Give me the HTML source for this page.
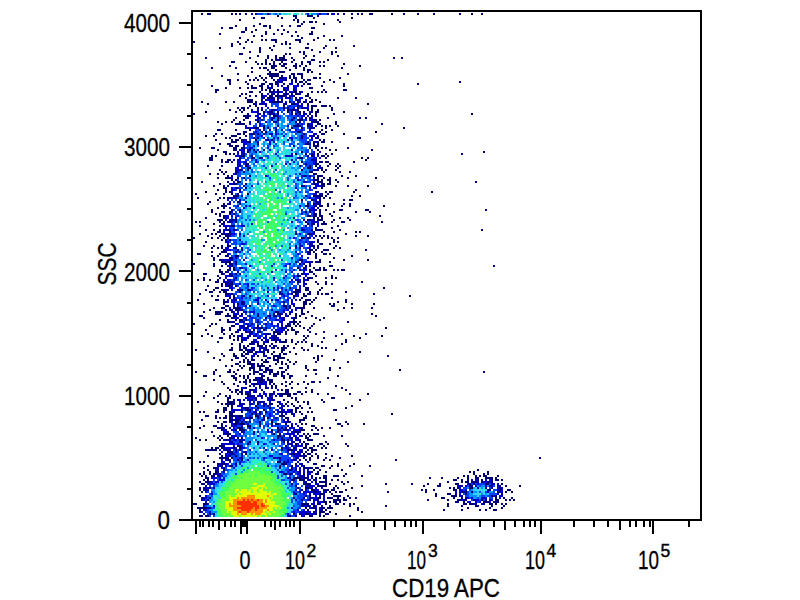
<!DOCTYPE html>
<html><head><meta charset="utf-8"><style>html,body{margin:0;padding:0;background:#fff;width:800px;height:600px;overflow:hidden}svg{display:block}</style></head>
<body><svg width="800" height="600" viewBox="0 0 800 600">
<g shape-rendering="crispEdges">
<path fill="#000070" d="M201 13h2v2h-2zM207 13h2v2h-2zM209 13h2v2h-2zM231 13h2v2h-2zM235 13h2v2h-2zM239 13h2v2h-2zM245 13h2v2h-2zM255 13h2v2h-2zM267 13h2v2h-2zM319 13h2v2h-2zM327 13h2v2h-2zM343 13h2v2h-2zM351 13h2v2h-2zM357 13h2v2h-2zM361 13h2v2h-2zM369 13h2v2h-2zM371 13h2v2h-2zM391 13h2v2h-2zM403 13h2v2h-2zM417 13h2v2h-2zM433 13h2v2h-2zM459 13h2v2h-2zM471 13h2v2h-2zM481 13h2v2h-2zM277 15h2v2h-2zM293 15h2v2h-2zM295 15h2v2h-2zM307 15h2v2h-2zM309 15h2v2h-2zM311 15h2v2h-2zM317 15h2v2h-2zM253 17h2v2h-2zM261 17h2v2h-2zM263 17h2v2h-2zM281 17h2v2h-2zM295 17h2v2h-2zM313 17h2v2h-2zM351 17h2v2h-2zM239 19h2v2h-2zM293 19h2v2h-2zM297 19h2v2h-2zM337 19h2v2h-2zM297 21h2v2h-2zM303 21h2v2h-2zM309 21h2v2h-2zM311 21h2v2h-2zM315 21h2v2h-2zM339 21h2v2h-2zM259 23h2v2h-2zM301 23h2v2h-2zM323 23h2v2h-2zM235 25h2v2h-2zM253 25h2v2h-2zM263 25h2v2h-2zM265 25h2v2h-2zM269 25h2v2h-2zM281 25h2v2h-2zM289 25h2v2h-2zM297 25h2v2h-2zM299 25h2v2h-2zM221 27h2v2h-2zM229 27h2v2h-2zM231 27h2v2h-2zM245 27h2v2h-2zM269 27h2v2h-2zM311 27h2v2h-2zM313 27h2v2h-2zM245 29h2v2h-2zM255 29h2v2h-2zM277 29h2v2h-2zM283 29h2v2h-2zM241 31h2v2h-2zM243 31h2v2h-2zM251 31h2v2h-2zM265 31h2v2h-2zM287 31h2v2h-2zM295 31h2v2h-2zM311 31h2v2h-2zM219 33h2v2h-2zM265 33h2v2h-2zM273 33h2v2h-2zM281 33h2v2h-2zM309 33h2v2h-2zM311 33h2v2h-2zM253 35h2v2h-2zM261 35h2v2h-2zM291 35h2v2h-2zM297 35h2v2h-2zM323 35h2v2h-2zM341 35h2v2h-2zM239 37h2v2h-2zM301 37h2v2h-2zM317 37h2v2h-2zM247 39h2v2h-2zM261 39h2v2h-2zM265 39h2v2h-2zM271 39h2v2h-2zM273 39h2v2h-2zM275 39h2v2h-2zM295 39h2v2h-2zM297 39h2v2h-2zM299 39h2v2h-2zM313 39h2v2h-2zM329 39h2v2h-2zM333 39h2v2h-2zM193 41h2v2h-2zM237 41h2v2h-2zM245 41h2v2h-2zM251 41h2v2h-2zM275 41h2v2h-2zM285 41h2v2h-2zM299 41h2v2h-2zM231 43h2v2h-2zM239 43h2v2h-2zM281 43h2v2h-2zM285 43h2v2h-2zM289 43h2v2h-2zM307 43h2v2h-2zM231 45h2v2h-2zM273 45h2v2h-2zM325 45h2v2h-2zM353 45h2v2h-2zM219 47h2v2h-2zM243 47h2v2h-2zM259 47h2v2h-2zM269 47h2v2h-2zM289 47h2v2h-2zM305 47h2v2h-2zM307 47h2v2h-2zM323 47h2v2h-2zM335 47h2v2h-2zM259 49h2v2h-2zM271 49h2v2h-2zM311 49h2v2h-2zM249 51h2v2h-2zM259 51h2v2h-2zM299 51h2v2h-2zM303 51h2v2h-2zM319 51h2v2h-2zM331 51h2v2h-2zM335 51h2v2h-2zM239 53h2v2h-2zM241 53h2v2h-2zM285 53h2v2h-2zM289 53h2v2h-2zM303 53h2v2h-2zM331 53h2v2h-2zM257 55h2v2h-2zM267 55h2v2h-2zM275 55h2v2h-2zM283 55h2v2h-2zM305 55h2v2h-2zM313 55h2v2h-2zM337 55h2v2h-2zM205 57h2v2h-2zM249 57h2v2h-2zM267 57h2v2h-2zM275 57h2v2h-2zM279 57h2v2h-2zM281 57h2v2h-2zM283 57h2v2h-2zM291 57h2v2h-2zM303 57h2v2h-2zM393 57h2v2h-2zM401 57h2v2h-2zM265 59h2v2h-2zM271 59h2v2h-2zM275 59h2v2h-2zM277 59h2v2h-2zM279 59h2v2h-2zM281 59h2v2h-2zM283 59h2v2h-2zM285 59h2v2h-2zM293 59h2v2h-2zM311 59h2v2h-2zM313 59h2v2h-2zM327 59h2v2h-2zM231 61h2v2h-2zM233 61h2v2h-2zM245 61h2v2h-2zM255 61h2v2h-2zM265 61h2v2h-2zM273 61h2v2h-2zM281 61h2v2h-2zM291 61h2v2h-2zM301 61h2v2h-2zM307 61h2v2h-2zM309 61h2v2h-2zM319 61h2v2h-2zM323 61h2v2h-2zM257 63h2v2h-2zM261 63h2v2h-2zM265 63h2v2h-2zM269 63h2v2h-2zM273 63h2v2h-2zM279 63h2v2h-2zM283 63h2v2h-2zM285 63h2v2h-2zM295 63h2v2h-2zM301 63h2v2h-2zM309 63h2v2h-2zM343 63h2v2h-2zM229 65h2v2h-2zM271 65h2v2h-2zM273 65h2v2h-2zM275 65h2v2h-2zM281 65h2v2h-2zM283 65h2v2h-2zM293 65h2v2h-2zM295 65h2v2h-2zM299 65h2v2h-2zM305 65h2v2h-2zM319 65h2v2h-2zM323 65h2v2h-2zM359 65h2v2h-2zM211 67h2v2h-2zM235 67h2v2h-2zM251 67h2v2h-2zM259 67h2v2h-2zM263 67h2v2h-2zM265 67h2v2h-2zM271 67h2v2h-2zM273 67h2v2h-2zM285 67h2v2h-2zM295 67h2v2h-2zM303 67h2v2h-2zM341 67h2v2h-2zM267 69h2v2h-2zM275 69h2v2h-2zM289 69h2v2h-2zM303 69h2v2h-2zM307 69h2v2h-2zM309 69h2v2h-2zM251 71h2v2h-2zM269 71h2v2h-2zM279 71h2v2h-2zM281 71h2v2h-2zM283 71h2v2h-2zM307 71h2v2h-2zM311 71h2v2h-2zM237 73h2v2h-2zM267 73h2v2h-2zM269 73h2v2h-2zM271 73h2v2h-2zM273 73h2v2h-2zM275 73h2v2h-2zM277 73h2v2h-2zM291 73h2v2h-2zM293 73h2v2h-2zM297 73h2v2h-2zM299 73h2v2h-2zM301 73h2v2h-2zM319 73h2v2h-2zM347 73h2v2h-2zM221 75h2v2h-2zM247 75h2v2h-2zM259 75h2v2h-2zM269 75h2v2h-2zM271 75h2v2h-2zM273 75h2v2h-2zM275 75h2v2h-2zM277 75h2v2h-2zM281 75h2v2h-2zM289 75h2v2h-2zM293 75h2v2h-2zM301 75h2v2h-2zM255 77h2v2h-2zM261 77h2v2h-2zM265 77h2v2h-2zM271 77h2v2h-2zM279 77h2v2h-2zM281 77h2v2h-2zM289 77h2v2h-2zM293 77h2v2h-2zM295 77h2v2h-2zM301 77h2v2h-2zM313 77h2v2h-2zM315 77h2v2h-2zM319 77h2v2h-2zM339 77h2v2h-2zM227 79h2v2h-2zM229 79h2v2h-2zM237 79h2v2h-2zM249 79h2v2h-2zM253 79h2v2h-2zM257 79h2v2h-2zM263 79h2v2h-2zM273 79h2v2h-2zM285 79h2v2h-2zM291 79h2v2h-2zM295 79h2v2h-2zM303 79h2v2h-2zM307 79h2v2h-2zM309 79h2v2h-2zM329 79h2v2h-2zM229 81h2v2h-2zM245 81h2v2h-2zM265 81h2v2h-2zM275 81h2v2h-2zM277 81h2v2h-2zM281 81h2v2h-2zM295 81h2v2h-2zM299 81h2v2h-2zM301 81h2v2h-2zM305 81h2v2h-2zM323 81h2v2h-2zM333 81h2v2h-2zM459 81h2v2h-2zM229 83h2v2h-2zM247 83h2v2h-2zM261 83h2v2h-2zM263 83h2v2h-2zM269 83h2v2h-2zM271 83h2v2h-2zM275 83h2v2h-2zM283 83h2v2h-2zM297 83h2v2h-2zM303 83h2v2h-2zM307 83h2v2h-2zM309 83h2v2h-2zM343 83h2v2h-2zM417 83h2v2h-2zM211 85h2v2h-2zM251 85h2v2h-2zM259 85h2v2h-2zM261 85h2v2h-2zM287 85h2v2h-2zM321 85h2v2h-2zM343 85h2v2h-2zM225 87h2v2h-2zM239 87h2v2h-2zM247 87h2v2h-2zM251 87h2v2h-2zM253 87h2v2h-2zM255 87h2v2h-2zM261 87h2v2h-2zM267 87h2v2h-2zM271 87h2v2h-2zM287 87h2v2h-2zM309 87h2v2h-2zM311 87h2v2h-2zM215 89h2v2h-2zM217 89h2v2h-2zM261 89h2v2h-2zM265 89h2v2h-2zM269 89h2v2h-2zM273 89h2v2h-2zM277 89h2v2h-2zM283 89h2v2h-2zM293 89h2v2h-2zM323 89h2v2h-2zM343 89h2v2h-2zM345 89h2v2h-2zM215 91h2v2h-2zM249 91h2v2h-2zM251 91h2v2h-2zM259 91h2v2h-2zM269 91h2v2h-2zM271 91h2v2h-2zM277 91h2v2h-2zM293 91h2v2h-2zM295 91h2v2h-2zM299 91h2v2h-2zM311 91h2v2h-2zM317 91h2v2h-2zM321 91h2v2h-2zM325 91h2v2h-2zM241 93h2v2h-2zM245 93h2v2h-2zM261 93h2v2h-2zM273 93h2v2h-2zM285 93h2v2h-2zM291 93h2v2h-2zM295 93h2v2h-2zM297 93h2v2h-2zM307 93h2v2h-2zM239 95h2v2h-2zM249 95h2v2h-2zM255 95h2v2h-2zM261 95h2v2h-2zM269 95h2v2h-2zM271 95h2v2h-2zM275 95h2v2h-2zM277 95h2v2h-2zM279 95h2v2h-2zM281 95h2v2h-2zM283 95h2v2h-2zM293 95h2v2h-2zM305 95h2v2h-2zM307 95h2v2h-2zM245 97h2v2h-2zM263 97h2v2h-2zM267 97h2v2h-2zM269 97h2v2h-2zM271 97h2v2h-2zM277 97h2v2h-2zM289 97h2v2h-2zM295 97h2v2h-2zM309 97h2v2h-2zM337 97h2v2h-2zM355 97h2v2h-2zM247 99h2v2h-2zM249 99h2v2h-2zM251 99h2v2h-2zM261 99h2v2h-2zM265 99h2v2h-2zM273 99h2v2h-2zM281 99h2v2h-2zM297 99h2v2h-2zM311 99h2v2h-2zM315 99h2v2h-2zM201 101h2v2h-2zM225 101h2v2h-2zM233 101h2v2h-2zM247 101h2v2h-2zM249 101h2v2h-2zM251 101h2v2h-2zM255 101h2v2h-2zM271 101h2v2h-2zM273 101h2v2h-2zM275 101h2v2h-2zM277 101h2v2h-2zM279 101h2v2h-2zM289 101h2v2h-2zM297 101h2v2h-2zM303 101h2v2h-2zM309 101h2v2h-2zM311 101h2v2h-2zM319 101h2v2h-2zM207 103h2v2h-2zM253 103h2v2h-2zM261 103h2v2h-2zM265 103h2v2h-2zM285 103h2v2h-2zM291 103h2v2h-2zM293 103h2v2h-2zM307 103h2v2h-2zM367 103h2v2h-2zM249 105h2v2h-2zM255 105h2v2h-2zM283 105h2v2h-2zM297 105h2v2h-2zM311 105h2v2h-2zM313 105h2v2h-2zM315 105h2v2h-2zM321 105h2v2h-2zM323 105h2v2h-2zM325 105h2v2h-2zM329 105h2v2h-2zM237 107h2v2h-2zM241 107h2v2h-2zM243 107h2v2h-2zM247 107h2v2h-2zM257 107h2v2h-2zM283 107h2v2h-2zM287 107h2v2h-2zM297 107h2v2h-2zM301 107h2v2h-2zM311 107h2v2h-2zM331 107h2v2h-2zM229 109h2v2h-2zM239 109h2v2h-2zM243 109h2v2h-2zM251 109h2v2h-2zM261 109h2v2h-2zM271 109h2v2h-2zM287 109h2v2h-2zM291 109h2v2h-2zM293 109h2v2h-2zM297 109h2v2h-2zM307 109h2v2h-2zM311 109h2v2h-2zM317 109h2v2h-2zM331 109h2v2h-2zM205 111h2v2h-2zM235 111h2v2h-2zM241 111h2v2h-2zM257 111h2v2h-2zM263 111h2v2h-2zM269 111h2v2h-2zM271 111h2v2h-2zM277 111h2v2h-2zM287 111h2v2h-2zM291 111h2v2h-2zM297 111h2v2h-2zM299 111h2v2h-2zM303 111h2v2h-2zM311 111h2v2h-2zM315 111h2v2h-2zM317 111h2v2h-2zM343 111h2v2h-2zM193 113h2v2h-2zM247 113h2v2h-2zM259 113h2v2h-2zM269 113h2v2h-2zM273 113h2v2h-2zM277 113h2v2h-2zM291 113h2v2h-2zM295 113h2v2h-2zM299 113h2v2h-2zM309 113h2v2h-2zM315 113h2v2h-2zM333 113h2v2h-2zM471 113h2v2h-2zM243 115h2v2h-2zM245 115h2v2h-2zM247 115h2v2h-2zM273 115h2v2h-2zM275 115h2v2h-2zM315 115h2v2h-2zM235 117h2v2h-2zM245 117h2v2h-2zM247 117h2v2h-2zM259 117h2v2h-2zM271 117h2v2h-2zM277 117h2v2h-2zM293 117h2v2h-2zM301 117h2v2h-2zM305 117h2v2h-2zM309 117h2v2h-2zM327 117h2v2h-2zM359 117h2v2h-2zM365 117h2v2h-2zM233 119h2v2h-2zM243 119h2v2h-2zM257 119h2v2h-2zM261 119h2v2h-2zM271 119h2v2h-2zM277 119h2v2h-2zM291 119h2v2h-2zM297 119h2v2h-2zM299 119h2v2h-2zM301 119h2v2h-2zM313 119h2v2h-2zM315 119h2v2h-2zM319 119h2v2h-2zM217 121h2v2h-2zM225 121h2v2h-2zM231 121h2v2h-2zM239 121h2v2h-2zM257 121h2v2h-2zM275 121h2v2h-2zM295 121h2v2h-2zM299 121h2v2h-2zM313 121h2v2h-2zM315 121h2v2h-2zM317 121h2v2h-2zM335 121h2v2h-2zM221 123h2v2h-2zM235 123h2v2h-2zM237 123h2v2h-2zM239 123h2v2h-2zM241 123h2v2h-2zM243 123h2v2h-2zM297 123h2v2h-2zM307 123h2v2h-2zM317 123h2v2h-2zM319 123h2v2h-2zM335 123h2v2h-2zM381 123h2v2h-2zM263 125h2v2h-2zM277 125h2v2h-2zM293 125h2v2h-2zM295 125h2v2h-2zM297 125h2v2h-2zM299 125h2v2h-2zM307 125h2v2h-2zM311 125h2v2h-2zM321 125h2v2h-2zM325 125h2v2h-2zM329 125h2v2h-2zM337 125h2v2h-2zM247 127h2v2h-2zM253 127h2v2h-2zM255 127h2v2h-2zM257 127h2v2h-2zM263 127h2v2h-2zM267 127h2v2h-2zM291 127h2v2h-2zM301 127h2v2h-2zM309 127h2v2h-2zM313 127h2v2h-2zM325 127h2v2h-2zM403 127h2v2h-2zM217 129h2v2h-2zM219 129h2v2h-2zM235 129h2v2h-2zM249 129h2v2h-2zM259 129h2v2h-2zM275 129h2v2h-2zM289 129h2v2h-2zM321 129h2v2h-2zM331 129h2v2h-2zM243 131h2v2h-2zM245 131h2v2h-2zM261 131h2v2h-2zM265 131h2v2h-2zM297 131h2v2h-2zM299 131h2v2h-2zM319 131h2v2h-2zM325 131h2v2h-2zM375 131h2v2h-2zM215 133h2v2h-2zM221 133h2v2h-2zM237 133h2v2h-2zM239 133h2v2h-2zM243 133h2v2h-2zM251 133h2v2h-2zM253 133h2v2h-2zM257 133h2v2h-2zM263 133h2v2h-2zM303 133h2v2h-2zM321 133h2v2h-2zM323 133h2v2h-2zM343 133h2v2h-2zM205 135h2v2h-2zM213 135h2v2h-2zM231 135h2v2h-2zM233 135h2v2h-2zM235 135h2v2h-2zM245 135h2v2h-2zM301 135h2v2h-2zM313 135h2v2h-2zM317 135h2v2h-2zM225 137h2v2h-2zM229 137h2v2h-2zM239 137h2v2h-2zM253 137h2v2h-2zM257 137h2v2h-2zM301 137h2v2h-2zM317 137h2v2h-2zM357 137h2v2h-2zM359 137h2v2h-2zM215 139h2v2h-2zM231 139h2v2h-2zM235 139h2v2h-2zM237 139h2v2h-2zM241 139h2v2h-2zM243 139h2v2h-2zM255 139h2v2h-2zM267 139h2v2h-2zM271 139h2v2h-2zM287 139h2v2h-2zM319 139h2v2h-2zM323 139h2v2h-2zM231 141h2v2h-2zM233 141h2v2h-2zM235 141h2v2h-2zM247 141h2v2h-2zM249 141h2v2h-2zM307 141h2v2h-2zM313 141h2v2h-2zM317 141h2v2h-2zM321 141h2v2h-2zM323 141h2v2h-2zM331 141h2v2h-2zM219 143h2v2h-2zM227 143h2v2h-2zM229 143h2v2h-2zM257 143h2v2h-2zM305 143h2v2h-2zM307 143h2v2h-2zM313 143h2v2h-2zM317 143h2v2h-2zM229 145h2v2h-2zM231 145h2v2h-2zM235 145h2v2h-2zM237 145h2v2h-2zM313 145h2v2h-2zM315 145h2v2h-2zM317 145h2v2h-2zM199 147h2v2h-2zM211 147h2v2h-2zM213 147h2v2h-2zM233 147h2v2h-2zM235 147h2v2h-2zM241 147h2v2h-2zM243 147h2v2h-2zM309 147h2v2h-2zM315 147h2v2h-2zM321 147h2v2h-2zM325 147h2v2h-2zM347 147h2v2h-2zM217 149h2v2h-2zM233 149h2v2h-2zM235 149h2v2h-2zM243 149h2v2h-2zM249 149h2v2h-2zM253 149h2v2h-2zM263 149h2v2h-2zM317 149h2v2h-2zM329 149h2v2h-2zM335 149h2v2h-2zM371 149h2v2h-2zM223 151h2v2h-2zM225 151h2v2h-2zM247 151h2v2h-2zM255 151h2v2h-2zM301 151h2v2h-2zM483 151h2v2h-2zM225 153h2v2h-2zM229 153h2v2h-2zM233 153h2v2h-2zM243 153h2v2h-2zM295 153h2v2h-2zM305 153h2v2h-2zM311 153h2v2h-2zM317 153h2v2h-2zM325 153h2v2h-2zM331 153h2v2h-2zM461 153h2v2h-2zM211 155h2v2h-2zM215 155h2v2h-2zM241 155h2v2h-2zM243 155h2v2h-2zM251 155h2v2h-2zM307 155h2v2h-2zM311 155h2v2h-2zM321 155h2v2h-2zM323 155h2v2h-2zM327 155h2v2h-2zM209 157h2v2h-2zM211 157h2v2h-2zM239 157h2v2h-2zM251 157h2v2h-2zM259 157h2v2h-2zM299 157h2v2h-2zM301 157h2v2h-2zM325 157h2v2h-2zM361 157h2v2h-2zM367 157h2v2h-2zM209 159h2v2h-2zM211 159h2v2h-2zM221 159h2v2h-2zM227 159h2v2h-2zM229 159h2v2h-2zM311 159h2v2h-2zM315 159h2v2h-2zM365 159h2v2h-2zM221 161h2v2h-2zM225 161h2v2h-2zM227 161h2v2h-2zM231 161h2v2h-2zM301 161h2v2h-2zM315 161h2v2h-2zM319 161h2v2h-2zM321 161h2v2h-2zM325 161h2v2h-2zM327 161h2v2h-2zM353 161h2v2h-2zM245 163h2v2h-2zM247 163h2v2h-2zM305 163h2v2h-2zM315 163h2v2h-2zM317 163h2v2h-2zM329 163h2v2h-2zM337 163h2v2h-2zM207 165h2v2h-2zM221 165h2v2h-2zM239 165h2v2h-2zM245 165h2v2h-2zM299 165h2v2h-2zM309 165h2v2h-2zM315 165h2v2h-2zM327 165h2v2h-2zM335 165h2v2h-2zM339 165h2v2h-2zM247 167h2v2h-2zM249 167h2v2h-2zM307 167h2v2h-2zM309 167h2v2h-2zM321 167h2v2h-2zM337 167h2v2h-2zM219 169h2v2h-2zM239 169h2v2h-2zM247 169h2v2h-2zM301 169h2v2h-2zM313 169h2v2h-2zM317 169h2v2h-2zM321 169h2v2h-2zM325 169h2v2h-2zM335 169h2v2h-2zM221 171h2v2h-2zM225 171h2v2h-2zM235 171h2v2h-2zM243 171h2v2h-2zM309 171h2v2h-2zM311 171h2v2h-2zM323 171h2v2h-2zM339 171h2v2h-2zM349 171h2v2h-2zM209 173h2v2h-2zM217 173h2v2h-2zM223 173h2v2h-2zM235 173h2v2h-2zM313 173h2v2h-2zM315 173h2v2h-2zM227 175h2v2h-2zM231 175h2v2h-2zM249 175h2v2h-2zM303 175h2v2h-2zM309 175h2v2h-2zM317 175h2v2h-2zM319 175h2v2h-2zM321 175h2v2h-2zM341 175h2v2h-2zM355 175h2v2h-2zM217 177h2v2h-2zM225 177h2v2h-2zM227 177h2v2h-2zM229 177h2v2h-2zM237 177h2v2h-2zM243 177h2v2h-2zM313 177h2v2h-2zM317 177h2v2h-2zM323 177h2v2h-2zM329 177h2v2h-2zM347 177h2v2h-2zM375 177h2v2h-2zM231 179h2v2h-2zM235 179h2v2h-2zM315 179h2v2h-2zM317 179h2v2h-2zM321 179h2v2h-2zM327 179h2v2h-2zM329 179h2v2h-2zM335 179h2v2h-2zM201 181h2v2h-2zM227 181h2v2h-2zM237 181h2v2h-2zM239 181h2v2h-2zM313 181h2v2h-2zM317 181h2v2h-2zM319 181h2v2h-2zM321 181h2v2h-2zM329 181h2v2h-2zM337 181h2v2h-2zM475 181h2v2h-2zM219 183h2v2h-2zM233 183h2v2h-2zM235 183h2v2h-2zM245 183h2v2h-2zM313 183h2v2h-2zM321 183h2v2h-2zM323 183h2v2h-2zM327 183h2v2h-2zM329 183h2v2h-2zM213 185h2v2h-2zM223 185h2v2h-2zM227 185h2v2h-2zM303 185h2v2h-2zM321 185h2v2h-2zM323 185h2v2h-2zM335 185h2v2h-2zM347 185h2v2h-2zM367 185h2v2h-2zM223 187h2v2h-2zM225 187h2v2h-2zM235 187h2v2h-2zM245 187h2v2h-2zM321 187h2v2h-2zM217 189h2v2h-2zM225 189h2v2h-2zM239 189h2v2h-2zM355 189h2v2h-2zM205 191h2v2h-2zM225 191h2v2h-2zM229 191h2v2h-2zM315 191h2v2h-2zM317 191h2v2h-2zM325 191h2v2h-2zM329 191h2v2h-2zM331 191h2v2h-2zM353 191h2v2h-2zM431 191h2v2h-2zM195 193h2v2h-2zM215 193h2v2h-2zM223 193h2v2h-2zM231 193h2v2h-2zM237 193h2v2h-2zM247 193h2v2h-2zM321 193h2v2h-2zM327 193h2v2h-2zM233 195h2v2h-2zM235 195h2v2h-2zM237 195h2v2h-2zM305 195h2v2h-2zM313 195h2v2h-2zM315 195h2v2h-2zM317 195h2v2h-2zM319 195h2v2h-2zM321 195h2v2h-2zM325 195h2v2h-2zM351 195h2v2h-2zM359 195h2v2h-2zM197 197h2v2h-2zM219 197h2v2h-2zM223 197h2v2h-2zM227 197h2v2h-2zM229 197h2v2h-2zM233 197h2v2h-2zM319 197h2v2h-2zM323 197h2v2h-2zM329 197h2v2h-2zM217 199h2v2h-2zM301 199h2v2h-2zM311 199h2v2h-2zM319 199h2v2h-2zM343 199h2v2h-2zM349 199h2v2h-2zM351 199h2v2h-2zM209 201h2v2h-2zM237 201h2v2h-2zM245 201h2v2h-2zM315 201h2v2h-2zM319 201h2v2h-2zM207 203h2v2h-2zM223 203h2v2h-2zM229 203h2v2h-2zM239 203h2v2h-2zM307 203h2v2h-2zM313 203h2v2h-2zM317 203h2v2h-2zM327 203h2v2h-2zM333 203h2v2h-2zM343 203h2v2h-2zM349 203h2v2h-2zM221 205h2v2h-2zM223 205h2v2h-2zM225 205h2v2h-2zM305 205h2v2h-2zM307 205h2v2h-2zM315 205h2v2h-2zM319 205h2v2h-2zM321 205h2v2h-2zM327 205h2v2h-2zM341 205h2v2h-2zM349 205h2v2h-2zM383 205h2v2h-2zM217 207h2v2h-2zM223 207h2v2h-2zM211 209h2v2h-2zM231 209h2v2h-2zM239 209h2v2h-2zM309 209h2v2h-2zM315 209h2v2h-2zM319 209h2v2h-2zM325 209h2v2h-2zM339 209h2v2h-2zM341 209h2v2h-2zM365 209h2v2h-2zM367 209h2v2h-2zM485 209h2v2h-2zM211 211h2v2h-2zM221 211h2v2h-2zM223 211h2v2h-2zM229 211h2v2h-2zM239 211h2v2h-2zM305 211h2v2h-2zM309 211h2v2h-2zM319 211h2v2h-2zM333 211h2v2h-2zM355 211h2v2h-2zM369 211h2v2h-2zM215 213h2v2h-2zM219 213h2v2h-2zM229 213h2v2h-2zM233 213h2v2h-2zM313 213h2v2h-2zM315 213h2v2h-2zM319 213h2v2h-2zM329 213h2v2h-2zM219 215h2v2h-2zM223 215h2v2h-2zM307 215h2v2h-2zM309 215h2v2h-2zM313 215h2v2h-2zM315 215h2v2h-2zM319 215h2v2h-2zM321 215h2v2h-2zM331 215h2v2h-2zM379 215h2v2h-2zM205 217h2v2h-2zM223 217h2v2h-2zM313 217h2v2h-2zM317 217h2v2h-2zM321 217h2v2h-2zM339 217h2v2h-2zM347 217h2v2h-2zM217 219h2v2h-2zM219 219h2v2h-2zM221 219h2v2h-2zM231 219h2v2h-2zM235 219h2v2h-2zM307 219h2v2h-2zM309 219h2v2h-2zM313 219h2v2h-2zM317 219h2v2h-2zM319 219h2v2h-2zM321 219h2v2h-2zM333 219h2v2h-2zM349 219h2v2h-2zM195 221h2v2h-2zM199 221h2v2h-2zM219 221h2v2h-2zM223 221h2v2h-2zM229 221h2v2h-2zM235 221h2v2h-2zM305 221h2v2h-2zM323 221h2v2h-2zM331 221h2v2h-2zM341 221h2v2h-2zM343 221h2v2h-2zM381 221h2v2h-2zM213 223h2v2h-2zM221 223h2v2h-2zM307 223h2v2h-2zM311 223h2v2h-2zM313 223h2v2h-2zM321 223h2v2h-2zM323 223h2v2h-2zM325 223h2v2h-2zM199 225h2v2h-2zM219 225h2v2h-2zM231 225h2v2h-2zM233 225h2v2h-2zM305 225h2v2h-2zM337 225h2v2h-2zM225 227h2v2h-2zM315 227h2v2h-2zM331 227h2v2h-2zM205 229h2v2h-2zM213 229h2v2h-2zM219 229h2v2h-2zM227 229h2v2h-2zM233 229h2v2h-2zM301 229h2v2h-2zM311 229h2v2h-2zM315 229h2v2h-2zM317 229h2v2h-2zM319 229h2v2h-2zM321 229h2v2h-2zM339 229h2v2h-2zM481 229h2v2h-2zM217 231h2v2h-2zM219 231h2v2h-2zM229 231h2v2h-2zM313 231h2v2h-2zM323 231h2v2h-2zM333 231h2v2h-2zM355 231h2v2h-2zM359 231h2v2h-2zM199 233h2v2h-2zM211 233h2v2h-2zM215 233h2v2h-2zM221 233h2v2h-2zM223 233h2v2h-2zM227 233h2v2h-2zM229 233h2v2h-2zM295 233h2v2h-2zM307 233h2v2h-2zM309 233h2v2h-2zM345 233h2v2h-2zM207 235h2v2h-2zM219 235h2v2h-2zM225 235h2v2h-2zM227 235h2v2h-2zM315 235h2v2h-2zM319 235h2v2h-2zM323 235h2v2h-2zM327 235h2v2h-2zM355 235h2v2h-2zM367 235h2v2h-2zM193 237h2v2h-2zM211 237h2v2h-2zM217 237h2v2h-2zM223 237h2v2h-2zM227 237h2v2h-2zM301 237h2v2h-2zM303 237h2v2h-2zM307 237h2v2h-2zM321 237h2v2h-2zM327 237h2v2h-2zM331 237h2v2h-2zM337 237h2v2h-2zM221 239h2v2h-2zM225 239h2v2h-2zM229 239h2v2h-2zM239 239h2v2h-2zM317 239h2v2h-2zM333 239h2v2h-2zM205 241h2v2h-2zM317 241h2v2h-2zM333 241h2v2h-2zM337 241h2v2h-2zM309 243h2v2h-2zM319 243h2v2h-2zM321 243h2v2h-2zM329 243h2v2h-2zM203 245h2v2h-2zM213 245h2v2h-2zM221 245h2v2h-2zM227 245h2v2h-2zM229 245h2v2h-2zM295 245h2v2h-2zM311 245h2v2h-2zM313 245h2v2h-2zM317 245h2v2h-2zM335 245h2v2h-2zM211 247h2v2h-2zM217 247h2v2h-2zM221 247h2v2h-2zM235 247h2v2h-2zM299 247h2v2h-2zM317 247h2v2h-2zM333 247h2v2h-2zM339 247h2v2h-2zM223 249h2v2h-2zM237 249h2v2h-2zM241 249h2v2h-2zM309 249h2v2h-2zM311 249h2v2h-2zM315 249h2v2h-2zM323 249h2v2h-2zM325 249h2v2h-2zM327 249h2v2h-2zM365 249h2v2h-2zM211 251h2v2h-2zM221 251h2v2h-2zM223 251h2v2h-2zM225 251h2v2h-2zM235 251h2v2h-2zM307 251h2v2h-2zM309 251h2v2h-2zM313 251h2v2h-2zM321 251h2v2h-2zM197 253h2v2h-2zM199 253h2v2h-2zM219 253h2v2h-2zM309 253h2v2h-2zM315 253h2v2h-2zM323 253h2v2h-2zM325 253h2v2h-2zM329 253h2v2h-2zM211 255h2v2h-2zM217 255h2v2h-2zM225 255h2v2h-2zM227 255h2v2h-2zM235 255h2v2h-2zM237 255h2v2h-2zM315 255h2v2h-2zM351 255h2v2h-2zM213 257h2v2h-2zM229 257h2v2h-2zM231 257h2v2h-2zM315 257h2v2h-2zM333 257h2v2h-2zM213 259h2v2h-2zM219 259h2v2h-2zM221 259h2v2h-2zM231 259h2v2h-2zM299 259h2v2h-2zM301 259h2v2h-2zM319 259h2v2h-2zM343 259h2v2h-2zM367 259h2v2h-2zM221 261h2v2h-2zM225 261h2v2h-2zM227 261h2v2h-2zM229 261h2v2h-2zM235 261h2v2h-2zM295 261h2v2h-2zM311 261h2v2h-2zM315 261h2v2h-2zM317 261h2v2h-2zM319 261h2v2h-2zM329 261h2v2h-2zM193 263h2v2h-2zM213 263h2v2h-2zM229 263h2v2h-2zM231 263h2v2h-2zM235 263h2v2h-2zM299 263h2v2h-2zM303 263h2v2h-2zM213 265h2v2h-2zM221 265h2v2h-2zM231 265h2v2h-2zM305 265h2v2h-2zM309 265h2v2h-2zM329 265h2v2h-2zM331 265h2v2h-2zM493 265h2v2h-2zM229 267h2v2h-2zM233 267h2v2h-2zM239 267h2v2h-2zM297 267h2v2h-2zM303 267h2v2h-2zM313 267h2v2h-2zM319 267h2v2h-2zM323 267h2v2h-2zM219 269h2v2h-2zM227 269h2v2h-2zM233 269h2v2h-2zM299 269h2v2h-2zM309 269h2v2h-2zM315 269h2v2h-2zM317 269h2v2h-2zM319 269h2v2h-2zM323 269h2v2h-2zM325 269h2v2h-2zM333 269h2v2h-2zM337 269h2v2h-2zM341 269h2v2h-2zM343 269h2v2h-2zM219 271h2v2h-2zM221 271h2v2h-2zM225 271h2v2h-2zM309 271h2v2h-2zM311 271h2v2h-2zM203 273h2v2h-2zM205 273h2v2h-2zM221 273h2v2h-2zM229 273h2v2h-2zM235 273h2v2h-2zM239 273h2v2h-2zM301 273h2v2h-2zM313 273h2v2h-2zM217 275h2v2h-2zM231 275h2v2h-2zM297 275h2v2h-2zM315 275h2v2h-2zM331 275h2v2h-2zM203 277h2v2h-2zM219 277h2v2h-2zM235 277h2v2h-2zM307 277h2v2h-2zM309 277h2v2h-2zM311 277h2v2h-2zM325 277h2v2h-2zM331 277h2v2h-2zM335 277h2v2h-2zM197 279h2v2h-2zM203 279h2v2h-2zM209 279h2v2h-2zM217 279h2v2h-2zM297 279h2v2h-2zM307 279h2v2h-2zM215 281h2v2h-2zM217 281h2v2h-2zM227 281h2v2h-2zM231 281h2v2h-2zM297 281h2v2h-2zM303 281h2v2h-2zM315 281h2v2h-2zM325 281h2v2h-2zM361 281h2v2h-2zM221 283h2v2h-2zM225 283h2v2h-2zM229 283h2v2h-2zM231 283h2v2h-2zM305 283h2v2h-2zM317 283h2v2h-2zM325 283h2v2h-2zM331 283h2v2h-2zM207 285h2v2h-2zM221 285h2v2h-2zM227 285h2v2h-2zM229 285h2v2h-2zM235 285h2v2h-2zM215 287h2v2h-2zM217 287h2v2h-2zM289 287h2v2h-2zM305 287h2v2h-2zM307 287h2v2h-2zM321 287h2v2h-2zM383 287h2v2h-2zM205 289h2v2h-2zM213 289h2v2h-2zM221 289h2v2h-2zM223 289h2v2h-2zM227 289h2v2h-2zM237 289h2v2h-2zM241 289h2v2h-2zM247 289h2v2h-2zM295 289h2v2h-2zM297 289h2v2h-2zM299 289h2v2h-2zM305 289h2v2h-2zM307 289h2v2h-2zM319 289h2v2h-2zM209 291h2v2h-2zM211 291h2v2h-2zM219 291h2v2h-2zM223 291h2v2h-2zM225 291h2v2h-2zM239 291h2v2h-2zM279 291h2v2h-2zM293 291h2v2h-2zM295 291h2v2h-2zM297 291h2v2h-2zM309 291h2v2h-2zM317 291h2v2h-2zM331 291h2v2h-2zM345 291h2v2h-2zM199 293h2v2h-2zM225 293h2v2h-2zM227 293h2v2h-2zM231 293h2v2h-2zM281 293h2v2h-2zM291 293h2v2h-2zM295 293h2v2h-2zM303 293h2v2h-2zM307 293h2v2h-2zM309 293h2v2h-2zM317 293h2v2h-2zM321 293h2v2h-2zM325 293h2v2h-2zM327 293h2v2h-2zM373 293h2v2h-2zM211 295h2v2h-2zM217 295h2v2h-2zM233 295h2v2h-2zM243 295h2v2h-2zM249 295h2v2h-2zM293 295h2v2h-2zM303 295h2v2h-2zM305 295h2v2h-2zM409 295h2v2h-2zM229 297h2v2h-2zM233 297h2v2h-2zM301 297h2v2h-2zM315 297h2v2h-2zM331 297h2v2h-2zM197 299h2v2h-2zM215 299h2v2h-2zM217 299h2v2h-2zM223 299h2v2h-2zM235 299h2v2h-2zM299 299h2v2h-2zM305 299h2v2h-2zM307 299h2v2h-2zM309 299h2v2h-2zM313 299h2v2h-2zM345 299h2v2h-2zM223 301h2v2h-2zM225 301h2v2h-2zM241 301h2v2h-2zM283 301h2v2h-2zM303 301h2v2h-2zM305 301h2v2h-2zM311 301h2v2h-2zM337 301h2v2h-2zM345 301h2v2h-2zM203 303h2v2h-2zM223 303h2v2h-2zM237 303h2v2h-2zM241 303h2v2h-2zM243 303h2v2h-2zM303 303h2v2h-2zM305 303h2v2h-2zM309 303h2v2h-2zM329 303h2v2h-2zM333 303h2v2h-2zM351 303h2v2h-2zM373 303h2v2h-2zM225 305h2v2h-2zM227 305h2v2h-2zM233 305h2v2h-2zM249 305h2v2h-2zM283 305h2v2h-2zM285 305h2v2h-2zM289 305h2v2h-2zM293 305h2v2h-2zM303 305h2v2h-2zM331 305h2v2h-2zM333 305h2v2h-2zM213 307h2v2h-2zM221 307h2v2h-2zM223 307h2v2h-2zM233 307h2v2h-2zM235 307h2v2h-2zM237 307h2v2h-2zM239 307h2v2h-2zM285 307h2v2h-2zM289 307h2v2h-2zM297 307h2v2h-2zM299 307h2v2h-2zM301 307h2v2h-2zM303 307h2v2h-2zM313 307h2v2h-2zM343 307h2v2h-2zM351 307h2v2h-2zM371 307h2v2h-2zM209 309h2v2h-2zM225 309h2v2h-2zM229 309h2v2h-2zM235 309h2v2h-2zM237 309h2v2h-2zM241 309h2v2h-2zM301 309h2v2h-2zM337 309h2v2h-2zM203 311h2v2h-2zM215 311h2v2h-2zM217 311h2v2h-2zM219 311h2v2h-2zM221 311h2v2h-2zM231 311h2v2h-2zM245 311h2v2h-2zM275 311h2v2h-2zM277 311h2v2h-2zM283 311h2v2h-2zM301 311h2v2h-2zM307 311h2v2h-2zM215 313h2v2h-2zM217 313h2v2h-2zM219 313h2v2h-2zM227 313h2v2h-2zM241 313h2v2h-2zM273 313h2v2h-2zM277 313h2v2h-2zM279 313h2v2h-2zM289 313h2v2h-2zM295 313h2v2h-2zM301 313h2v2h-2zM303 313h2v2h-2zM371 313h2v2h-2zM199 315h2v2h-2zM201 315h2v2h-2zM225 315h2v2h-2zM227 315h2v2h-2zM229 315h2v2h-2zM233 315h2v2h-2zM235 315h2v2h-2zM249 315h2v2h-2zM257 315h2v2h-2zM269 315h2v2h-2zM273 315h2v2h-2zM275 315h2v2h-2zM279 315h2v2h-2zM287 315h2v2h-2zM295 315h2v2h-2zM299 315h2v2h-2zM311 315h2v2h-2zM375 315h2v2h-2zM203 317h2v2h-2zM231 317h2v2h-2zM265 317h2v2h-2zM283 317h2v2h-2zM293 317h2v2h-2zM295 317h2v2h-2zM305 317h2v2h-2zM315 317h2v2h-2zM323 317h2v2h-2zM219 319h2v2h-2zM227 319h2v2h-2zM235 319h2v2h-2zM239 319h2v2h-2zM241 319h2v2h-2zM245 319h2v2h-2zM283 319h2v2h-2zM293 319h2v2h-2zM319 319h2v2h-2zM227 321h2v2h-2zM229 321h2v2h-2zM233 321h2v2h-2zM243 321h2v2h-2zM257 321h2v2h-2zM291 321h2v2h-2zM293 321h2v2h-2zM295 321h2v2h-2zM299 321h2v2h-2zM347 321h2v2h-2zM193 323h2v2h-2zM211 323h2v2h-2zM215 323h2v2h-2zM251 323h2v2h-2zM265 323h2v2h-2zM287 323h2v2h-2zM293 323h2v2h-2zM297 323h2v2h-2zM313 323h2v2h-2zM209 325h2v2h-2zM231 325h2v2h-2zM233 325h2v2h-2zM241 325h2v2h-2zM257 325h2v2h-2zM285 325h2v2h-2zM287 325h2v2h-2zM289 325h2v2h-2zM295 325h2v2h-2zM299 325h2v2h-2zM311 325h2v2h-2zM221 327h2v2h-2zM229 327h2v2h-2zM245 327h2v2h-2zM255 327h2v2h-2zM259 327h2v2h-2zM261 327h2v2h-2zM265 327h2v2h-2zM281 327h2v2h-2zM291 327h2v2h-2zM303 327h2v2h-2zM309 327h2v2h-2zM385 327h2v2h-2zM205 329h2v2h-2zM221 329h2v2h-2zM223 329h2v2h-2zM229 329h2v2h-2zM239 329h2v2h-2zM253 329h2v2h-2zM263 329h2v2h-2zM287 329h2v2h-2zM291 329h2v2h-2zM293 329h2v2h-2zM307 329h2v2h-2zM221 331h2v2h-2zM235 331h2v2h-2zM245 331h2v2h-2zM249 331h2v2h-2zM251 331h2v2h-2zM259 331h2v2h-2zM273 331h2v2h-2zM275 331h2v2h-2zM277 331h2v2h-2zM285 331h2v2h-2zM295 331h2v2h-2zM297 331h2v2h-2zM309 331h2v2h-2zM323 331h2v2h-2zM207 333h2v2h-2zM223 333h2v2h-2zM231 333h2v2h-2zM267 333h2v2h-2zM277 333h2v2h-2zM279 333h2v2h-2zM285 333h2v2h-2zM295 333h2v2h-2zM315 333h2v2h-2zM341 333h2v2h-2zM365 333h2v2h-2zM201 335h2v2h-2zM211 335h2v2h-2zM229 335h2v2h-2zM233 335h2v2h-2zM239 335h2v2h-2zM249 335h2v2h-2zM273 335h2v2h-2zM275 335h2v2h-2zM303 335h2v2h-2zM307 335h2v2h-2zM335 335h2v2h-2zM353 335h2v2h-2zM381 335h2v2h-2zM219 337h2v2h-2zM221 337h2v2h-2zM229 337h2v2h-2zM237 337h2v2h-2zM247 337h2v2h-2zM265 337h2v2h-2zM273 337h2v2h-2zM305 337h2v2h-2zM323 337h2v2h-2zM359 337h2v2h-2zM233 339h2v2h-2zM237 339h2v2h-2zM241 339h2v2h-2zM261 339h2v2h-2zM273 339h2v2h-2zM275 339h2v2h-2zM279 339h2v2h-2zM285 339h2v2h-2zM291 339h2v2h-2zM303 339h2v2h-2zM345 339h2v2h-2zM217 341h2v2h-2zM241 341h2v2h-2zM251 341h2v2h-2zM253 341h2v2h-2zM267 341h2v2h-2zM275 341h2v2h-2zM281 341h2v2h-2zM283 341h2v2h-2zM285 341h2v2h-2zM291 341h2v2h-2zM297 341h2v2h-2zM301 341h2v2h-2zM305 341h2v2h-2zM321 341h2v2h-2zM345 341h2v2h-2zM231 343h2v2h-2zM239 343h2v2h-2zM249 343h2v2h-2zM251 343h2v2h-2zM257 343h2v2h-2zM263 343h2v2h-2zM271 343h2v2h-2zM295 343h2v2h-2zM311 343h2v2h-2zM341 343h2v2h-2zM239 345h2v2h-2zM247 345h2v2h-2zM257 345h2v2h-2zM259 345h2v2h-2zM261 345h2v2h-2zM265 345h2v2h-2zM273 345h2v2h-2zM283 345h2v2h-2zM287 345h2v2h-2zM311 345h2v2h-2zM317 345h2v2h-2zM231 347h2v2h-2zM239 347h2v2h-2zM243 347h2v2h-2zM245 347h2v2h-2zM251 347h2v2h-2zM261 347h2v2h-2zM265 347h2v2h-2zM273 347h2v2h-2zM277 347h2v2h-2zM281 347h2v2h-2zM283 347h2v2h-2zM285 347h2v2h-2zM293 347h2v2h-2zM301 347h2v2h-2zM321 347h2v2h-2zM325 347h2v2h-2zM195 349h2v2h-2zM229 349h2v2h-2zM231 349h2v2h-2zM239 349h2v2h-2zM241 349h2v2h-2zM245 349h2v2h-2zM249 349h2v2h-2zM253 349h2v2h-2zM265 349h2v2h-2zM281 349h2v2h-2zM283 349h2v2h-2zM303 349h2v2h-2zM307 349h2v2h-2zM335 349h2v2h-2zM207 351h2v2h-2zM243 351h2v2h-2zM247 351h2v2h-2zM249 351h2v2h-2zM251 351h2v2h-2zM255 351h2v2h-2zM261 351h2v2h-2zM267 351h2v2h-2zM273 351h2v2h-2zM281 351h2v2h-2zM289 351h2v2h-2zM359 351h2v2h-2zM221 353h2v2h-2zM233 353h2v2h-2zM241 353h2v2h-2zM245 353h2v2h-2zM263 353h2v2h-2zM271 353h2v2h-2zM279 353h2v2h-2zM283 353h2v2h-2zM285 353h2v2h-2zM295 353h2v2h-2zM223 355h2v2h-2zM233 355h2v2h-2zM235 355h2v2h-2zM241 355h2v2h-2zM243 355h2v2h-2zM253 355h2v2h-2zM257 355h2v2h-2zM265 355h2v2h-2zM273 355h2v2h-2zM275 355h2v2h-2zM277 355h2v2h-2zM279 355h2v2h-2zM317 355h2v2h-2zM321 355h2v2h-2zM387 355h2v2h-2zM213 357h2v2h-2zM235 357h2v2h-2zM237 357h2v2h-2zM245 357h2v2h-2zM269 357h2v2h-2zM273 357h2v2h-2zM277 357h2v2h-2zM279 357h2v2h-2zM281 357h2v2h-2zM283 357h2v2h-2zM313 357h2v2h-2zM317 357h2v2h-2zM219 359h2v2h-2zM231 359h2v2h-2zM243 359h2v2h-2zM247 359h2v2h-2zM251 359h2v2h-2zM253 359h2v2h-2zM261 359h2v2h-2zM265 359h2v2h-2zM273 359h2v2h-2zM275 359h2v2h-2zM277 359h2v2h-2zM287 359h2v2h-2zM317 359h2v2h-2zM333 359h2v2h-2zM239 361h2v2h-2zM243 361h2v2h-2zM247 361h2v2h-2zM249 361h2v2h-2zM263 361h2v2h-2zM265 361h2v2h-2zM267 361h2v2h-2zM277 361h2v2h-2zM281 361h2v2h-2zM289 361h2v2h-2zM295 361h2v2h-2zM315 361h2v2h-2zM347 361h2v2h-2zM235 363h2v2h-2zM237 363h2v2h-2zM247 363h2v2h-2zM249 363h2v2h-2zM251 363h2v2h-2zM253 363h2v2h-2zM261 363h2v2h-2zM275 363h2v2h-2zM281 363h2v2h-2zM285 363h2v2h-2zM293 363h2v2h-2zM225 365h2v2h-2zM231 365h2v2h-2zM239 365h2v2h-2zM243 365h2v2h-2zM251 365h2v2h-2zM257 365h2v2h-2zM259 365h2v2h-2zM261 365h2v2h-2zM263 365h2v2h-2zM269 365h2v2h-2zM287 365h2v2h-2zM305 365h2v2h-2zM241 367h2v2h-2zM249 367h2v2h-2zM251 367h2v2h-2zM253 367h2v2h-2zM259 367h2v2h-2zM265 367h2v2h-2zM267 367h2v2h-2zM279 367h2v2h-2zM281 367h2v2h-2zM287 367h2v2h-2zM305 367h2v2h-2zM329 367h2v2h-2zM339 367h2v2h-2zM215 369h2v2h-2zM229 369h2v2h-2zM237 369h2v2h-2zM249 369h2v2h-2zM253 369h2v2h-2zM259 369h2v2h-2zM265 369h2v2h-2zM267 369h2v2h-2zM269 369h2v2h-2zM271 369h2v2h-2zM285 369h2v2h-2zM307 369h2v2h-2zM313 369h2v2h-2zM315 369h2v2h-2zM329 369h2v2h-2zM399 369h2v2h-2zM195 371h2v2h-2zM213 371h2v2h-2zM227 371h2v2h-2zM229 371h2v2h-2zM233 371h2v2h-2zM253 371h2v2h-2zM255 371h2v2h-2zM257 371h2v2h-2zM263 371h2v2h-2zM269 371h2v2h-2zM271 371h2v2h-2zM277 371h2v2h-2zM281 371h2v2h-2zM283 371h2v2h-2zM483 371h2v2h-2zM213 373h2v2h-2zM235 373h2v2h-2zM249 373h2v2h-2zM253 373h2v2h-2zM259 373h2v2h-2zM269 373h2v2h-2zM273 373h2v2h-2zM275 373h2v2h-2zM277 373h2v2h-2zM281 373h2v2h-2zM287 373h2v2h-2zM315 373h2v2h-2zM203 375h2v2h-2zM205 375h2v2h-2zM219 375h2v2h-2zM231 375h2v2h-2zM233 375h2v2h-2zM239 375h2v2h-2zM243 375h2v2h-2zM247 375h2v2h-2zM261 375h2v2h-2zM263 375h2v2h-2zM273 375h2v2h-2zM275 375h2v2h-2zM281 375h2v2h-2zM283 375h2v2h-2zM289 375h2v2h-2zM291 375h2v2h-2zM305 375h2v2h-2zM337 375h2v2h-2zM233 377h2v2h-2zM235 377h2v2h-2zM243 377h2v2h-2zM247 377h2v2h-2zM255 377h2v2h-2zM259 377h2v2h-2zM261 377h2v2h-2zM267 377h2v2h-2zM283 377h2v2h-2zM289 377h2v2h-2zM327 377h2v2h-2zM213 379h2v2h-2zM235 379h2v2h-2zM245 379h2v2h-2zM249 379h2v2h-2zM253 379h2v2h-2zM255 379h2v2h-2zM259 379h2v2h-2zM261 379h2v2h-2zM267 379h2v2h-2zM269 379h2v2h-2zM271 379h2v2h-2zM221 381h2v2h-2zM239 381h2v2h-2zM243 381h2v2h-2zM245 381h2v2h-2zM249 381h2v2h-2zM259 381h2v2h-2zM261 381h2v2h-2zM269 381h2v2h-2zM271 381h2v2h-2zM285 381h2v2h-2zM291 381h2v2h-2zM303 381h2v2h-2zM311 381h2v2h-2zM313 381h2v2h-2zM319 381h2v2h-2zM223 383h2v2h-2zM233 383h2v2h-2zM253 383h2v2h-2zM255 383h2v2h-2zM273 383h2v2h-2zM281 383h2v2h-2zM289 383h2v2h-2zM297 383h2v2h-2zM307 383h2v2h-2zM237 385h2v2h-2zM249 385h2v2h-2zM259 385h2v2h-2zM271 385h2v2h-2zM275 385h2v2h-2zM285 385h2v2h-2zM335 385h2v2h-2zM227 387h2v2h-2zM245 387h2v2h-2zM265 387h2v2h-2zM271 387h2v2h-2zM275 387h2v2h-2zM291 387h2v2h-2zM305 387h2v2h-2zM341 387h2v2h-2zM229 389h2v2h-2zM235 389h2v2h-2zM237 389h2v2h-2zM241 389h2v2h-2zM249 389h2v2h-2zM251 389h2v2h-2zM261 389h2v2h-2zM281 389h2v2h-2zM285 389h2v2h-2zM287 389h2v2h-2zM311 389h2v2h-2zM345 389h2v2h-2zM205 391h2v2h-2zM231 391h2v2h-2zM235 391h2v2h-2zM239 391h2v2h-2zM241 391h2v2h-2zM249 391h2v2h-2zM255 391h2v2h-2zM273 391h2v2h-2zM285 391h2v2h-2zM287 391h2v2h-2zM297 391h2v2h-2zM299 391h2v2h-2zM305 391h2v2h-2zM311 391h2v2h-2zM219 393h2v2h-2zM237 393h2v2h-2zM241 393h2v2h-2zM245 393h2v2h-2zM247 393h2v2h-2zM269 393h2v2h-2zM271 393h2v2h-2zM279 393h2v2h-2zM281 393h2v2h-2zM283 393h2v2h-2zM285 393h2v2h-2zM287 393h2v2h-2zM289 393h2v2h-2zM293 393h2v2h-2zM295 393h2v2h-2zM301 393h2v2h-2zM317 393h2v2h-2zM327 393h2v2h-2zM349 393h2v2h-2zM367 393h2v2h-2zM203 395h2v2h-2zM217 395h2v2h-2zM225 395h2v2h-2zM229 395h2v2h-2zM247 395h2v2h-2zM249 395h2v2h-2zM253 395h2v2h-2zM261 395h2v2h-2zM269 395h2v2h-2zM275 395h2v2h-2zM281 395h2v2h-2zM287 395h2v2h-2zM289 395h2v2h-2zM213 397h2v2h-2zM227 397h2v2h-2zM229 397h2v2h-2zM255 397h2v2h-2zM271 397h2v2h-2zM291 397h2v2h-2zM295 397h2v2h-2zM331 397h2v2h-2zM333 397h2v2h-2zM227 399h2v2h-2zM233 399h2v2h-2zM239 399h2v2h-2zM251 399h2v2h-2zM255 399h2v2h-2zM271 399h2v2h-2zM283 399h2v2h-2zM295 399h2v2h-2zM321 399h2v2h-2zM359 399h2v2h-2zM197 401h2v2h-2zM217 401h2v2h-2zM227 401h2v2h-2zM229 401h2v2h-2zM231 401h2v2h-2zM259 401h2v2h-2zM263 401h2v2h-2zM277 401h2v2h-2zM287 401h2v2h-2zM297 401h2v2h-2zM303 401h2v2h-2zM307 401h2v2h-2zM323 401h2v2h-2zM221 403h2v2h-2zM225 403h2v2h-2zM227 403h2v2h-2zM229 403h2v2h-2zM231 403h2v2h-2zM233 403h2v2h-2zM239 403h2v2h-2zM243 403h2v2h-2zM251 403h2v2h-2zM257 403h2v2h-2zM269 403h2v2h-2zM271 403h2v2h-2zM285 403h2v2h-2zM291 403h2v2h-2zM307 403h2v2h-2zM227 405h2v2h-2zM231 405h2v2h-2zM255 405h2v2h-2zM263 405h2v2h-2zM267 405h2v2h-2zM277 405h2v2h-2zM283 405h2v2h-2zM293 405h2v2h-2zM299 405h2v2h-2zM351 405h2v2h-2zM223 407h2v2h-2zM225 407h2v2h-2zM231 407h2v2h-2zM243 407h2v2h-2zM245 407h2v2h-2zM247 407h2v2h-2zM257 407h2v2h-2zM269 407h2v2h-2zM281 407h2v2h-2zM295 407h2v2h-2zM297 407h2v2h-2zM301 407h2v2h-2zM309 407h2v2h-2zM345 407h2v2h-2zM217 409h2v2h-2zM223 409h2v2h-2zM225 409h2v2h-2zM241 409h2v2h-2zM245 409h2v2h-2zM247 409h2v2h-2zM249 409h2v2h-2zM263 409h2v2h-2zM291 409h2v2h-2zM295 409h2v2h-2zM333 409h2v2h-2zM335 409h2v2h-2zM199 411h2v2h-2zM203 411h2v2h-2zM215 411h2v2h-2zM217 411h2v2h-2zM223 411h2v2h-2zM229 411h2v2h-2zM233 411h2v2h-2zM241 411h2v2h-2zM255 411h2v2h-2zM259 411h2v2h-2zM265 411h2v2h-2zM273 411h2v2h-2zM279 411h2v2h-2zM281 411h2v2h-2zM289 411h2v2h-2zM295 411h2v2h-2zM299 411h2v2h-2zM307 411h2v2h-2zM311 411h2v2h-2zM229 413h2v2h-2zM231 413h2v2h-2zM251 413h2v2h-2zM255 413h2v2h-2zM259 413h2v2h-2zM291 413h2v2h-2zM301 413h2v2h-2zM391 413h2v2h-2zM205 415h2v2h-2zM207 415h2v2h-2zM215 415h2v2h-2zM225 415h2v2h-2zM229 415h2v2h-2zM231 415h2v2h-2zM233 415h2v2h-2zM237 415h2v2h-2zM239 415h2v2h-2zM241 415h2v2h-2zM255 415h2v2h-2zM257 415h2v2h-2zM263 415h2v2h-2zM279 415h2v2h-2zM281 415h2v2h-2zM283 415h2v2h-2zM305 415h2v2h-2zM215 417h2v2h-2zM219 417h2v2h-2zM223 417h2v2h-2zM225 417h2v2h-2zM229 417h2v2h-2zM239 417h2v2h-2zM245 417h2v2h-2zM249 417h2v2h-2zM251 417h2v2h-2zM257 417h2v2h-2zM263 417h2v2h-2zM267 417h2v2h-2zM275 417h2v2h-2zM285 417h2v2h-2zM287 417h2v2h-2zM303 417h2v2h-2zM305 417h2v2h-2zM313 417h2v2h-2zM201 419h2v2h-2zM229 419h2v2h-2zM231 419h2v2h-2zM235 419h2v2h-2zM237 419h2v2h-2zM243 419h2v2h-2zM263 419h2v2h-2zM283 419h2v2h-2zM299 419h2v2h-2zM301 419h2v2h-2zM303 419h2v2h-2zM313 419h2v2h-2zM335 419h2v2h-2zM217 421h2v2h-2zM223 421h2v2h-2zM225 421h2v2h-2zM229 421h2v2h-2zM235 421h2v2h-2zM237 421h2v2h-2zM241 421h2v2h-2zM245 421h2v2h-2zM249 421h2v2h-2zM259 421h2v2h-2zM271 421h2v2h-2zM287 421h2v2h-2zM299 421h2v2h-2zM345 421h2v2h-2zM221 423h2v2h-2zM233 423h2v2h-2zM235 423h2v2h-2zM239 423h2v2h-2zM241 423h2v2h-2zM243 423h2v2h-2zM259 423h2v2h-2zM271 423h2v2h-2zM275 423h2v2h-2zM277 423h2v2h-2zM285 423h2v2h-2zM301 423h2v2h-2zM305 423h2v2h-2zM337 423h2v2h-2zM339 423h2v2h-2zM347 423h2v2h-2zM363 423h2v2h-2zM203 425h2v2h-2zM213 425h2v2h-2zM215 425h2v2h-2zM221 425h2v2h-2zM247 425h2v2h-2zM249 425h2v2h-2zM259 425h2v2h-2zM287 425h2v2h-2zM291 425h2v2h-2zM311 425h2v2h-2zM313 425h2v2h-2zM341 425h2v2h-2zM199 427h2v2h-2zM217 427h2v2h-2zM219 427h2v2h-2zM221 427h2v2h-2zM223 427h2v2h-2zM229 427h2v2h-2zM237 427h2v2h-2zM239 427h2v2h-2zM241 427h2v2h-2zM249 427h2v2h-2zM277 427h2v2h-2zM281 427h2v2h-2zM285 427h2v2h-2zM301 427h2v2h-2zM315 427h2v2h-2zM321 427h2v2h-2zM329 427h2v2h-2zM221 429h2v2h-2zM235 429h2v2h-2zM239 429h2v2h-2zM241 429h2v2h-2zM243 429h2v2h-2zM271 429h2v2h-2zM277 429h2v2h-2zM283 429h2v2h-2zM285 429h2v2h-2zM299 429h2v2h-2zM301 429h2v2h-2zM303 429h2v2h-2zM311 429h2v2h-2zM317 429h2v2h-2zM211 431h2v2h-2zM227 431h2v2h-2zM241 431h2v2h-2zM253 431h2v2h-2zM271 431h2v2h-2zM277 431h2v2h-2zM293 431h2v2h-2zM295 431h2v2h-2zM297 431h2v2h-2zM225 433h2v2h-2zM227 433h2v2h-2zM229 433h2v2h-2zM273 433h2v2h-2zM279 433h2v2h-2zM303 433h2v2h-2zM307 433h2v2h-2zM313 433h2v2h-2zM315 433h2v2h-2zM317 433h2v2h-2zM213 435h2v2h-2zM219 435h2v2h-2zM227 435h2v2h-2zM277 435h2v2h-2zM279 435h2v2h-2zM283 435h2v2h-2zM301 435h2v2h-2zM305 435h2v2h-2zM309 435h2v2h-2zM323 435h2v2h-2zM341 435h2v2h-2zM195 437h2v2h-2zM217 437h2v2h-2zM221 437h2v2h-2zM229 437h2v2h-2zM231 437h2v2h-2zM237 437h2v2h-2zM241 437h2v2h-2zM277 437h2v2h-2zM281 437h2v2h-2zM291 437h2v2h-2zM297 437h2v2h-2zM305 437h2v2h-2zM307 437h2v2h-2zM199 439h2v2h-2zM205 439h2v2h-2zM219 439h2v2h-2zM225 439h2v2h-2zM229 439h2v2h-2zM239 439h2v2h-2zM281 439h2v2h-2zM283 439h2v2h-2zM287 439h2v2h-2zM299 439h2v2h-2zM307 439h2v2h-2zM309 439h2v2h-2zM311 439h2v2h-2zM231 441h2v2h-2zM239 441h2v2h-2zM249 441h2v2h-2zM257 441h2v2h-2zM283 441h2v2h-2zM287 441h2v2h-2zM293 441h2v2h-2zM303 441h2v2h-2zM325 441h2v2h-2zM247 443h2v2h-2zM289 443h2v2h-2zM295 443h2v2h-2zM305 443h2v2h-2zM307 443h2v2h-2zM319 443h2v2h-2zM321 443h2v2h-2zM327 443h2v2h-2zM345 443h2v2h-2zM219 445h2v2h-2zM221 445h2v2h-2zM223 445h2v2h-2zM237 445h2v2h-2zM239 445h2v2h-2zM285 445h2v2h-2zM295 445h2v2h-2zM305 445h2v2h-2zM313 445h2v2h-2zM317 445h2v2h-2zM323 445h2v2h-2zM347 445h2v2h-2zM211 447h2v2h-2zM215 447h2v2h-2zM217 447h2v2h-2zM221 447h2v2h-2zM233 447h2v2h-2zM239 447h2v2h-2zM281 447h2v2h-2zM293 447h2v2h-2zM303 447h2v2h-2zM305 447h2v2h-2zM309 447h2v2h-2zM311 447h2v2h-2zM321 447h2v2h-2zM325 447h2v2h-2zM205 449h2v2h-2zM207 449h2v2h-2zM209 449h2v2h-2zM211 449h2v2h-2zM213 449h2v2h-2zM215 449h2v2h-2zM225 449h2v2h-2zM229 449h2v2h-2zM235 449h2v2h-2zM239 449h2v2h-2zM281 449h2v2h-2zM287 449h2v2h-2zM289 449h2v2h-2zM291 449h2v2h-2zM295 449h2v2h-2zM307 449h2v2h-2zM311 449h2v2h-2zM313 449h2v2h-2zM315 449h2v2h-2zM227 451h2v2h-2zM229 451h2v2h-2zM231 451h2v2h-2zM243 451h2v2h-2zM301 451h2v2h-2zM305 451h2v2h-2zM311 451h2v2h-2zM219 453h2v2h-2zM231 453h2v2h-2zM241 453h2v2h-2zM245 453h2v2h-2zM291 453h2v2h-2zM293 453h2v2h-2zM303 453h2v2h-2zM307 453h2v2h-2zM309 453h2v2h-2zM315 453h2v2h-2zM325 453h2v2h-2zM207 455h2v2h-2zM221 455h2v2h-2zM229 455h2v2h-2zM235 455h2v2h-2zM299 455h2v2h-2zM303 455h2v2h-2zM305 455h2v2h-2zM311 455h2v2h-2zM317 455h2v2h-2zM331 455h2v2h-2zM351 455h2v2h-2zM219 457h2v2h-2zM221 457h2v2h-2zM223 457h2v2h-2zM225 457h2v2h-2zM227 457h2v2h-2zM231 457h2v2h-2zM241 457h2v2h-2zM273 457h2v2h-2zM279 457h2v2h-2zM295 457h2v2h-2zM303 457h2v2h-2zM309 457h2v2h-2zM317 457h2v2h-2zM325 457h2v2h-2zM339 457h2v2h-2zM539 457h2v2h-2zM227 459h2v2h-2zM229 459h2v2h-2zM237 459h2v2h-2zM241 459h2v2h-2zM293 459h2v2h-2zM299 459h2v2h-2zM305 459h2v2h-2zM309 459h2v2h-2zM323 459h2v2h-2zM329 459h2v2h-2zM395 459h2v2h-2zM199 461h2v2h-2zM203 461h2v2h-2zM213 461h2v2h-2zM277 461h2v2h-2zM279 461h2v2h-2zM283 461h2v2h-2zM217 463h2v2h-2zM221 463h2v2h-2zM223 463h2v2h-2zM235 463h2v2h-2zM281 463h2v2h-2zM283 463h2v2h-2zM285 463h2v2h-2zM295 463h2v2h-2zM301 463h2v2h-2zM313 463h2v2h-2zM315 463h2v2h-2zM337 463h2v2h-2zM353 463h2v2h-2zM207 465h2v2h-2zM221 465h2v2h-2zM229 465h2v2h-2zM231 465h2v2h-2zM279 465h2v2h-2zM291 465h2v2h-2zM303 465h2v2h-2zM321 465h2v2h-2zM323 465h2v2h-2zM331 465h2v2h-2zM337 465h2v2h-2zM349 465h2v2h-2zM369 465h2v2h-2zM203 467h2v2h-2zM213 467h2v2h-2zM215 467h2v2h-2zM223 467h2v2h-2zM279 467h2v2h-2zM291 467h2v2h-2zM303 467h2v2h-2zM305 467h2v2h-2zM309 467h2v2h-2zM311 467h2v2h-2zM315 467h2v2h-2zM317 467h2v2h-2zM329 467h2v2h-2zM207 469h2v2h-2zM217 469h2v2h-2zM223 469h2v2h-2zM289 469h2v2h-2zM295 469h2v2h-2zM313 469h2v2h-2zM319 469h2v2h-2zM341 469h2v2h-2zM477 469h2v2h-2zM203 471h2v2h-2zM209 471h2v2h-2zM215 471h2v2h-2zM217 471h2v2h-2zM223 471h2v2h-2zM299 471h2v2h-2zM307 471h2v2h-2zM311 471h2v2h-2zM317 471h2v2h-2zM325 471h2v2h-2zM469 471h2v2h-2zM473 471h2v2h-2zM487 471h2v2h-2zM199 473h2v2h-2zM203 473h2v2h-2zM209 473h2v2h-2zM213 473h2v2h-2zM215 473h2v2h-2zM219 473h2v2h-2zM283 473h2v2h-2zM285 473h2v2h-2zM289 473h2v2h-2zM303 473h2v2h-2zM315 473h2v2h-2zM317 473h2v2h-2zM345 473h2v2h-2zM473 473h2v2h-2zM483 473h2v2h-2zM487 473h2v2h-2zM201 475h2v2h-2zM205 475h2v2h-2zM211 475h2v2h-2zM213 475h2v2h-2zM217 475h2v2h-2zM299 475h2v2h-2zM303 475h2v2h-2zM311 475h2v2h-2zM323 475h2v2h-2zM325 475h2v2h-2zM333 475h2v2h-2zM335 475h2v2h-2zM337 475h2v2h-2zM343 475h2v2h-2zM361 475h2v2h-2zM463 475h2v2h-2zM467 475h2v2h-2zM475 475h2v2h-2zM479 475h2v2h-2zM483 475h2v2h-2zM485 475h2v2h-2zM497 475h2v2h-2zM205 477h2v2h-2zM207 477h2v2h-2zM293 477h2v2h-2zM295 477h2v2h-2zM297 477h2v2h-2zM299 477h2v2h-2zM303 477h2v2h-2zM305 477h2v2h-2zM307 477h2v2h-2zM315 477h2v2h-2zM319 477h2v2h-2zM323 477h2v2h-2zM325 477h2v2h-2zM429 477h2v2h-2zM441 477h2v2h-2zM457 477h2v2h-2zM467 477h2v2h-2zM475 477h2v2h-2zM477 477h2v2h-2zM485 477h2v2h-2zM487 477h2v2h-2zM489 477h2v2h-2zM491 477h2v2h-2zM495 477h2v2h-2zM203 479h2v2h-2zM207 479h2v2h-2zM291 479h2v2h-2zM293 479h2v2h-2zM299 479h2v2h-2zM301 479h2v2h-2zM303 479h2v2h-2zM309 479h2v2h-2zM313 479h2v2h-2zM325 479h2v2h-2zM331 479h2v2h-2zM337 479h2v2h-2zM453 479h2v2h-2zM455 479h2v2h-2zM461 479h2v2h-2zM467 479h2v2h-2zM477 479h2v2h-2zM481 479h2v2h-2zM491 479h2v2h-2zM495 479h2v2h-2zM497 479h2v2h-2zM501 479h2v2h-2zM199 481h2v2h-2zM205 481h2v2h-2zM207 481h2v2h-2zM209 481h2v2h-2zM305 481h2v2h-2zM315 481h2v2h-2zM319 481h2v2h-2zM321 481h2v2h-2zM323 481h2v2h-2zM325 481h2v2h-2zM341 481h2v2h-2zM347 481h2v2h-2zM447 481h2v2h-2zM461 481h2v2h-2zM465 481h2v2h-2zM467 481h2v2h-2zM471 481h2v2h-2zM473 481h2v2h-2zM475 481h2v2h-2zM481 481h2v2h-2zM487 481h2v2h-2zM491 481h2v2h-2zM201 483h2v2h-2zM203 483h2v2h-2zM291 483h2v2h-2zM303 483h2v2h-2zM305 483h2v2h-2zM307 483h2v2h-2zM309 483h2v2h-2zM325 483h2v2h-2zM329 483h2v2h-2zM343 483h2v2h-2zM385 483h2v2h-2zM411 483h2v2h-2zM427 483h2v2h-2zM439 483h2v2h-2zM455 483h2v2h-2zM457 483h2v2h-2zM469 483h2v2h-2zM473 483h2v2h-2zM485 483h2v2h-2zM487 483h2v2h-2zM491 483h2v2h-2zM501 483h2v2h-2zM205 485h2v2h-2zM295 485h2v2h-2zM307 485h2v2h-2zM317 485h2v2h-2zM319 485h2v2h-2zM321 485h2v2h-2zM323 485h2v2h-2zM325 485h2v2h-2zM335 485h2v2h-2zM361 485h2v2h-2zM423 485h2v2h-2zM437 485h2v2h-2zM439 485h2v2h-2zM459 485h2v2h-2zM469 485h2v2h-2zM471 485h2v2h-2zM489 485h2v2h-2zM499 485h2v2h-2zM505 485h2v2h-2zM519 485h2v2h-2zM199 487h2v2h-2zM203 487h2v2h-2zM209 487h2v2h-2zM213 487h2v2h-2zM297 487h2v2h-2zM305 487h2v2h-2zM307 487h2v2h-2zM311 487h2v2h-2zM333 487h2v2h-2zM337 487h2v2h-2zM351 487h2v2h-2zM449 487h2v2h-2zM453 487h2v2h-2zM457 487h2v2h-2zM469 487h2v2h-2zM471 487h2v2h-2zM485 487h2v2h-2zM491 487h2v2h-2zM499 487h2v2h-2zM199 489h2v2h-2zM205 489h2v2h-2zM301 489h2v2h-2zM311 489h2v2h-2zM313 489h2v2h-2zM323 489h2v2h-2zM325 489h2v2h-2zM327 489h2v2h-2zM331 489h2v2h-2zM333 489h2v2h-2zM345 489h2v2h-2zM421 489h2v2h-2zM425 489h2v2h-2zM433 489h2v2h-2zM453 489h2v2h-2zM455 489h2v2h-2zM487 489h2v2h-2zM489 489h2v2h-2zM499 489h2v2h-2zM507 489h2v2h-2zM509 489h2v2h-2zM201 491h2v2h-2zM313 491h2v2h-2zM315 491h2v2h-2zM325 491h2v2h-2zM329 491h2v2h-2zM335 491h2v2h-2zM339 491h2v2h-2zM341 491h2v2h-2zM387 491h2v2h-2zM425 491h2v2h-2zM461 491h2v2h-2zM463 491h2v2h-2zM465 491h2v2h-2zM471 491h2v2h-2zM497 491h2v2h-2zM505 491h2v2h-2zM511 491h2v2h-2zM295 493h2v2h-2zM319 493h2v2h-2zM321 493h2v2h-2zM323 493h2v2h-2zM331 493h2v2h-2zM435 493h2v2h-2zM447 493h2v2h-2zM449 493h2v2h-2zM455 493h2v2h-2zM465 493h2v2h-2zM501 493h2v2h-2zM199 495h2v2h-2zM305 495h2v2h-2zM309 495h2v2h-2zM333 495h2v2h-2zM335 495h2v2h-2zM337 495h2v2h-2zM339 495h2v2h-2zM347 495h2v2h-2zM435 495h2v2h-2zM451 495h2v2h-2zM453 495h2v2h-2zM455 495h2v2h-2zM461 495h2v2h-2zM491 495h2v2h-2zM495 495h2v2h-2zM201 497h2v2h-2zM209 497h2v2h-2zM293 497h2v2h-2zM303 497h2v2h-2zM309 497h2v2h-2zM317 497h2v2h-2zM319 497h2v2h-2zM327 497h2v2h-2zM329 497h2v2h-2zM331 497h2v2h-2zM337 497h2v2h-2zM343 497h2v2h-2zM349 497h2v2h-2zM355 497h2v2h-2zM441 497h2v2h-2zM443 497h2v2h-2zM453 497h2v2h-2zM461 497h2v2h-2zM465 497h2v2h-2zM495 497h2v2h-2zM503 497h2v2h-2zM511 497h2v2h-2zM207 499h2v2h-2zM301 499h2v2h-2zM309 499h2v2h-2zM317 499h2v2h-2zM333 499h2v2h-2zM335 499h2v2h-2zM337 499h2v2h-2zM339 499h2v2h-2zM343 499h2v2h-2zM345 499h2v2h-2zM427 499h2v2h-2zM447 499h2v2h-2zM457 499h2v2h-2zM459 499h2v2h-2zM463 499h2v2h-2zM465 499h2v2h-2zM473 499h2v2h-2zM481 499h2v2h-2zM485 499h2v2h-2zM495 499h2v2h-2zM497 499h2v2h-2zM505 499h2v2h-2zM509 499h2v2h-2zM513 499h2v2h-2zM323 501h2v2h-2zM325 501h2v2h-2zM329 501h2v2h-2zM333 501h2v2h-2zM335 501h2v2h-2zM339 501h2v2h-2zM455 501h2v2h-2zM457 501h2v2h-2zM463 501h2v2h-2zM483 501h2v2h-2zM485 501h2v2h-2zM487 501h2v2h-2zM493 501h2v2h-2zM495 501h2v2h-2zM497 501h2v2h-2zM193 503h2v2h-2zM195 503h2v2h-2zM203 503h2v2h-2zM205 503h2v2h-2zM301 503h2v2h-2zM303 503h2v2h-2zM305 503h2v2h-2zM307 503h2v2h-2zM317 503h2v2h-2zM325 503h2v2h-2zM335 503h2v2h-2zM337 503h2v2h-2zM343 503h2v2h-2zM349 503h2v2h-2zM353 503h2v2h-2zM447 503h2v2h-2zM463 503h2v2h-2zM465 503h2v2h-2zM469 503h2v2h-2zM471 503h2v2h-2zM475 503h2v2h-2zM483 503h2v2h-2zM489 503h2v2h-2zM491 503h2v2h-2zM495 503h2v2h-2zM501 503h2v2h-2zM505 503h2v2h-2zM301 505h2v2h-2zM307 505h2v2h-2zM313 505h2v2h-2zM321 505h2v2h-2zM329 505h2v2h-2zM349 505h2v2h-2zM385 505h2v2h-2zM447 505h2v2h-2zM461 505h2v2h-2zM475 505h2v2h-2zM477 505h2v2h-2zM491 505h2v2h-2zM503 505h2v2h-2zM197 507h2v2h-2zM199 507h2v2h-2zM201 507h2v2h-2zM203 507h2v2h-2zM205 507h2v2h-2zM209 507h2v2h-2zM305 507h2v2h-2zM311 507h2v2h-2zM313 507h2v2h-2zM321 507h2v2h-2zM323 507h2v2h-2zM327 507h2v2h-2zM329 507h2v2h-2zM331 507h2v2h-2zM357 507h2v2h-2zM467 507h2v2h-2zM489 507h2v2h-2zM501 507h2v2h-2zM199 509h2v2h-2zM307 509h2v2h-2zM321 509h2v2h-2zM325 509h2v2h-2zM357 509h2v2h-2zM443 509h2v2h-2zM461 509h2v2h-2zM479 509h2v2h-2zM485 509h2v2h-2zM493 509h2v2h-2zM495 509h2v2h-2zM199 511h2v2h-2zM313 511h2v2h-2zM319 511h2v2h-2zM321 511h2v2h-2zM323 511h2v2h-2zM329 511h2v2h-2zM361 511h2v2h-2zM209 513h2v2h-2zM213 513h2v2h-2zM293 513h2v2h-2zM299 513h2v2h-2zM305 513h2v2h-2zM307 513h2v2h-2zM315 513h2v2h-2zM325 513h2v2h-2zM327 513h2v2h-2zM335 513h2v2h-2zM199 515h2v2h-2zM201 515h2v2h-2zM205 515h2v2h-2zM207 515h2v2h-2zM289 515h2v2h-2zM295 515h2v2h-2zM303 515h2v2h-2zM309 515h2v2h-2zM311 515h2v2h-2zM319 515h2v2h-2zM323 515h2v2h-2zM349 515h2v2h-2z"/>
<path fill="#0000d0" d="M251 13h2v2h-2zM307 13h2v2h-2zM331 13h2v2h-2zM333 13h2v2h-2zM337 13h2v2h-2zM283 77h2v2h-2zM285 77h2v2h-2zM277 79h2v2h-2zM279 79h2v2h-2zM281 79h2v2h-2zM283 79h2v2h-2zM279 81h2v2h-2zM291 81h2v2h-2zM277 83h2v2h-2zM289 83h2v2h-2zM291 83h2v2h-2zM267 85h2v2h-2zM271 85h2v2h-2zM277 85h2v2h-2zM281 85h2v2h-2zM293 85h2v2h-2zM295 85h2v2h-2zM297 85h2v2h-2zM301 85h2v2h-2zM269 87h2v2h-2zM283 87h2v2h-2zM285 87h2v2h-2zM293 87h2v2h-2zM295 87h2v2h-2zM285 89h2v2h-2zM287 89h2v2h-2zM295 89h2v2h-2zM273 91h2v2h-2zM275 91h2v2h-2zM279 91h2v2h-2zM281 91h2v2h-2zM285 91h2v2h-2zM289 91h2v2h-2zM291 91h2v2h-2zM301 91h2v2h-2zM267 93h2v2h-2zM271 93h2v2h-2zM277 93h2v2h-2zM283 93h2v2h-2zM287 93h2v2h-2zM299 93h2v2h-2zM263 95h2v2h-2zM265 95h2v2h-2zM285 95h2v2h-2zM289 95h2v2h-2zM291 95h2v2h-2zM261 97h2v2h-2zM273 97h2v2h-2zM281 97h2v2h-2zM285 97h2v2h-2zM287 97h2v2h-2zM299 97h2v2h-2zM301 97h2v2h-2zM267 99h2v2h-2zM269 99h2v2h-2zM271 99h2v2h-2zM277 99h2v2h-2zM295 99h2v2h-2zM299 99h2v2h-2zM305 99h2v2h-2zM261 101h2v2h-2zM263 101h2v2h-2zM269 101h2v2h-2zM281 101h2v2h-2zM285 101h2v2h-2zM293 101h2v2h-2zM299 101h2v2h-2zM305 101h2v2h-2zM255 103h2v2h-2zM259 103h2v2h-2zM263 103h2v2h-2zM283 103h2v2h-2zM295 103h2v2h-2zM297 103h2v2h-2zM301 103h2v2h-2zM265 105h2v2h-2zM289 105h2v2h-2zM299 105h2v2h-2zM301 105h2v2h-2zM307 105h2v2h-2zM261 107h2v2h-2zM267 107h2v2h-2zM293 107h2v2h-2zM303 107h2v2h-2zM305 107h2v2h-2zM307 107h2v2h-2zM257 109h2v2h-2zM273 109h2v2h-2zM275 109h2v2h-2zM283 109h2v2h-2zM289 109h2v2h-2zM295 109h2v2h-2zM251 111h2v2h-2zM253 111h2v2h-2zM255 111h2v2h-2zM267 111h2v2h-2zM309 111h2v2h-2zM257 113h2v2h-2zM263 113h2v2h-2zM271 113h2v2h-2zM303 113h2v2h-2zM305 113h2v2h-2zM249 115h2v2h-2zM255 115h2v2h-2zM257 115h2v2h-2zM263 115h2v2h-2zM277 115h2v2h-2zM297 115h2v2h-2zM301 115h2v2h-2zM303 115h2v2h-2zM307 115h2v2h-2zM311 115h2v2h-2zM257 117h2v2h-2zM273 117h2v2h-2zM311 117h2v2h-2zM255 119h2v2h-2zM305 119h2v2h-2zM309 119h2v2h-2zM311 119h2v2h-2zM249 121h2v2h-2zM265 121h2v2h-2zM273 121h2v2h-2zM311 121h2v2h-2zM249 123h2v2h-2zM259 123h2v2h-2zM301 123h2v2h-2zM309 123h2v2h-2zM311 123h2v2h-2zM245 125h2v2h-2zM259 125h2v2h-2zM287 125h2v2h-2zM309 125h2v2h-2zM315 125h2v2h-2zM245 127h2v2h-2zM249 127h2v2h-2zM251 127h2v2h-2zM275 127h2v2h-2zM311 127h2v2h-2zM263 129h2v2h-2zM269 129h2v2h-2zM281 129h2v2h-2zM295 129h2v2h-2zM301 129h2v2h-2zM309 129h2v2h-2zM255 131h2v2h-2zM275 131h2v2h-2zM311 131h2v2h-2zM249 133h2v2h-2zM269 133h2v2h-2zM271 133h2v2h-2zM275 133h2v2h-2zM313 133h2v2h-2zM315 133h2v2h-2zM261 135h2v2h-2zM283 135h2v2h-2zM309 135h2v2h-2zM311 135h2v2h-2zM263 137h2v2h-2zM273 137h2v2h-2zM277 137h2v2h-2zM289 137h2v2h-2zM291 137h2v2h-2zM311 137h2v2h-2zM315 137h2v2h-2zM245 139h2v2h-2zM265 139h2v2h-2zM291 139h2v2h-2zM311 139h2v2h-2zM241 141h2v2h-2zM243 141h2v2h-2zM245 141h2v2h-2zM257 141h2v2h-2zM269 141h2v2h-2zM273 141h2v2h-2zM315 141h2v2h-2zM243 143h2v2h-2zM245 143h2v2h-2zM269 143h2v2h-2zM309 143h2v2h-2zM243 145h2v2h-2zM253 145h2v2h-2zM293 145h2v2h-2zM249 147h2v2h-2zM251 147h2v2h-2zM267 147h2v2h-2zM239 149h2v2h-2zM241 149h2v2h-2zM247 149h2v2h-2zM257 149h2v2h-2zM269 149h2v2h-2zM291 149h2v2h-2zM237 151h2v2h-2zM241 151h2v2h-2zM243 151h2v2h-2zM259 151h2v2h-2zM313 151h2v2h-2zM319 151h2v2h-2zM237 153h2v2h-2zM241 153h2v2h-2zM275 153h2v2h-2zM291 153h2v2h-2zM313 153h2v2h-2zM235 155h2v2h-2zM237 155h2v2h-2zM239 155h2v2h-2zM285 155h2v2h-2zM287 155h2v2h-2zM289 155h2v2h-2zM291 155h2v2h-2zM313 155h2v2h-2zM317 155h2v2h-2zM253 157h2v2h-2zM261 157h2v2h-2zM297 157h2v2h-2zM313 157h2v2h-2zM315 157h2v2h-2zM319 157h2v2h-2zM233 159h2v2h-2zM237 159h2v2h-2zM239 159h2v2h-2zM255 159h2v2h-2zM291 159h2v2h-2zM313 159h2v2h-2zM237 161h2v2h-2zM239 161h2v2h-2zM243 161h2v2h-2zM245 161h2v2h-2zM255 161h2v2h-2zM293 161h2v2h-2zM313 161h2v2h-2zM237 163h2v2h-2zM239 163h2v2h-2zM285 163h2v2h-2zM289 163h2v2h-2zM313 163h2v2h-2zM237 165h2v2h-2zM247 165h2v2h-2zM271 165h2v2h-2zM319 165h2v2h-2zM235 167h2v2h-2zM237 167h2v2h-2zM317 167h2v2h-2zM319 167h2v2h-2zM235 169h2v2h-2zM237 169h2v2h-2zM241 169h2v2h-2zM315 169h2v2h-2zM237 171h2v2h-2zM233 173h2v2h-2zM299 173h2v2h-2zM265 175h2v2h-2zM301 175h2v2h-2zM305 175h2v2h-2zM231 177h2v2h-2zM297 179h2v2h-2zM313 179h2v2h-2zM233 181h2v2h-2zM303 181h2v2h-2zM305 181h2v2h-2zM229 183h2v2h-2zM231 183h2v2h-2zM315 183h2v2h-2zM317 183h2v2h-2zM243 185h2v2h-2zM251 185h2v2h-2zM301 185h2v2h-2zM315 185h2v2h-2zM317 185h2v2h-2zM319 185h2v2h-2zM231 187h2v2h-2zM237 187h2v2h-2zM295 187h2v2h-2zM309 187h2v2h-2zM313 187h2v2h-2zM315 187h2v2h-2zM231 189h2v2h-2zM233 189h2v2h-2zM309 189h2v2h-2zM231 191h2v2h-2zM239 191h2v2h-2zM313 193h2v2h-2zM315 193h2v2h-2zM319 193h2v2h-2zM241 195h2v2h-2zM231 197h2v2h-2zM235 197h2v2h-2zM245 197h2v2h-2zM309 197h2v2h-2zM315 197h2v2h-2zM317 197h2v2h-2zM227 199h2v2h-2zM239 199h2v2h-2zM313 199h2v2h-2zM315 199h2v2h-2zM229 201h2v2h-2zM239 201h2v2h-2zM317 201h2v2h-2zM227 203h2v2h-2zM315 203h2v2h-2zM319 203h2v2h-2zM237 205h2v2h-2zM245 205h2v2h-2zM249 205h2v2h-2zM299 205h2v2h-2zM313 205h2v2h-2zM229 207h2v2h-2zM243 207h2v2h-2zM311 207h2v2h-2zM313 207h2v2h-2zM317 207h2v2h-2zM301 209h2v2h-2zM311 209h2v2h-2zM313 209h2v2h-2zM231 211h2v2h-2zM313 211h2v2h-2zM301 213h2v2h-2zM225 215h2v2h-2zM227 215h2v2h-2zM231 215h2v2h-2zM237 215h2v2h-2zM225 217h2v2h-2zM227 217h2v2h-2zM235 217h2v2h-2zM293 217h2v2h-2zM225 219h2v2h-2zM229 219h2v2h-2zM233 219h2v2h-2zM303 219h2v2h-2zM311 219h2v2h-2zM227 221h2v2h-2zM231 221h2v2h-2zM291 221h2v2h-2zM311 221h2v2h-2zM313 221h2v2h-2zM315 221h2v2h-2zM317 221h2v2h-2zM223 223h2v2h-2zM251 223h2v2h-2zM317 223h2v2h-2zM223 225h2v2h-2zM225 225h2v2h-2zM227 225h2v2h-2zM229 225h2v2h-2zM241 225h2v2h-2zM243 225h2v2h-2zM311 225h2v2h-2zM317 225h2v2h-2zM295 227h2v2h-2zM301 227h2v2h-2zM223 229h2v2h-2zM225 229h2v2h-2zM229 229h2v2h-2zM235 229h2v2h-2zM303 229h2v2h-2zM223 231h2v2h-2zM295 231h2v2h-2zM225 233h2v2h-2zM231 233h2v2h-2zM233 233h2v2h-2zM239 233h2v2h-2zM299 233h2v2h-2zM311 233h2v2h-2zM313 233h2v2h-2zM229 235h2v2h-2zM243 235h2v2h-2zM305 235h2v2h-2zM311 235h2v2h-2zM293 237h2v2h-2zM309 237h2v2h-2zM313 237h2v2h-2zM299 239h2v2h-2zM225 241h2v2h-2zM227 241h2v2h-2zM305 241h2v2h-2zM309 241h2v2h-2zM311 241h2v2h-2zM313 241h2v2h-2zM227 243h2v2h-2zM241 243h2v2h-2zM243 243h2v2h-2zM299 243h2v2h-2zM311 243h2v2h-2zM299 245h2v2h-2zM301 245h2v2h-2zM309 245h2v2h-2zM225 247h2v2h-2zM227 247h2v2h-2zM233 247h2v2h-2zM241 247h2v2h-2zM289 247h2v2h-2zM295 247h2v2h-2zM307 247h2v2h-2zM309 247h2v2h-2zM313 247h2v2h-2zM225 249h2v2h-2zM227 249h2v2h-2zM229 249h2v2h-2zM239 251h2v2h-2zM295 251h2v2h-2zM227 253h2v2h-2zM297 253h2v2h-2zM307 253h2v2h-2zM301 255h2v2h-2zM235 257h2v2h-2zM291 257h2v2h-2zM307 257h2v2h-2zM223 259h2v2h-2zM225 259h2v2h-2zM227 259h2v2h-2zM229 259h2v2h-2zM243 259h2v2h-2zM223 261h2v2h-2zM301 261h2v2h-2zM305 261h2v2h-2zM307 261h2v2h-2zM309 261h2v2h-2zM225 263h2v2h-2zM245 263h2v2h-2zM289 263h2v2h-2zM309 263h2v2h-2zM227 265h2v2h-2zM229 265h2v2h-2zM249 265h2v2h-2zM271 265h2v2h-2zM285 265h2v2h-2zM241 267h2v2h-2zM305 267h2v2h-2zM229 269h2v2h-2zM245 269h2v2h-2zM293 269h2v2h-2zM303 269h2v2h-2zM305 269h2v2h-2zM227 271h2v2h-2zM237 271h2v2h-2zM271 271h2v2h-2zM285 271h2v2h-2zM291 271h2v2h-2zM303 271h2v2h-2zM223 273h2v2h-2zM231 273h2v2h-2zM303 273h2v2h-2zM305 273h2v2h-2zM307 273h2v2h-2zM225 275h2v2h-2zM227 275h2v2h-2zM229 275h2v2h-2zM285 275h2v2h-2zM293 275h2v2h-2zM299 275h2v2h-2zM305 275h2v2h-2zM225 277h2v2h-2zM273 277h2v2h-2zM283 277h2v2h-2zM293 277h2v2h-2zM303 277h2v2h-2zM223 279h2v2h-2zM227 279h2v2h-2zM229 279h2v2h-2zM233 279h2v2h-2zM291 279h2v2h-2zM295 279h2v2h-2zM299 279h2v2h-2zM303 279h2v2h-2zM305 279h2v2h-2zM223 281h2v2h-2zM225 281h2v2h-2zM229 281h2v2h-2zM289 281h2v2h-2zM299 281h2v2h-2zM227 283h2v2h-2zM239 283h2v2h-2zM247 283h2v2h-2zM303 283h2v2h-2zM225 285h2v2h-2zM231 285h2v2h-2zM247 285h2v2h-2zM299 285h2v2h-2zM303 285h2v2h-2zM229 287h2v2h-2zM231 287h2v2h-2zM251 287h2v2h-2zM267 287h2v2h-2zM273 287h2v2h-2zM277 287h2v2h-2zM281 287h2v2h-2zM299 287h2v2h-2zM225 289h2v2h-2zM231 289h2v2h-2zM239 289h2v2h-2zM249 289h2v2h-2zM285 289h2v2h-2zM267 291h2v2h-2zM299 291h2v2h-2zM229 293h2v2h-2zM279 293h2v2h-2zM287 293h2v2h-2zM297 293h2v2h-2zM225 295h2v2h-2zM227 295h2v2h-2zM229 295h2v2h-2zM241 295h2v2h-2zM267 295h2v2h-2zM283 295h2v2h-2zM295 295h2v2h-2zM297 295h2v2h-2zM241 297h2v2h-2zM257 297h2v2h-2zM279 297h2v2h-2zM293 297h2v2h-2zM227 299h2v2h-2zM231 299h2v2h-2zM233 299h2v2h-2zM255 299h2v2h-2zM257 299h2v2h-2zM265 299h2v2h-2zM271 299h2v2h-2zM275 299h2v2h-2zM277 299h2v2h-2zM287 299h2v2h-2zM291 299h2v2h-2zM295 299h2v2h-2zM227 301h2v2h-2zM231 301h2v2h-2zM233 301h2v2h-2zM243 301h2v2h-2zM257 301h2v2h-2zM267 301h2v2h-2zM291 301h2v2h-2zM233 303h2v2h-2zM257 303h2v2h-2zM291 303h2v2h-2zM293 303h2v2h-2zM237 305h2v2h-2zM245 305h2v2h-2zM273 305h2v2h-2zM229 307h2v2h-2zM295 307h2v2h-2zM231 309h2v2h-2zM239 309h2v2h-2zM271 309h2v2h-2zM283 309h2v2h-2zM287 309h2v2h-2zM291 309h2v2h-2zM295 309h2v2h-2zM233 311h2v2h-2zM237 311h2v2h-2zM243 311h2v2h-2zM249 311h2v2h-2zM251 311h2v2h-2zM253 311h2v2h-2zM289 311h2v2h-2zM291 311h2v2h-2zM233 313h2v2h-2zM235 313h2v2h-2zM237 313h2v2h-2zM257 313h2v2h-2zM281 313h2v2h-2zM285 313h2v2h-2zM239 315h2v2h-2zM241 315h2v2h-2zM267 315h2v2h-2zM285 315h2v2h-2zM233 317h2v2h-2zM235 317h2v2h-2zM237 317h2v2h-2zM243 317h2v2h-2zM245 317h2v2h-2zM251 317h2v2h-2zM269 317h2v2h-2zM279 317h2v2h-2zM281 317h2v2h-2zM291 317h2v2h-2zM257 319h2v2h-2zM275 319h2v2h-2zM277 319h2v2h-2zM281 319h2v2h-2zM231 321h2v2h-2zM239 321h2v2h-2zM241 321h2v2h-2zM279 321h2v2h-2zM281 321h2v2h-2zM289 321h2v2h-2zM235 323h2v2h-2zM237 323h2v2h-2zM245 323h2v2h-2zM247 323h2v2h-2zM271 323h2v2h-2zM277 323h2v2h-2zM281 323h2v2h-2zM289 323h2v2h-2zM239 325h2v2h-2zM243 325h2v2h-2zM247 325h2v2h-2zM249 325h2v2h-2zM273 325h2v2h-2zM277 325h2v2h-2zM281 325h2v2h-2zM239 327h2v2h-2zM241 327h2v2h-2zM243 327h2v2h-2zM247 327h2v2h-2zM253 327h2v2h-2zM257 327h2v2h-2zM279 327h2v2h-2zM283 327h2v2h-2zM285 327h2v2h-2zM237 329h2v2h-2zM243 329h2v2h-2zM245 329h2v2h-2zM249 329h2v2h-2zM275 329h2v2h-2zM277 329h2v2h-2zM279 329h2v2h-2zM281 329h2v2h-2zM283 329h2v2h-2zM237 331h2v2h-2zM247 331h2v2h-2zM257 331h2v2h-2zM279 331h2v2h-2zM281 331h2v2h-2zM241 333h2v2h-2zM249 333h2v2h-2zM251 333h2v2h-2zM255 333h2v2h-2zM263 333h2v2h-2zM265 333h2v2h-2zM269 333h2v2h-2zM273 333h2v2h-2zM237 335h2v2h-2zM241 335h2v2h-2zM247 335h2v2h-2zM253 335h2v2h-2zM255 335h2v2h-2zM259 335h2v2h-2zM265 335h2v2h-2zM271 335h2v2h-2zM241 337h2v2h-2zM243 337h2v2h-2zM245 337h2v2h-2zM257 337h2v2h-2zM259 337h2v2h-2zM263 337h2v2h-2zM269 337h2v2h-2zM271 337h2v2h-2zM275 337h2v2h-2zM277 337h2v2h-2zM243 339h2v2h-2zM245 339h2v2h-2zM253 339h2v2h-2zM255 339h2v2h-2zM265 339h2v2h-2zM267 339h2v2h-2zM271 339h2v2h-2zM277 339h2v2h-2zM255 341h2v2h-2zM257 341h2v2h-2zM263 341h2v2h-2zM265 341h2v2h-2zM279 341h2v2h-2zM253 343h2v2h-2zM243 345h2v2h-2zM269 345h2v2h-2zM275 345h2v2h-2zM253 347h2v2h-2zM259 347h2v2h-2zM263 347h2v2h-2zM271 347h2v2h-2zM247 349h2v2h-2zM251 349h2v2h-2zM259 349h2v2h-2zM263 349h2v2h-2zM267 349h2v2h-2zM257 351h2v2h-2zM259 351h2v2h-2zM263 351h2v2h-2zM247 353h2v2h-2zM253 353h2v2h-2zM255 353h2v2h-2zM251 355h2v2h-2zM263 355h2v2h-2zM251 357h2v2h-2zM267 357h2v2h-2zM257 363h2v2h-2zM253 365h2v2h-2zM261 369h2v2h-2zM265 371h2v2h-2zM261 373h2v2h-2zM257 377h2v2h-2zM257 379h2v2h-2zM263 379h2v2h-2zM257 381h2v2h-2zM263 381h2v2h-2zM265 381h2v2h-2zM245 383h2v2h-2zM251 383h2v2h-2zM257 383h2v2h-2zM259 383h2v2h-2zM261 383h2v2h-2zM263 383h2v2h-2zM265 383h2v2h-2zM269 383h2v2h-2zM253 385h2v2h-2zM265 385h2v2h-2zM241 387h2v2h-2zM243 387h2v2h-2zM255 387h2v2h-2zM259 387h2v2h-2zM267 387h2v2h-2zM253 389h2v2h-2zM255 389h2v2h-2zM277 389h2v2h-2zM245 391h2v2h-2zM247 391h2v2h-2zM253 391h2v2h-2zM263 391h2v2h-2zM249 393h2v2h-2zM259 393h2v2h-2zM263 393h2v2h-2zM265 393h2v2h-2zM273 393h2v2h-2zM277 393h2v2h-2zM251 395h2v2h-2zM257 395h2v2h-2zM259 395h2v2h-2zM265 395h2v2h-2zM271 395h2v2h-2zM279 395h2v2h-2zM245 397h2v2h-2zM247 397h2v2h-2zM249 397h2v2h-2zM251 397h2v2h-2zM253 397h2v2h-2zM261 397h2v2h-2zM267 397h2v2h-2zM269 397h2v2h-2zM237 399h2v2h-2zM243 399h2v2h-2zM247 399h2v2h-2zM249 399h2v2h-2zM267 399h2v2h-2zM269 399h2v2h-2zM273 399h2v2h-2zM233 401h2v2h-2zM239 401h2v2h-2zM249 401h2v2h-2zM253 401h2v2h-2zM257 401h2v2h-2zM261 401h2v2h-2zM269 401h2v2h-2zM279 401h2v2h-2zM241 403h2v2h-2zM249 403h2v2h-2zM263 403h2v2h-2zM265 403h2v2h-2zM279 403h2v2h-2zM281 403h2v2h-2zM237 405h2v2h-2zM239 405h2v2h-2zM241 405h2v2h-2zM281 405h2v2h-2zM287 405h2v2h-2zM241 407h2v2h-2zM251 407h2v2h-2zM279 407h2v2h-2zM231 409h2v2h-2zM233 409h2v2h-2zM235 409h2v2h-2zM237 409h2v2h-2zM239 409h2v2h-2zM255 409h2v2h-2zM277 409h2v2h-2zM281 409h2v2h-2zM283 409h2v2h-2zM287 409h2v2h-2zM289 409h2v2h-2zM231 411h2v2h-2zM249 411h2v2h-2zM253 411h2v2h-2zM277 411h2v2h-2zM283 411h2v2h-2zM285 411h2v2h-2zM287 411h2v2h-2zM291 411h2v2h-2zM269 413h2v2h-2zM281 413h2v2h-2zM285 413h2v2h-2zM293 413h2v2h-2zM235 415h2v2h-2zM249 415h2v2h-2zM269 415h2v2h-2zM293 415h2v2h-2zM231 417h2v2h-2zM235 417h2v2h-2zM237 417h2v2h-2zM241 417h2v2h-2zM247 417h2v2h-2zM233 419h2v2h-2zM239 419h2v2h-2zM261 419h2v2h-2zM271 419h2v2h-2zM287 419h2v2h-2zM231 421h2v2h-2zM283 421h2v2h-2zM285 421h2v2h-2zM289 421h2v2h-2zM231 423h2v2h-2zM237 423h2v2h-2zM247 423h2v2h-2zM291 423h2v2h-2zM295 423h2v2h-2zM225 425h2v2h-2zM231 425h2v2h-2zM233 425h2v2h-2zM235 425h2v2h-2zM241 425h2v2h-2zM267 425h2v2h-2zM271 425h2v2h-2zM297 425h2v2h-2zM233 427h2v2h-2zM253 427h2v2h-2zM289 427h2v2h-2zM291 427h2v2h-2zM293 427h2v2h-2zM299 427h2v2h-2zM223 429h2v2h-2zM225 429h2v2h-2zM231 429h2v2h-2zM233 429h2v2h-2zM267 429h2v2h-2zM279 429h2v2h-2zM287 429h2v2h-2zM293 429h2v2h-2zM295 429h2v2h-2zM297 429h2v2h-2zM223 431h2v2h-2zM225 431h2v2h-2zM243 431h2v2h-2zM257 431h2v2h-2zM267 431h2v2h-2zM291 431h2v2h-2zM299 431h2v2h-2zM223 433h2v2h-2zM239 433h2v2h-2zM253 433h2v2h-2zM285 433h2v2h-2zM287 433h2v2h-2zM289 433h2v2h-2zM291 433h2v2h-2zM293 433h2v2h-2zM297 433h2v2h-2zM231 435h2v2h-2zM233 435h2v2h-2zM235 435h2v2h-2zM257 435h2v2h-2zM289 435h2v2h-2zM293 435h2v2h-2zM295 435h2v2h-2zM299 435h2v2h-2zM233 437h2v2h-2zM261 437h2v2h-2zM289 437h2v2h-2zM295 437h2v2h-2zM223 439h2v2h-2zM227 439h2v2h-2zM233 439h2v2h-2zM235 439h2v2h-2zM241 439h2v2h-2zM243 439h2v2h-2zM273 439h2v2h-2zM291 439h2v2h-2zM295 439h2v2h-2zM297 439h2v2h-2zM229 441h2v2h-2zM241 441h2v2h-2zM291 441h2v2h-2zM299 441h2v2h-2zM221 443h2v2h-2zM223 443h2v2h-2zM225 443h2v2h-2zM227 443h2v2h-2zM229 443h2v2h-2zM231 443h2v2h-2zM233 443h2v2h-2zM237 443h2v2h-2zM257 443h2v2h-2zM263 443h2v2h-2zM273 443h2v2h-2zM287 443h2v2h-2zM291 443h2v2h-2zM297 443h2v2h-2zM301 443h2v2h-2zM233 445h2v2h-2zM241 445h2v2h-2zM291 445h2v2h-2zM297 445h2v2h-2zM299 445h2v2h-2zM301 445h2v2h-2zM223 447h2v2h-2zM225 447h2v2h-2zM227 447h2v2h-2zM229 447h2v2h-2zM231 447h2v2h-2zM235 447h2v2h-2zM241 447h2v2h-2zM243 447h2v2h-2zM263 447h2v2h-2zM285 447h2v2h-2zM287 447h2v2h-2zM295 447h2v2h-2zM219 449h2v2h-2zM223 449h2v2h-2zM227 449h2v2h-2zM249 449h2v2h-2zM265 449h2v2h-2zM271 449h2v2h-2zM293 449h2v2h-2zM299 449h2v2h-2zM301 449h2v2h-2zM221 451h2v2h-2zM235 451h2v2h-2zM245 451h2v2h-2zM287 451h2v2h-2zM293 451h2v2h-2zM297 451h2v2h-2zM299 451h2v2h-2zM225 453h2v2h-2zM227 453h2v2h-2zM229 453h2v2h-2zM233 453h2v2h-2zM279 453h2v2h-2zM281 453h2v2h-2zM289 453h2v2h-2zM295 453h2v2h-2zM297 453h2v2h-2zM299 453h2v2h-2zM225 455h2v2h-2zM227 455h2v2h-2zM241 455h2v2h-2zM269 455h2v2h-2zM271 455h2v2h-2zM293 455h2v2h-2zM295 455h2v2h-2zM297 455h2v2h-2zM301 455h2v2h-2zM239 457h2v2h-2zM263 457h2v2h-2zM275 457h2v2h-2zM277 457h2v2h-2zM297 457h2v2h-2zM221 459h2v2h-2zM225 459h2v2h-2zM247 459h2v2h-2zM279 459h2v2h-2zM287 459h2v2h-2zM291 459h2v2h-2zM295 459h2v2h-2zM221 461h2v2h-2zM223 461h2v2h-2zM229 461h2v2h-2zM239 461h2v2h-2zM285 461h2v2h-2zM287 461h2v2h-2zM297 461h2v2h-2zM307 461h2v2h-2zM219 463h2v2h-2zM225 463h2v2h-2zM227 463h2v2h-2zM239 463h2v2h-2zM299 463h2v2h-2zM217 465h2v2h-2zM219 465h2v2h-2zM225 465h2v2h-2zM235 465h2v2h-2zM267 465h2v2h-2zM295 465h2v2h-2zM297 465h2v2h-2zM301 465h2v2h-2zM217 467h2v2h-2zM221 467h2v2h-2zM233 467h2v2h-2zM295 467h2v2h-2zM299 467h2v2h-2zM307 467h2v2h-2zM215 469h2v2h-2zM291 469h2v2h-2zM299 469h2v2h-2zM303 469h2v2h-2zM307 469h2v2h-2zM279 471h2v2h-2zM281 471h2v2h-2zM287 471h2v2h-2zM293 471h2v2h-2zM297 471h2v2h-2zM303 471h2v2h-2zM309 471h2v2h-2zM217 473h2v2h-2zM291 473h2v2h-2zM297 473h2v2h-2zM299 473h2v2h-2zM307 473h2v2h-2zM309 473h2v2h-2zM219 475h2v2h-2zM221 475h2v2h-2zM301 475h2v2h-2zM307 475h2v2h-2zM211 477h2v2h-2zM213 477h2v2h-2zM215 477h2v2h-2zM219 477h2v2h-2zM223 477h2v2h-2zM287 477h2v2h-2zM289 477h2v2h-2zM301 477h2v2h-2zM311 477h2v2h-2zM219 479h2v2h-2zM221 479h2v2h-2zM223 479h2v2h-2zM307 479h2v2h-2zM315 479h2v2h-2zM471 479h2v2h-2zM475 479h2v2h-2zM485 479h2v2h-2zM489 479h2v2h-2zM211 481h2v2h-2zM215 481h2v2h-2zM217 481h2v2h-2zM289 481h2v2h-2zM303 481h2v2h-2zM311 481h2v2h-2zM477 481h2v2h-2zM483 481h2v2h-2zM485 481h2v2h-2zM489 481h2v2h-2zM207 483h2v2h-2zM209 483h2v2h-2zM211 483h2v2h-2zM213 483h2v2h-2zM315 483h2v2h-2zM317 483h2v2h-2zM467 483h2v2h-2zM477 483h2v2h-2zM493 483h2v2h-2zM497 483h2v2h-2zM305 485h2v2h-2zM309 485h2v2h-2zM311 485h2v2h-2zM313 485h2v2h-2zM457 485h2v2h-2zM461 485h2v2h-2zM465 485h2v2h-2zM475 485h2v2h-2zM485 485h2v2h-2zM491 485h2v2h-2zM497 485h2v2h-2zM205 487h2v2h-2zM207 487h2v2h-2zM309 487h2v2h-2zM315 487h2v2h-2zM321 487h2v2h-2zM459 487h2v2h-2zM477 487h2v2h-2zM497 487h2v2h-2zM501 487h2v2h-2zM203 489h2v2h-2zM207 489h2v2h-2zM295 489h2v2h-2zM305 489h2v2h-2zM315 489h2v2h-2zM317 489h2v2h-2zM459 489h2v2h-2zM461 489h2v2h-2zM465 489h2v2h-2zM497 489h2v2h-2zM501 489h2v2h-2zM205 491h2v2h-2zM293 491h2v2h-2zM299 491h2v2h-2zM303 491h2v2h-2zM305 491h2v2h-2zM307 491h2v2h-2zM309 491h2v2h-2zM311 491h2v2h-2zM317 491h2v2h-2zM319 491h2v2h-2zM323 491h2v2h-2zM455 491h2v2h-2zM459 491h2v2h-2zM487 491h2v2h-2zM499 491h2v2h-2zM501 491h2v2h-2zM211 493h2v2h-2zM293 493h2v2h-2zM303 493h2v2h-2zM309 493h2v2h-2zM313 493h2v2h-2zM315 493h2v2h-2zM317 493h2v2h-2zM459 493h2v2h-2zM497 493h2v2h-2zM205 495h2v2h-2zM315 495h2v2h-2zM319 495h2v2h-2zM323 495h2v2h-2zM459 495h2v2h-2zM493 495h2v2h-2zM499 495h2v2h-2zM501 495h2v2h-2zM203 497h2v2h-2zM205 497h2v2h-2zM311 497h2v2h-2zM313 497h2v2h-2zM315 497h2v2h-2zM323 497h2v2h-2zM467 497h2v2h-2zM471 497h2v2h-2zM481 497h2v2h-2zM483 497h2v2h-2zM485 497h2v2h-2zM499 497h2v2h-2zM201 499h2v2h-2zM203 499h2v2h-2zM295 499h2v2h-2zM307 499h2v2h-2zM313 499h2v2h-2zM315 499h2v2h-2zM323 499h2v2h-2zM461 499h2v2h-2zM475 499h2v2h-2zM477 499h2v2h-2zM489 499h2v2h-2zM491 499h2v2h-2zM205 501h2v2h-2zM313 501h2v2h-2zM317 501h2v2h-2zM319 501h2v2h-2zM321 501h2v2h-2zM467 501h2v2h-2zM469 501h2v2h-2zM475 501h2v2h-2zM479 501h2v2h-2zM489 501h2v2h-2zM207 503h2v2h-2zM311 503h2v2h-2zM313 503h2v2h-2zM319 503h2v2h-2zM473 503h2v2h-2zM481 503h2v2h-2zM203 505h2v2h-2zM213 505h2v2h-2zM303 505h2v2h-2zM305 505h2v2h-2zM309 505h2v2h-2zM315 505h2v2h-2zM207 507h2v2h-2zM291 507h2v2h-2zM309 507h2v2h-2zM315 507h2v2h-2zM319 507h2v2h-2zM203 509h2v2h-2zM205 509h2v2h-2zM297 509h2v2h-2zM303 509h2v2h-2zM315 509h2v2h-2zM319 509h2v2h-2zM201 511h2v2h-2zM209 511h2v2h-2zM293 511h2v2h-2zM299 511h2v2h-2zM301 511h2v2h-2zM303 511h2v2h-2zM305 511h2v2h-2zM307 511h2v2h-2zM309 511h2v2h-2zM315 511h2v2h-2zM203 513h2v2h-2zM287 513h2v2h-2zM301 513h2v2h-2zM303 513h2v2h-2zM309 513h2v2h-2zM311 513h2v2h-2zM313 513h2v2h-2zM319 513h2v2h-2zM287 515h2v2h-2zM301 515h2v2h-2z"/>
<path fill="#0040ff" d="M257 13h2v2h-2zM259 13h2v2h-2zM261 13h2v2h-2zM269 13h2v2h-2zM275 13h2v2h-2zM279 13h2v2h-2zM317 13h2v2h-2zM321 13h2v2h-2zM323 13h2v2h-2zM325 13h2v2h-2zM279 97h2v2h-2zM291 97h2v2h-2zM289 99h2v2h-2zM291 99h2v2h-2zM291 101h2v2h-2zM271 103h2v2h-2zM273 103h2v2h-2zM275 103h2v2h-2zM277 103h2v2h-2zM271 105h2v2h-2zM275 105h2v2h-2zM277 105h2v2h-2zM287 105h2v2h-2zM291 105h2v2h-2zM293 105h2v2h-2zM295 105h2v2h-2zM277 107h2v2h-2zM279 107h2v2h-2zM281 107h2v2h-2zM285 107h2v2h-2zM289 107h2v2h-2zM291 107h2v2h-2zM299 107h2v2h-2zM265 109h2v2h-2zM269 109h2v2h-2zM277 109h2v2h-2zM279 109h2v2h-2zM265 111h2v2h-2zM273 111h2v2h-2zM281 111h2v2h-2zM289 111h2v2h-2zM295 111h2v2h-2zM267 113h2v2h-2zM275 113h2v2h-2zM283 113h2v2h-2zM289 113h2v2h-2zM297 113h2v2h-2zM261 115h2v2h-2zM265 115h2v2h-2zM269 115h2v2h-2zM279 115h2v2h-2zM287 115h2v2h-2zM289 115h2v2h-2zM291 115h2v2h-2zM293 115h2v2h-2zM295 115h2v2h-2zM299 115h2v2h-2zM263 117h2v2h-2zM269 117h2v2h-2zM279 117h2v2h-2zM287 117h2v2h-2zM291 117h2v2h-2zM295 117h2v2h-2zM299 117h2v2h-2zM259 119h2v2h-2zM263 119h2v2h-2zM269 119h2v2h-2zM289 119h2v2h-2zM293 119h2v2h-2zM303 119h2v2h-2zM259 121h2v2h-2zM269 121h2v2h-2zM277 121h2v2h-2zM289 121h2v2h-2zM303 121h2v2h-2zM255 123h2v2h-2zM261 123h2v2h-2zM277 123h2v2h-2zM295 123h2v2h-2zM299 123h2v2h-2zM303 123h2v2h-2zM253 125h2v2h-2zM255 125h2v2h-2zM261 125h2v2h-2zM267 125h2v2h-2zM301 125h2v2h-2zM273 127h2v2h-2zM293 127h2v2h-2zM295 127h2v2h-2zM297 127h2v2h-2zM303 127h2v2h-2zM307 127h2v2h-2zM255 129h2v2h-2zM257 129h2v2h-2zM287 129h2v2h-2zM297 129h2v2h-2zM299 129h2v2h-2zM303 129h2v2h-2zM253 131h2v2h-2zM257 131h2v2h-2zM283 131h2v2h-2zM291 131h2v2h-2zM293 131h2v2h-2zM295 131h2v2h-2zM301 131h2v2h-2zM307 131h2v2h-2zM309 131h2v2h-2zM255 133h2v2h-2zM259 133h2v2h-2zM265 133h2v2h-2zM277 133h2v2h-2zM281 133h2v2h-2zM285 133h2v2h-2zM295 133h2v2h-2zM301 133h2v2h-2zM305 133h2v2h-2zM249 135h2v2h-2zM251 135h2v2h-2zM255 135h2v2h-2zM257 135h2v2h-2zM259 135h2v2h-2zM271 135h2v2h-2zM275 135h2v2h-2zM299 135h2v2h-2zM303 135h2v2h-2zM305 135h2v2h-2zM249 137h2v2h-2zM251 137h2v2h-2zM255 137h2v2h-2zM267 137h2v2h-2zM295 137h2v2h-2zM299 137h2v2h-2zM303 137h2v2h-2zM305 137h2v2h-2zM307 137h2v2h-2zM249 139h2v2h-2zM269 139h2v2h-2zM273 139h2v2h-2zM277 139h2v2h-2zM299 139h2v2h-2zM301 139h2v2h-2zM303 139h2v2h-2zM305 139h2v2h-2zM309 139h2v2h-2zM255 141h2v2h-2zM283 141h2v2h-2zM293 141h2v2h-2zM301 141h2v2h-2zM303 141h2v2h-2zM305 141h2v2h-2zM309 141h2v2h-2zM247 143h2v2h-2zM249 143h2v2h-2zM275 143h2v2h-2zM283 143h2v2h-2zM289 143h2v2h-2zM291 143h2v2h-2zM297 143h2v2h-2zM303 143h2v2h-2zM247 145h2v2h-2zM249 145h2v2h-2zM257 145h2v2h-2zM267 145h2v2h-2zM273 145h2v2h-2zM289 145h2v2h-2zM309 145h2v2h-2zM245 147h2v2h-2zM247 147h2v2h-2zM297 147h2v2h-2zM301 147h2v2h-2zM305 149h2v2h-2zM307 149h2v2h-2zM311 149h2v2h-2zM249 151h2v2h-2zM253 151h2v2h-2zM277 151h2v2h-2zM305 151h2v2h-2zM307 151h2v2h-2zM311 151h2v2h-2zM245 153h2v2h-2zM251 153h2v2h-2zM309 153h2v2h-2zM249 155h2v2h-2zM265 155h2v2h-2zM267 155h2v2h-2zM277 155h2v2h-2zM305 155h2v2h-2zM241 157h2v2h-2zM243 157h2v2h-2zM247 157h2v2h-2zM267 157h2v2h-2zM279 157h2v2h-2zM307 157h2v2h-2zM309 157h2v2h-2zM311 157h2v2h-2zM245 159h2v2h-2zM247 159h2v2h-2zM251 159h2v2h-2zM263 159h2v2h-2zM295 159h2v2h-2zM301 159h2v2h-2zM307 159h2v2h-2zM309 159h2v2h-2zM241 161h2v2h-2zM257 161h2v2h-2zM287 161h2v2h-2zM305 161h2v2h-2zM307 161h2v2h-2zM309 161h2v2h-2zM311 161h2v2h-2zM243 163h2v2h-2zM253 163h2v2h-2zM275 163h2v2h-2zM297 163h2v2h-2zM303 163h2v2h-2zM307 163h2v2h-2zM309 163h2v2h-2zM311 163h2v2h-2zM241 165h2v2h-2zM263 165h2v2h-2zM301 165h2v2h-2zM305 165h2v2h-2zM307 165h2v2h-2zM311 165h2v2h-2zM241 167h2v2h-2zM243 167h2v2h-2zM265 167h2v2h-2zM303 167h2v2h-2zM311 167h2v2h-2zM251 169h2v2h-2zM275 169h2v2h-2zM309 169h2v2h-2zM311 169h2v2h-2zM239 171h2v2h-2zM251 171h2v2h-2zM305 171h2v2h-2zM237 173h2v2h-2zM239 173h2v2h-2zM295 173h2v2h-2zM237 175h2v2h-2zM239 175h2v2h-2zM267 175h2v2h-2zM289 175h2v2h-2zM307 175h2v2h-2zM311 175h2v2h-2zM313 175h2v2h-2zM241 177h2v2h-2zM247 177h2v2h-2zM269 177h2v2h-2zM287 177h2v2h-2zM295 177h2v2h-2zM297 177h2v2h-2zM301 177h2v2h-2zM307 177h2v2h-2zM309 177h2v2h-2zM237 179h2v2h-2zM245 179h2v2h-2zM249 179h2v2h-2zM287 179h2v2h-2zM299 179h2v2h-2zM303 179h2v2h-2zM309 179h2v2h-2zM311 179h2v2h-2zM293 181h2v2h-2zM307 181h2v2h-2zM309 181h2v2h-2zM237 183h2v2h-2zM241 183h2v2h-2zM257 183h2v2h-2zM295 183h2v2h-2zM311 183h2v2h-2zM239 185h2v2h-2zM287 185h2v2h-2zM295 185h2v2h-2zM305 185h2v2h-2zM309 185h2v2h-2zM233 187h2v2h-2zM239 187h2v2h-2zM241 187h2v2h-2zM305 187h2v2h-2zM235 189h2v2h-2zM243 189h2v2h-2zM275 189h2v2h-2zM297 189h2v2h-2zM311 189h2v2h-2zM241 191h2v2h-2zM249 191h2v2h-2zM279 191h2v2h-2zM295 191h2v2h-2zM299 191h2v2h-2zM305 191h2v2h-2zM307 191h2v2h-2zM235 193h2v2h-2zM309 193h2v2h-2zM311 193h2v2h-2zM295 195h2v2h-2zM307 195h2v2h-2zM309 195h2v2h-2zM237 197h2v2h-2zM293 197h2v2h-2zM303 197h2v2h-2zM307 197h2v2h-2zM311 197h2v2h-2zM313 197h2v2h-2zM231 199h2v2h-2zM235 199h2v2h-2zM243 199h2v2h-2zM233 201h2v2h-2zM289 201h2v2h-2zM301 201h2v2h-2zM307 201h2v2h-2zM309 201h2v2h-2zM313 201h2v2h-2zM309 203h2v2h-2zM233 205h2v2h-2zM235 205h2v2h-2zM309 205h2v2h-2zM311 205h2v2h-2zM235 207h2v2h-2zM253 207h2v2h-2zM307 207h2v2h-2zM309 207h2v2h-2zM233 209h2v2h-2zM237 209h2v2h-2zM235 211h2v2h-2zM301 211h2v2h-2zM303 211h2v2h-2zM311 211h2v2h-2zM231 213h2v2h-2zM235 213h2v2h-2zM285 213h2v2h-2zM305 213h2v2h-2zM307 213h2v2h-2zM311 213h2v2h-2zM235 215h2v2h-2zM311 215h2v2h-2zM231 217h2v2h-2zM241 217h2v2h-2zM245 219h2v2h-2zM249 219h2v2h-2zM295 219h2v2h-2zM297 219h2v2h-2zM233 221h2v2h-2zM267 221h2v2h-2zM299 221h2v2h-2zM307 221h2v2h-2zM309 221h2v2h-2zM231 223h2v2h-2zM233 223h2v2h-2zM241 223h2v2h-2zM309 223h2v2h-2zM237 225h2v2h-2zM239 225h2v2h-2zM297 225h2v2h-2zM309 225h2v2h-2zM229 227h2v2h-2zM231 227h2v2h-2zM233 227h2v2h-2zM303 227h2v2h-2zM305 227h2v2h-2zM307 227h2v2h-2zM309 227h2v2h-2zM311 227h2v2h-2zM231 229h2v2h-2zM237 229h2v2h-2zM241 229h2v2h-2zM305 229h2v2h-2zM307 229h2v2h-2zM309 229h2v2h-2zM231 231h2v2h-2zM233 231h2v2h-2zM303 231h2v2h-2zM305 231h2v2h-2zM307 231h2v2h-2zM309 231h2v2h-2zM311 231h2v2h-2zM235 233h2v2h-2zM247 233h2v2h-2zM231 235h2v2h-2zM233 235h2v2h-2zM239 235h2v2h-2zM309 235h2v2h-2zM289 237h2v2h-2zM295 237h2v2h-2zM305 237h2v2h-2zM227 239h2v2h-2zM231 239h2v2h-2zM233 239h2v2h-2zM235 239h2v2h-2zM301 239h2v2h-2zM305 239h2v2h-2zM307 239h2v2h-2zM229 241h2v2h-2zM233 241h2v2h-2zM235 241h2v2h-2zM241 241h2v2h-2zM245 241h2v2h-2zM297 241h2v2h-2zM299 241h2v2h-2zM301 241h2v2h-2zM303 241h2v2h-2zM307 241h2v2h-2zM231 243h2v2h-2zM233 243h2v2h-2zM235 243h2v2h-2zM239 243h2v2h-2zM245 243h2v2h-2zM289 243h2v2h-2zM303 243h2v2h-2zM307 243h2v2h-2zM239 245h2v2h-2zM281 245h2v2h-2zM247 247h2v2h-2zM303 247h2v2h-2zM305 247h2v2h-2zM231 249h2v2h-2zM233 249h2v2h-2zM235 249h2v2h-2zM249 249h2v2h-2zM299 249h2v2h-2zM305 249h2v2h-2zM233 251h2v2h-2zM237 251h2v2h-2zM247 251h2v2h-2zM301 251h2v2h-2zM305 251h2v2h-2zM229 253h2v2h-2zM243 253h2v2h-2zM299 253h2v2h-2zM231 255h2v2h-2zM233 255h2v2h-2zM279 255h2v2h-2zM295 255h2v2h-2zM233 257h2v2h-2zM237 257h2v2h-2zM245 257h2v2h-2zM299 257h2v2h-2zM301 257h2v2h-2zM233 259h2v2h-2zM235 259h2v2h-2zM239 259h2v2h-2zM281 259h2v2h-2zM297 259h2v2h-2zM303 259h2v2h-2zM305 259h2v2h-2zM233 261h2v2h-2zM297 261h2v2h-2zM303 261h2v2h-2zM233 263h2v2h-2zM273 263h2v2h-2zM285 263h2v2h-2zM287 263h2v2h-2zM293 263h2v2h-2zM301 263h2v2h-2zM233 265h2v2h-2zM235 265h2v2h-2zM283 265h2v2h-2zM293 265h2v2h-2zM297 265h2v2h-2zM299 265h2v2h-2zM301 265h2v2h-2zM235 267h2v2h-2zM243 267h2v2h-2zM245 267h2v2h-2zM289 267h2v2h-2zM291 267h2v2h-2zM299 267h2v2h-2zM235 269h2v2h-2zM237 269h2v2h-2zM275 269h2v2h-2zM281 269h2v2h-2zM285 269h2v2h-2zM289 269h2v2h-2zM301 269h2v2h-2zM231 271h2v2h-2zM243 271h2v2h-2zM233 273h2v2h-2zM259 273h2v2h-2zM297 273h2v2h-2zM233 275h2v2h-2zM235 275h2v2h-2zM237 275h2v2h-2zM245 275h2v2h-2zM295 275h2v2h-2zM233 277h2v2h-2zM297 277h2v2h-2zM231 279h2v2h-2zM235 279h2v2h-2zM245 279h2v2h-2zM253 279h2v2h-2zM273 279h2v2h-2zM233 281h2v2h-2zM291 281h2v2h-2zM293 281h2v2h-2zM233 283h2v2h-2zM235 283h2v2h-2zM237 283h2v2h-2zM243 283h2v2h-2zM245 283h2v2h-2zM251 283h2v2h-2zM253 283h2v2h-2zM257 283h2v2h-2zM283 283h2v2h-2zM291 283h2v2h-2zM297 283h2v2h-2zM237 285h2v2h-2zM277 285h2v2h-2zM293 285h2v2h-2zM295 285h2v2h-2zM233 287h2v2h-2zM239 287h2v2h-2zM245 287h2v2h-2zM247 287h2v2h-2zM253 287h2v2h-2zM291 287h2v2h-2zM293 287h2v2h-2zM295 287h2v2h-2zM251 289h2v2h-2zM263 289h2v2h-2zM273 289h2v2h-2zM277 289h2v2h-2zM281 289h2v2h-2zM289 289h2v2h-2zM291 289h2v2h-2zM235 291h2v2h-2zM237 291h2v2h-2zM253 291h2v2h-2zM281 291h2v2h-2zM287 291h2v2h-2zM291 291h2v2h-2zM233 293h2v2h-2zM235 293h2v2h-2zM245 293h2v2h-2zM283 293h2v2h-2zM289 293h2v2h-2zM237 295h2v2h-2zM281 295h2v2h-2zM285 295h2v2h-2zM287 295h2v2h-2zM235 297h2v2h-2zM237 297h2v2h-2zM239 297h2v2h-2zM245 297h2v2h-2zM249 297h2v2h-2zM259 297h2v2h-2zM283 297h2v2h-2zM287 297h2v2h-2zM289 297h2v2h-2zM239 299h2v2h-2zM241 299h2v2h-2zM253 299h2v2h-2zM285 299h2v2h-2zM235 301h2v2h-2zM237 301h2v2h-2zM239 301h2v2h-2zM277 301h2v2h-2zM279 301h2v2h-2zM281 301h2v2h-2zM285 301h2v2h-2zM287 301h2v2h-2zM239 303h2v2h-2zM269 303h2v2h-2zM279 303h2v2h-2zM283 303h2v2h-2zM287 303h2v2h-2zM239 305h2v2h-2zM241 305h2v2h-2zM243 305h2v2h-2zM271 305h2v2h-2zM275 305h2v2h-2zM281 305h2v2h-2zM287 305h2v2h-2zM241 307h2v2h-2zM245 307h2v2h-2zM253 307h2v2h-2zM267 307h2v2h-2zM281 307h2v2h-2zM283 307h2v2h-2zM287 307h2v2h-2zM243 309h2v2h-2zM253 309h2v2h-2zM279 309h2v2h-2zM281 309h2v2h-2zM285 309h2v2h-2zM273 311h2v2h-2zM279 311h2v2h-2zM281 311h2v2h-2zM245 313h2v2h-2zM253 313h2v2h-2zM263 313h2v2h-2zM269 313h2v2h-2zM247 315h2v2h-2zM277 315h2v2h-2zM249 317h2v2h-2zM253 317h2v2h-2zM255 317h2v2h-2zM259 317h2v2h-2zM271 317h2v2h-2zM273 317h2v2h-2zM275 317h2v2h-2zM243 319h2v2h-2zM247 319h2v2h-2zM249 319h2v2h-2zM251 319h2v2h-2zM255 319h2v2h-2zM263 319h2v2h-2zM265 319h2v2h-2zM269 319h2v2h-2zM271 319h2v2h-2zM273 319h2v2h-2zM279 319h2v2h-2zM249 321h2v2h-2zM251 321h2v2h-2zM255 321h2v2h-2zM259 321h2v2h-2zM261 321h2v2h-2zM267 321h2v2h-2zM271 321h2v2h-2zM243 323h2v2h-2zM249 323h2v2h-2zM253 323h2v2h-2zM257 323h2v2h-2zM259 323h2v2h-2zM263 323h2v2h-2zM267 323h2v2h-2zM269 323h2v2h-2zM251 325h2v2h-2zM253 325h2v2h-2zM261 325h2v2h-2zM265 325h2v2h-2zM267 325h2v2h-2zM269 325h2v2h-2zM271 325h2v2h-2zM275 325h2v2h-2zM251 327h2v2h-2zM263 327h2v2h-2zM267 327h2v2h-2zM269 327h2v2h-2zM273 327h2v2h-2zM277 327h2v2h-2zM247 329h2v2h-2zM257 329h2v2h-2zM259 329h2v2h-2zM265 329h2v2h-2zM271 329h2v2h-2zM253 331h2v2h-2zM261 331h2v2h-2zM253 333h2v2h-2zM257 333h2v2h-2zM261 333h2v2h-2zM257 335h2v2h-2zM261 335h2v2h-2zM253 399h2v2h-2zM253 403h2v2h-2zM259 403h2v2h-2zM249 405h2v2h-2zM257 405h2v2h-2zM259 405h2v2h-2zM261 405h2v2h-2zM265 405h2v2h-2zM269 405h2v2h-2zM249 407h2v2h-2zM253 407h2v2h-2zM255 407h2v2h-2zM259 407h2v2h-2zM261 407h2v2h-2zM263 407h2v2h-2zM265 407h2v2h-2zM267 407h2v2h-2zM271 407h2v2h-2zM273 407h2v2h-2zM243 409h2v2h-2zM251 409h2v2h-2zM257 409h2v2h-2zM265 409h2v2h-2zM269 409h2v2h-2zM271 409h2v2h-2zM275 409h2v2h-2zM247 411h2v2h-2zM251 411h2v2h-2zM261 411h2v2h-2zM267 411h2v2h-2zM269 411h2v2h-2zM271 411h2v2h-2zM245 413h2v2h-2zM247 413h2v2h-2zM249 413h2v2h-2zM253 413h2v2h-2zM257 413h2v2h-2zM261 413h2v2h-2zM265 413h2v2h-2zM267 413h2v2h-2zM271 413h2v2h-2zM275 413h2v2h-2zM277 413h2v2h-2zM245 415h2v2h-2zM247 415h2v2h-2zM251 415h2v2h-2zM259 415h2v2h-2zM267 415h2v2h-2zM271 415h2v2h-2zM273 415h2v2h-2zM243 417h2v2h-2zM259 417h2v2h-2zM269 417h2v2h-2zM273 417h2v2h-2zM277 417h2v2h-2zM281 417h2v2h-2zM241 419h2v2h-2zM249 419h2v2h-2zM253 419h2v2h-2zM257 419h2v2h-2zM273 419h2v2h-2zM275 419h2v2h-2zM277 419h2v2h-2zM281 419h2v2h-2zM239 421h2v2h-2zM243 421h2v2h-2zM247 421h2v2h-2zM255 421h2v2h-2zM257 421h2v2h-2zM267 421h2v2h-2zM281 421h2v2h-2zM245 423h2v2h-2zM265 423h2v2h-2zM267 423h2v2h-2zM279 423h2v2h-2zM237 425h2v2h-2zM239 425h2v2h-2zM263 425h2v2h-2zM273 425h2v2h-2zM275 425h2v2h-2zM277 425h2v2h-2zM279 425h2v2h-2zM281 425h2v2h-2zM283 425h2v2h-2zM285 425h2v2h-2zM235 427h2v2h-2zM247 427h2v2h-2zM263 427h2v2h-2zM279 427h2v2h-2zM283 427h2v2h-2zM245 429h2v2h-2zM281 429h2v2h-2zM289 429h2v2h-2zM233 431h2v2h-2zM235 431h2v2h-2zM237 431h2v2h-2zM269 431h2v2h-2zM275 431h2v2h-2zM279 431h2v2h-2zM281 431h2v2h-2zM287 431h2v2h-2zM235 433h2v2h-2zM237 433h2v2h-2zM243 433h2v2h-2zM271 433h2v2h-2zM283 433h2v2h-2zM237 435h2v2h-2zM239 435h2v2h-2zM241 435h2v2h-2zM245 435h2v2h-2zM281 435h2v2h-2zM263 437h2v2h-2zM279 437h2v2h-2zM283 437h2v2h-2zM285 437h2v2h-2zM287 437h2v2h-2zM231 439h2v2h-2zM237 439h2v2h-2zM255 439h2v2h-2zM271 439h2v2h-2zM275 439h2v2h-2zM277 439h2v2h-2zM279 439h2v2h-2zM285 439h2v2h-2zM289 439h2v2h-2zM233 441h2v2h-2zM235 441h2v2h-2zM237 441h2v2h-2zM247 441h2v2h-2zM269 441h2v2h-2zM281 441h2v2h-2zM235 443h2v2h-2zM239 443h2v2h-2zM241 443h2v2h-2zM249 443h2v2h-2zM265 443h2v2h-2zM281 443h2v2h-2zM283 443h2v2h-2zM279 445h2v2h-2zM287 445h2v2h-2zM293 445h2v2h-2zM245 447h2v2h-2zM253 447h2v2h-2zM259 447h2v2h-2zM271 447h2v2h-2zM283 447h2v2h-2zM289 447h2v2h-2zM233 449h2v2h-2zM237 449h2v2h-2zM241 449h2v2h-2zM283 449h2v2h-2zM285 449h2v2h-2zM233 451h2v2h-2zM237 451h2v2h-2zM241 451h2v2h-2zM255 451h2v2h-2zM263 451h2v2h-2zM275 451h2v2h-2zM285 451h2v2h-2zM291 451h2v2h-2zM235 453h2v2h-2zM237 453h2v2h-2zM249 453h2v2h-2zM287 453h2v2h-2zM231 455h2v2h-2zM233 455h2v2h-2zM237 455h2v2h-2zM281 455h2v2h-2zM283 455h2v2h-2zM285 455h2v2h-2zM287 455h2v2h-2zM291 455h2v2h-2zM233 457h2v2h-2zM235 457h2v2h-2zM237 457h2v2h-2zM249 457h2v2h-2zM253 457h2v2h-2zM257 457h2v2h-2zM265 457h2v2h-2zM281 457h2v2h-2zM283 457h2v2h-2zM285 457h2v2h-2zM287 457h2v2h-2zM289 457h2v2h-2zM293 457h2v2h-2zM233 459h2v2h-2zM235 459h2v2h-2zM239 459h2v2h-2zM263 459h2v2h-2zM281 459h2v2h-2zM283 459h2v2h-2zM285 459h2v2h-2zM289 459h2v2h-2zM235 461h2v2h-2zM241 461h2v2h-2zM243 461h2v2h-2zM289 461h2v2h-2zM291 461h2v2h-2zM231 463h2v2h-2zM233 463h2v2h-2zM287 463h2v2h-2zM289 463h2v2h-2zM227 465h2v2h-2zM241 465h2v2h-2zM275 465h2v2h-2zM283 465h2v2h-2zM287 465h2v2h-2zM289 465h2v2h-2zM225 467h2v2h-2zM287 467h2v2h-2zM293 467h2v2h-2zM225 469h2v2h-2zM227 469h2v2h-2zM277 469h2v2h-2zM285 469h2v2h-2zM287 469h2v2h-2zM293 469h2v2h-2zM221 471h2v2h-2zM271 471h2v2h-2zM283 471h2v2h-2zM289 471h2v2h-2zM291 471h2v2h-2zM295 471h2v2h-2zM221 473h2v2h-2zM223 473h2v2h-2zM235 473h2v2h-2zM287 473h2v2h-2zM295 473h2v2h-2zM225 475h2v2h-2zM277 475h2v2h-2zM281 475h2v2h-2zM289 475h2v2h-2zM293 475h2v2h-2zM297 475h2v2h-2zM217 477h2v2h-2zM277 477h2v2h-2zM213 479h2v2h-2zM217 479h2v2h-2zM281 479h2v2h-2zM283 479h2v2h-2zM289 479h2v2h-2zM295 479h2v2h-2zM213 481h2v2h-2zM221 481h2v2h-2zM293 481h2v2h-2zM295 481h2v2h-2zM215 483h2v2h-2zM285 483h2v2h-2zM295 483h2v2h-2zM297 483h2v2h-2zM471 483h2v2h-2zM475 483h2v2h-2zM479 483h2v2h-2zM481 483h2v2h-2zM483 483h2v2h-2zM489 483h2v2h-2zM209 485h2v2h-2zM213 485h2v2h-2zM289 485h2v2h-2zM291 485h2v2h-2zM301 485h2v2h-2zM467 485h2v2h-2zM479 485h2v2h-2zM493 485h2v2h-2zM211 487h2v2h-2zM287 487h2v2h-2zM295 487h2v2h-2zM299 487h2v2h-2zM463 487h2v2h-2zM465 487h2v2h-2zM489 487h2v2h-2zM299 489h2v2h-2zM307 489h2v2h-2zM463 489h2v2h-2zM469 489h2v2h-2zM493 489h2v2h-2zM495 489h2v2h-2zM207 491h2v2h-2zM211 491h2v2h-2zM295 491h2v2h-2zM297 491h2v2h-2zM467 491h2v2h-2zM479 491h2v2h-2zM485 491h2v2h-2zM493 491h2v2h-2zM209 493h2v2h-2zM299 493h2v2h-2zM301 493h2v2h-2zM305 493h2v2h-2zM463 493h2v2h-2zM467 493h2v2h-2zM489 493h2v2h-2zM491 493h2v2h-2zM493 493h2v2h-2zM495 493h2v2h-2zM207 495h2v2h-2zM211 495h2v2h-2zM297 495h2v2h-2zM299 495h2v2h-2zM301 495h2v2h-2zM303 495h2v2h-2zM307 495h2v2h-2zM465 495h2v2h-2zM467 495h2v2h-2zM481 495h2v2h-2zM483 495h2v2h-2zM487 495h2v2h-2zM489 495h2v2h-2zM207 497h2v2h-2zM297 497h2v2h-2zM299 497h2v2h-2zM301 497h2v2h-2zM307 497h2v2h-2zM469 497h2v2h-2zM477 497h2v2h-2zM489 497h2v2h-2zM491 497h2v2h-2zM205 499h2v2h-2zM291 499h2v2h-2zM299 499h2v2h-2zM303 499h2v2h-2zM305 499h2v2h-2zM471 499h2v2h-2zM479 499h2v2h-2zM483 499h2v2h-2zM291 501h2v2h-2zM297 501h2v2h-2zM299 501h2v2h-2zM301 501h2v2h-2zM305 501h2v2h-2zM477 501h2v2h-2zM297 503h2v2h-2zM299 503h2v2h-2zM205 505h2v2h-2zM293 505h2v2h-2zM299 505h2v2h-2zM211 507h2v2h-2zM213 507h2v2h-2zM297 507h2v2h-2zM299 507h2v2h-2zM207 509h2v2h-2zM293 509h2v2h-2zM295 509h2v2h-2zM301 509h2v2h-2zM205 511h2v2h-2zM207 511h2v2h-2zM291 511h2v2h-2zM295 511h2v2h-2zM297 511h2v2h-2zM207 513h2v2h-2zM211 513h2v2h-2zM295 513h2v2h-2zM209 515h2v2h-2zM213 515h2v2h-2zM291 515h2v2h-2zM293 515h2v2h-2z"/>
<path fill="#0090ff" d="M263 13h2v2h-2zM265 13h2v2h-2zM273 13h2v2h-2zM305 13h2v2h-2zM311 13h2v2h-2zM313 13h2v2h-2zM315 13h2v2h-2zM281 109h2v2h-2zM281 115h2v2h-2zM285 115h2v2h-2zM275 117h2v2h-2zM281 117h2v2h-2zM283 117h2v2h-2zM289 117h2v2h-2zM267 119h2v2h-2zM273 119h2v2h-2zM275 119h2v2h-2zM279 119h2v2h-2zM281 119h2v2h-2zM283 119h2v2h-2zM287 119h2v2h-2zM295 119h2v2h-2zM267 121h2v2h-2zM281 121h2v2h-2zM283 121h2v2h-2zM291 121h2v2h-2zM293 121h2v2h-2zM263 123h2v2h-2zM267 123h2v2h-2zM269 123h2v2h-2zM271 123h2v2h-2zM275 123h2v2h-2zM281 123h2v2h-2zM287 123h2v2h-2zM289 123h2v2h-2zM291 123h2v2h-2zM293 123h2v2h-2zM265 125h2v2h-2zM269 125h2v2h-2zM281 125h2v2h-2zM283 125h2v2h-2zM285 125h2v2h-2zM291 125h2v2h-2zM265 127h2v2h-2zM269 127h2v2h-2zM279 127h2v2h-2zM281 127h2v2h-2zM283 127h2v2h-2zM287 127h2v2h-2zM265 129h2v2h-2zM277 129h2v2h-2zM285 129h2v2h-2zM259 131h2v2h-2zM267 131h2v2h-2zM269 131h2v2h-2zM271 131h2v2h-2zM277 131h2v2h-2zM289 131h2v2h-2zM261 133h2v2h-2zM267 133h2v2h-2zM279 133h2v2h-2zM297 133h2v2h-2zM299 133h2v2h-2zM273 135h2v2h-2zM291 135h2v2h-2zM293 135h2v2h-2zM297 135h2v2h-2zM259 137h2v2h-2zM261 137h2v2h-2zM275 137h2v2h-2zM293 137h2v2h-2zM297 137h2v2h-2zM257 139h2v2h-2zM259 139h2v2h-2zM297 139h2v2h-2zM253 141h2v2h-2zM263 141h2v2h-2zM291 141h2v2h-2zM299 141h2v2h-2zM251 143h2v2h-2zM253 143h2v2h-2zM255 143h2v2h-2zM263 143h2v2h-2zM267 143h2v2h-2zM293 143h2v2h-2zM299 143h2v2h-2zM301 143h2v2h-2zM251 145h2v2h-2zM263 145h2v2h-2zM269 145h2v2h-2zM275 145h2v2h-2zM277 145h2v2h-2zM299 145h2v2h-2zM301 145h2v2h-2zM253 147h2v2h-2zM261 147h2v2h-2zM273 147h2v2h-2zM299 147h2v2h-2zM303 147h2v2h-2zM305 147h2v2h-2zM251 149h2v2h-2zM255 149h2v2h-2zM277 149h2v2h-2zM297 149h2v2h-2zM299 149h2v2h-2zM301 149h2v2h-2zM303 149h2v2h-2zM251 151h2v2h-2zM261 151h2v2h-2zM267 151h2v2h-2zM295 151h2v2h-2zM297 151h2v2h-2zM303 151h2v2h-2zM249 153h2v2h-2zM253 153h2v2h-2zM255 153h2v2h-2zM297 153h2v2h-2zM301 153h2v2h-2zM245 155h2v2h-2zM255 155h2v2h-2zM257 155h2v2h-2zM263 155h2v2h-2zM299 155h2v2h-2zM303 155h2v2h-2zM249 157h2v2h-2zM257 157h2v2h-2zM295 157h2v2h-2zM303 157h2v2h-2zM253 159h2v2h-2zM257 159h2v2h-2zM261 159h2v2h-2zM305 159h2v2h-2zM249 161h2v2h-2zM251 161h2v2h-2zM285 161h2v2h-2zM297 161h2v2h-2zM303 161h2v2h-2zM249 165h2v2h-2zM253 165h2v2h-2zM255 165h2v2h-2zM261 165h2v2h-2zM283 165h2v2h-2zM245 167h2v2h-2zM291 167h2v2h-2zM293 167h2v2h-2zM297 167h2v2h-2zM299 167h2v2h-2zM305 167h2v2h-2zM245 169h2v2h-2zM295 169h2v2h-2zM303 169h2v2h-2zM305 169h2v2h-2zM307 169h2v2h-2zM241 171h2v2h-2zM245 171h2v2h-2zM247 171h2v2h-2zM253 171h2v2h-2zM257 171h2v2h-2zM273 171h2v2h-2zM285 171h2v2h-2zM301 171h2v2h-2zM303 171h2v2h-2zM307 171h2v2h-2zM241 173h2v2h-2zM243 173h2v2h-2zM245 173h2v2h-2zM247 173h2v2h-2zM249 173h2v2h-2zM283 173h2v2h-2zM301 173h2v2h-2zM303 173h2v2h-2zM305 173h2v2h-2zM307 173h2v2h-2zM245 175h2v2h-2zM255 175h2v2h-2zM297 175h2v2h-2zM245 177h2v2h-2zM249 177h2v2h-2zM305 177h2v2h-2zM241 179h2v2h-2zM269 179h2v2h-2zM293 179h2v2h-2zM301 179h2v2h-2zM307 179h2v2h-2zM241 181h2v2h-2zM257 181h2v2h-2zM265 181h2v2h-2zM301 181h2v2h-2zM239 183h2v2h-2zM249 183h2v2h-2zM297 183h2v2h-2zM301 183h2v2h-2zM245 185h2v2h-2zM247 185h2v2h-2zM297 185h2v2h-2zM307 185h2v2h-2zM249 187h2v2h-2zM297 187h2v2h-2zM301 187h2v2h-2zM303 187h2v2h-2zM245 189h2v2h-2zM301 189h2v2h-2zM305 189h2v2h-2zM307 189h2v2h-2zM301 191h2v2h-2zM241 193h2v2h-2zM287 193h2v2h-2zM295 193h2v2h-2zM307 193h2v2h-2zM239 195h2v2h-2zM247 195h2v2h-2zM287 195h2v2h-2zM301 195h2v2h-2zM239 197h2v2h-2zM241 197h2v2h-2zM277 197h2v2h-2zM281 197h2v2h-2zM295 197h2v2h-2zM297 197h2v2h-2zM305 197h2v2h-2zM241 199h2v2h-2zM289 199h2v2h-2zM305 199h2v2h-2zM237 203h2v2h-2zM241 203h2v2h-2zM243 203h2v2h-2zM259 203h2v2h-2zM301 203h2v2h-2zM303 203h2v2h-2zM241 205h2v2h-2zM247 205h2v2h-2zM301 205h2v2h-2zM303 205h2v2h-2zM237 207h2v2h-2zM239 207h2v2h-2zM245 207h2v2h-2zM287 207h2v2h-2zM299 207h2v2h-2zM303 207h2v2h-2zM241 209h2v2h-2zM295 209h2v2h-2zM297 209h2v2h-2zM305 209h2v2h-2zM241 211h2v2h-2zM251 211h2v2h-2zM285 211h2v2h-2zM307 211h2v2h-2zM237 213h2v2h-2zM241 213h2v2h-2zM299 213h2v2h-2zM303 213h2v2h-2zM239 215h2v2h-2zM241 215h2v2h-2zM247 215h2v2h-2zM249 215h2v2h-2zM297 215h2v2h-2zM305 215h2v2h-2zM239 217h2v2h-2zM247 217h2v2h-2zM289 217h2v2h-2zM301 217h2v2h-2zM303 217h2v2h-2zM237 219h2v2h-2zM239 219h2v2h-2zM253 219h2v2h-2zM283 219h2v2h-2zM287 219h2v2h-2zM299 219h2v2h-2zM237 221h2v2h-2zM241 221h2v2h-2zM297 221h2v2h-2zM301 221h2v2h-2zM237 223h2v2h-2zM247 223h2v2h-2zM281 223h2v2h-2zM301 223h2v2h-2zM235 225h2v2h-2zM247 225h2v2h-2zM291 225h2v2h-2zM299 225h2v2h-2zM303 225h2v2h-2zM237 227h2v2h-2zM239 227h2v2h-2zM241 227h2v2h-2zM287 227h2v2h-2zM299 227h2v2h-2zM277 229h2v2h-2zM283 229h2v2h-2zM299 229h2v2h-2zM239 231h2v2h-2zM249 231h2v2h-2zM263 231h2v2h-2zM301 231h2v2h-2zM243 233h2v2h-2zM297 233h2v2h-2zM301 233h2v2h-2zM305 233h2v2h-2zM235 235h2v2h-2zM297 235h2v2h-2zM299 235h2v2h-2zM301 235h2v2h-2zM303 235h2v2h-2zM237 237h2v2h-2zM239 237h2v2h-2zM237 239h2v2h-2zM261 239h2v2h-2zM263 239h2v2h-2zM295 239h2v2h-2zM297 239h2v2h-2zM303 239h2v2h-2zM237 241h2v2h-2zM239 241h2v2h-2zM291 241h2v2h-2zM237 243h2v2h-2zM295 243h2v2h-2zM297 243h2v2h-2zM301 243h2v2h-2zM235 245h2v2h-2zM275 245h2v2h-2zM289 245h2v2h-2zM303 245h2v2h-2zM245 247h2v2h-2zM269 247h2v2h-2zM297 247h2v2h-2zM247 249h2v2h-2zM271 249h2v2h-2zM279 249h2v2h-2zM287 249h2v2h-2zM295 249h2v2h-2zM297 249h2v2h-2zM241 251h2v2h-2zM285 251h2v2h-2zM291 251h2v2h-2zM299 251h2v2h-2zM233 253h2v2h-2zM235 253h2v2h-2zM249 253h2v2h-2zM293 253h2v2h-2zM295 253h2v2h-2zM239 255h2v2h-2zM241 255h2v2h-2zM293 255h2v2h-2zM297 255h2v2h-2zM241 257h2v2h-2zM295 257h2v2h-2zM297 257h2v2h-2zM237 259h2v2h-2zM251 259h2v2h-2zM291 259h2v2h-2zM295 259h2v2h-2zM237 261h2v2h-2zM239 261h2v2h-2zM259 261h2v2h-2zM291 261h2v2h-2zM237 263h2v2h-2zM239 263h2v2h-2zM241 263h2v2h-2zM243 263h2v2h-2zM281 263h2v2h-2zM283 263h2v2h-2zM295 263h2v2h-2zM251 265h2v2h-2zM289 265h2v2h-2zM291 265h2v2h-2zM295 265h2v2h-2zM237 267h2v2h-2zM253 267h2v2h-2zM239 269h2v2h-2zM257 269h2v2h-2zM291 269h2v2h-2zM295 269h2v2h-2zM241 271h2v2h-2zM247 271h2v2h-2zM289 271h2v2h-2zM237 273h2v2h-2zM267 273h2v2h-2zM287 273h2v2h-2zM289 273h2v2h-2zM293 273h2v2h-2zM239 275h2v2h-2zM291 275h2v2h-2zM237 277h2v2h-2zM241 277h2v2h-2zM255 277h2v2h-2zM261 277h2v2h-2zM285 277h2v2h-2zM287 277h2v2h-2zM289 277h2v2h-2zM295 277h2v2h-2zM237 279h2v2h-2zM241 279h2v2h-2zM247 279h2v2h-2zM265 279h2v2h-2zM279 279h2v2h-2zM283 279h2v2h-2zM285 279h2v2h-2zM239 281h2v2h-2zM261 281h2v2h-2zM275 281h2v2h-2zM281 281h2v2h-2zM285 281h2v2h-2zM287 283h2v2h-2zM289 283h2v2h-2zM241 285h2v2h-2zM243 285h2v2h-2zM245 285h2v2h-2zM255 285h2v2h-2zM261 285h2v2h-2zM265 285h2v2h-2zM279 285h2v2h-2zM285 285h2v2h-2zM287 285h2v2h-2zM289 285h2v2h-2zM241 287h2v2h-2zM243 287h2v2h-2zM261 287h2v2h-2zM279 287h2v2h-2zM283 287h2v2h-2zM285 287h2v2h-2zM243 289h2v2h-2zM245 289h2v2h-2zM253 289h2v2h-2zM255 289h2v2h-2zM267 289h2v2h-2zM269 289h2v2h-2zM275 289h2v2h-2zM283 289h2v2h-2zM287 289h2v2h-2zM241 291h2v2h-2zM245 291h2v2h-2zM247 291h2v2h-2zM249 291h2v2h-2zM257 291h2v2h-2zM273 291h2v2h-2zM283 291h2v2h-2zM285 291h2v2h-2zM241 293h2v2h-2zM247 293h2v2h-2zM263 293h2v2h-2zM285 293h2v2h-2zM239 295h2v2h-2zM245 295h2v2h-2zM251 295h2v2h-2zM261 295h2v2h-2zM265 295h2v2h-2zM273 295h2v2h-2zM243 297h2v2h-2zM247 297h2v2h-2zM255 297h2v2h-2zM281 297h2v2h-2zM243 299h2v2h-2zM245 299h2v2h-2zM247 299h2v2h-2zM249 299h2v2h-2zM261 299h2v2h-2zM279 299h2v2h-2zM283 299h2v2h-2zM245 301h2v2h-2zM247 301h2v2h-2zM251 301h2v2h-2zM253 301h2v2h-2zM255 301h2v2h-2zM263 301h2v2h-2zM275 301h2v2h-2zM245 303h2v2h-2zM247 303h2v2h-2zM251 303h2v2h-2zM259 303h2v2h-2zM263 303h2v2h-2zM273 303h2v2h-2zM275 303h2v2h-2zM277 303h2v2h-2zM251 305h2v2h-2zM263 305h2v2h-2zM267 305h2v2h-2zM277 305h2v2h-2zM279 305h2v2h-2zM247 307h2v2h-2zM249 307h2v2h-2zM251 307h2v2h-2zM257 307h2v2h-2zM261 307h2v2h-2zM271 307h2v2h-2zM275 307h2v2h-2zM279 307h2v2h-2zM245 309h2v2h-2zM249 309h2v2h-2zM251 309h2v2h-2zM255 309h2v2h-2zM257 309h2v2h-2zM259 309h2v2h-2zM261 309h2v2h-2zM265 309h2v2h-2zM267 309h2v2h-2zM269 309h2v2h-2zM273 309h2v2h-2zM275 309h2v2h-2zM277 309h2v2h-2zM247 311h2v2h-2zM255 311h2v2h-2zM257 311h2v2h-2zM259 311h2v2h-2zM261 311h2v2h-2zM263 311h2v2h-2zM265 311h2v2h-2zM269 311h2v2h-2zM271 311h2v2h-2zM249 313h2v2h-2zM255 313h2v2h-2zM259 313h2v2h-2zM261 313h2v2h-2zM265 313h2v2h-2zM271 313h2v2h-2zM251 315h2v2h-2zM253 315h2v2h-2zM255 315h2v2h-2zM259 315h2v2h-2zM261 315h2v2h-2zM263 315h2v2h-2zM265 315h2v2h-2zM271 315h2v2h-2zM257 317h2v2h-2zM261 317h2v2h-2zM267 317h2v2h-2zM259 319h2v2h-2zM265 415h2v2h-2zM255 417h2v2h-2zM261 417h2v2h-2zM255 419h2v2h-2zM259 419h2v2h-2zM267 419h2v2h-2zM269 419h2v2h-2zM253 421h2v2h-2zM261 421h2v2h-2zM265 421h2v2h-2zM273 421h2v2h-2zM275 421h2v2h-2zM249 423h2v2h-2zM251 423h2v2h-2zM253 423h2v2h-2zM255 423h2v2h-2zM257 423h2v2h-2zM261 423h2v2h-2zM269 423h2v2h-2zM251 425h2v2h-2zM265 425h2v2h-2zM243 427h2v2h-2zM251 427h2v2h-2zM255 427h2v2h-2zM257 427h2v2h-2zM259 427h2v2h-2zM269 427h2v2h-2zM249 429h2v2h-2zM251 429h2v2h-2zM257 429h2v2h-2zM261 429h2v2h-2zM273 429h2v2h-2zM275 429h2v2h-2zM245 431h2v2h-2zM247 431h2v2h-2zM249 431h2v2h-2zM261 431h2v2h-2zM263 431h2v2h-2zM265 431h2v2h-2zM245 433h2v2h-2zM247 433h2v2h-2zM249 433h2v2h-2zM251 433h2v2h-2zM259 433h2v2h-2zM265 433h2v2h-2zM275 433h2v2h-2zM243 435h2v2h-2zM249 435h2v2h-2zM259 435h2v2h-2zM267 435h2v2h-2zM269 435h2v2h-2zM271 435h2v2h-2zM273 435h2v2h-2zM275 435h2v2h-2zM245 437h2v2h-2zM247 437h2v2h-2zM249 437h2v2h-2zM251 437h2v2h-2zM253 437h2v2h-2zM267 437h2v2h-2zM273 437h2v2h-2zM275 437h2v2h-2zM245 439h2v2h-2zM247 439h2v2h-2zM249 439h2v2h-2zM251 439h2v2h-2zM267 439h2v2h-2zM245 441h2v2h-2zM259 441h2v2h-2zM261 441h2v2h-2zM271 441h2v2h-2zM273 441h2v2h-2zM275 441h2v2h-2zM277 441h2v2h-2zM243 443h2v2h-2zM245 443h2v2h-2zM271 443h2v2h-2zM277 443h2v2h-2zM243 445h2v2h-2zM247 445h2v2h-2zM261 445h2v2h-2zM267 445h2v2h-2zM275 445h2v2h-2zM277 445h2v2h-2zM281 445h2v2h-2zM247 447h2v2h-2zM275 447h2v2h-2zM247 449h2v2h-2zM267 449h2v2h-2zM273 449h2v2h-2zM277 449h2v2h-2zM279 449h2v2h-2zM247 451h2v2h-2zM249 451h2v2h-2zM251 451h2v2h-2zM277 451h2v2h-2zM281 451h2v2h-2zM283 451h2v2h-2zM239 453h2v2h-2zM253 453h2v2h-2zM257 453h2v2h-2zM265 453h2v2h-2zM269 453h2v2h-2zM273 453h2v2h-2zM275 453h2v2h-2zM277 453h2v2h-2zM239 455h2v2h-2zM243 455h2v2h-2zM247 455h2v2h-2zM259 455h2v2h-2zM267 455h2v2h-2zM273 455h2v2h-2zM275 455h2v2h-2zM277 455h2v2h-2zM279 455h2v2h-2zM243 457h2v2h-2zM251 457h2v2h-2zM261 457h2v2h-2zM267 457h2v2h-2zM269 457h2v2h-2zM271 457h2v2h-2zM245 459h2v2h-2zM261 459h2v2h-2zM271 459h2v2h-2zM277 459h2v2h-2zM233 461h2v2h-2zM237 461h2v2h-2zM245 461h2v2h-2zM249 461h2v2h-2zM265 461h2v2h-2zM281 461h2v2h-2zM267 463h2v2h-2zM269 463h2v2h-2zM275 463h2v2h-2zM277 463h2v2h-2zM279 463h2v2h-2zM233 465h2v2h-2zM271 465h2v2h-2zM273 465h2v2h-2zM277 465h2v2h-2zM281 465h2v2h-2zM231 467h2v2h-2zM247 467h2v2h-2zM275 467h2v2h-2zM283 467h2v2h-2zM285 467h2v2h-2zM229 469h2v2h-2zM231 469h2v2h-2zM235 469h2v2h-2zM243 469h2v2h-2zM281 469h2v2h-2zM283 469h2v2h-2zM227 471h2v2h-2zM241 471h2v2h-2zM285 471h2v2h-2zM225 473h2v2h-2zM227 473h2v2h-2zM281 473h2v2h-2zM223 475h2v2h-2zM285 475h2v2h-2zM291 475h2v2h-2zM285 477h2v2h-2zM291 477h2v2h-2zM285 479h2v2h-2zM287 479h2v2h-2zM217 483h2v2h-2zM289 483h2v2h-2zM293 483h2v2h-2zM215 485h2v2h-2zM217 485h2v2h-2zM293 485h2v2h-2zM477 485h2v2h-2zM481 485h2v2h-2zM483 485h2v2h-2zM487 485h2v2h-2zM291 487h2v2h-2zM293 487h2v2h-2zM467 487h2v2h-2zM473 487h2v2h-2zM481 487h2v2h-2zM211 489h2v2h-2zM213 489h2v2h-2zM289 489h2v2h-2zM291 489h2v2h-2zM293 489h2v2h-2zM471 489h2v2h-2zM213 491h2v2h-2zM291 491h2v2h-2zM469 491h2v2h-2zM473 491h2v2h-2zM475 491h2v2h-2zM489 491h2v2h-2zM491 491h2v2h-2zM213 493h2v2h-2zM215 493h2v2h-2zM297 493h2v2h-2zM469 493h2v2h-2zM471 493h2v2h-2zM481 493h2v2h-2zM485 493h2v2h-2zM209 495h2v2h-2zM293 495h2v2h-2zM295 495h2v2h-2zM469 495h2v2h-2zM471 495h2v2h-2zM473 495h2v2h-2zM475 495h2v2h-2zM479 495h2v2h-2zM485 495h2v2h-2zM211 497h2v2h-2zM291 497h2v2h-2zM295 497h2v2h-2zM473 497h2v2h-2zM475 497h2v2h-2zM479 497h2v2h-2zM209 499h2v2h-2zM211 499h2v2h-2zM297 499h2v2h-2zM209 501h2v2h-2zM213 501h2v2h-2zM295 501h2v2h-2zM293 503h2v2h-2zM295 503h2v2h-2zM207 505h2v2h-2zM209 505h2v2h-2zM295 505h2v2h-2zM297 505h2v2h-2zM287 507h2v2h-2zM293 507h2v2h-2zM295 507h2v2h-2zM209 509h2v2h-2zM211 509h2v2h-2zM211 511h2v2h-2zM213 511h2v2h-2zM215 511h2v2h-2zM285 513h2v2h-2zM289 513h2v2h-2z"/>
<path fill="#30d0ff" d="M271 13h2v2h-2zM277 13h2v2h-2zM283 13h2v2h-2zM285 13h2v2h-2zM295 13h2v2h-2zM279 123h2v2h-2zM271 125h2v2h-2zM275 125h2v2h-2zM279 125h2v2h-2zM273 129h2v2h-2zM279 129h2v2h-2zM279 131h2v2h-2zM281 131h2v2h-2zM287 131h2v2h-2zM273 133h2v2h-2zM283 133h2v2h-2zM287 133h2v2h-2zM291 133h2v2h-2zM265 135h2v2h-2zM267 135h2v2h-2zM277 135h2v2h-2zM279 135h2v2h-2zM281 135h2v2h-2zM285 135h2v2h-2zM287 135h2v2h-2zM269 137h2v2h-2zM271 137h2v2h-2zM279 137h2v2h-2zM283 137h2v2h-2zM285 137h2v2h-2zM275 139h2v2h-2zM281 139h2v2h-2zM285 139h2v2h-2zM289 139h2v2h-2zM293 139h2v2h-2zM295 139h2v2h-2zM265 141h2v2h-2zM271 141h2v2h-2zM277 141h2v2h-2zM279 141h2v2h-2zM285 141h2v2h-2zM287 141h2v2h-2zM261 143h2v2h-2zM265 143h2v2h-2zM271 143h2v2h-2zM273 143h2v2h-2zM281 143h2v2h-2zM255 145h2v2h-2zM283 145h2v2h-2zM285 145h2v2h-2zM287 145h2v2h-2zM295 145h2v2h-2zM255 147h2v2h-2zM265 147h2v2h-2zM277 147h2v2h-2zM279 147h2v2h-2zM283 147h2v2h-2zM293 147h2v2h-2zM261 149h2v2h-2zM267 149h2v2h-2zM271 149h2v2h-2zM279 149h2v2h-2zM283 149h2v2h-2zM287 149h2v2h-2zM289 149h2v2h-2zM295 149h2v2h-2zM257 151h2v2h-2zM263 151h2v2h-2zM275 151h2v2h-2zM281 151h2v2h-2zM285 151h2v2h-2zM287 151h2v2h-2zM289 151h2v2h-2zM291 151h2v2h-2zM293 151h2v2h-2zM257 153h2v2h-2zM261 153h2v2h-2zM263 153h2v2h-2zM273 153h2v2h-2zM279 153h2v2h-2zM281 153h2v2h-2zM285 153h2v2h-2zM289 153h2v2h-2zM299 153h2v2h-2zM259 155h2v2h-2zM271 155h2v2h-2zM273 155h2v2h-2zM275 155h2v2h-2zM283 155h2v2h-2zM293 155h2v2h-2zM295 155h2v2h-2zM255 157h2v2h-2zM269 157h2v2h-2zM275 157h2v2h-2zM281 157h2v2h-2zM285 157h2v2h-2zM289 157h2v2h-2zM291 157h2v2h-2zM293 157h2v2h-2zM259 159h2v2h-2zM265 159h2v2h-2zM267 159h2v2h-2zM269 159h2v2h-2zM275 159h2v2h-2zM279 159h2v2h-2zM285 159h2v2h-2zM289 159h2v2h-2zM299 159h2v2h-2zM253 161h2v2h-2zM263 161h2v2h-2zM273 161h2v2h-2zM277 161h2v2h-2zM291 161h2v2h-2zM295 161h2v2h-2zM251 163h2v2h-2zM257 163h2v2h-2zM263 163h2v2h-2zM271 163h2v2h-2zM281 163h2v2h-2zM291 163h2v2h-2zM293 163h2v2h-2zM295 163h2v2h-2zM259 165h2v2h-2zM267 165h2v2h-2zM273 165h2v2h-2zM287 165h2v2h-2zM289 165h2v2h-2zM291 165h2v2h-2zM295 165h2v2h-2zM297 165h2v2h-2zM251 167h2v2h-2zM253 167h2v2h-2zM255 167h2v2h-2zM261 167h2v2h-2zM281 167h2v2h-2zM283 167h2v2h-2zM289 167h2v2h-2zM295 167h2v2h-2zM249 169h2v2h-2zM255 169h2v2h-2zM261 169h2v2h-2zM283 169h2v2h-2zM285 169h2v2h-2zM287 169h2v2h-2zM289 169h2v2h-2zM291 169h2v2h-2zM293 169h2v2h-2zM297 169h2v2h-2zM249 171h2v2h-2zM277 171h2v2h-2zM289 171h2v2h-2zM291 171h2v2h-2zM293 171h2v2h-2zM295 171h2v2h-2zM297 171h2v2h-2zM299 171h2v2h-2zM251 173h2v2h-2zM253 173h2v2h-2zM257 173h2v2h-2zM285 173h2v2h-2zM289 173h2v2h-2zM291 173h2v2h-2zM293 173h2v2h-2zM297 173h2v2h-2zM251 175h2v2h-2zM253 175h2v2h-2zM259 175h2v2h-2zM261 175h2v2h-2zM287 175h2v2h-2zM291 175h2v2h-2zM295 175h2v2h-2zM299 175h2v2h-2zM253 177h2v2h-2zM255 177h2v2h-2zM261 177h2v2h-2zM267 177h2v2h-2zM285 177h2v2h-2zM303 177h2v2h-2zM251 179h2v2h-2zM277 179h2v2h-2zM281 179h2v2h-2zM291 179h2v2h-2zM295 179h2v2h-2zM249 181h2v2h-2zM251 181h2v2h-2zM285 181h2v2h-2zM291 181h2v2h-2zM295 181h2v2h-2zM297 181h2v2h-2zM299 181h2v2h-2zM247 183h2v2h-2zM251 183h2v2h-2zM253 183h2v2h-2zM255 183h2v2h-2zM283 183h2v2h-2zM299 183h2v2h-2zM249 185h2v2h-2zM281 185h2v2h-2zM289 185h2v2h-2zM293 185h2v2h-2zM247 187h2v2h-2zM251 187h2v2h-2zM253 187h2v2h-2zM259 187h2v2h-2zM279 187h2v2h-2zM291 187h2v2h-2zM293 187h2v2h-2zM299 187h2v2h-2zM247 189h2v2h-2zM249 189h2v2h-2zM251 189h2v2h-2zM289 189h2v2h-2zM291 189h2v2h-2zM293 189h2v2h-2zM247 191h2v2h-2zM253 191h2v2h-2zM257 191h2v2h-2zM263 191h2v2h-2zM287 191h2v2h-2zM293 191h2v2h-2zM297 191h2v2h-2zM249 193h2v2h-2zM253 193h2v2h-2zM263 193h2v2h-2zM291 193h2v2h-2zM293 193h2v2h-2zM297 193h2v2h-2zM299 193h2v2h-2zM301 193h2v2h-2zM245 195h2v2h-2zM249 195h2v2h-2zM293 195h2v2h-2zM297 195h2v2h-2zM299 195h2v2h-2zM303 195h2v2h-2zM243 197h2v2h-2zM247 197h2v2h-2zM249 197h2v2h-2zM275 197h2v2h-2zM299 197h2v2h-2zM301 197h2v2h-2zM245 199h2v2h-2zM249 199h2v2h-2zM253 199h2v2h-2zM293 199h2v2h-2zM295 199h2v2h-2zM297 199h2v2h-2zM247 201h2v2h-2zM249 201h2v2h-2zM253 201h2v2h-2zM257 201h2v2h-2zM265 201h2v2h-2zM291 201h2v2h-2zM295 201h2v2h-2zM297 201h2v2h-2zM245 203h2v2h-2zM247 203h2v2h-2zM249 203h2v2h-2zM293 203h2v2h-2zM297 203h2v2h-2zM299 203h2v2h-2zM243 205h2v2h-2zM257 205h2v2h-2zM293 205h2v2h-2zM295 205h2v2h-2zM297 205h2v2h-2zM249 207h2v2h-2zM285 207h2v2h-2zM289 207h2v2h-2zM291 207h2v2h-2zM293 207h2v2h-2zM295 207h2v2h-2zM297 207h2v2h-2zM243 209h2v2h-2zM245 209h2v2h-2zM247 209h2v2h-2zM263 209h2v2h-2zM293 209h2v2h-2zM243 211h2v2h-2zM247 211h2v2h-2zM249 211h2v2h-2zM287 211h2v2h-2zM289 211h2v2h-2zM291 211h2v2h-2zM293 211h2v2h-2zM297 211h2v2h-2zM243 213h2v2h-2zM245 213h2v2h-2zM247 213h2v2h-2zM249 213h2v2h-2zM251 213h2v2h-2zM297 213h2v2h-2zM243 215h2v2h-2zM275 215h2v2h-2zM295 215h2v2h-2zM299 215h2v2h-2zM243 217h2v2h-2zM249 217h2v2h-2zM267 217h2v2h-2zM297 217h2v2h-2zM241 219h2v2h-2zM243 219h2v2h-2zM247 219h2v2h-2zM255 219h2v2h-2zM239 221h2v2h-2zM243 221h2v2h-2zM245 221h2v2h-2zM247 221h2v2h-2zM293 221h2v2h-2zM243 223h2v2h-2zM245 223h2v2h-2zM289 223h2v2h-2zM291 223h2v2h-2zM293 223h2v2h-2zM299 223h2v2h-2zM283 225h2v2h-2zM285 225h2v2h-2zM289 225h2v2h-2zM295 225h2v2h-2zM245 227h2v2h-2zM291 227h2v2h-2zM293 227h2v2h-2zM297 227h2v2h-2zM245 229h2v2h-2zM247 229h2v2h-2zM253 229h2v2h-2zM291 229h2v2h-2zM295 229h2v2h-2zM297 229h2v2h-2zM243 231h2v2h-2zM245 231h2v2h-2zM287 231h2v2h-2zM289 231h2v2h-2zM291 231h2v2h-2zM299 231h2v2h-2zM241 233h2v2h-2zM281 233h2v2h-2zM293 233h2v2h-2zM241 235h2v2h-2zM251 235h2v2h-2zM253 235h2v2h-2zM287 235h2v2h-2zM289 235h2v2h-2zM291 235h2v2h-2zM293 235h2v2h-2zM241 237h2v2h-2zM243 237h2v2h-2zM245 237h2v2h-2zM247 237h2v2h-2zM287 237h2v2h-2zM291 237h2v2h-2zM297 237h2v2h-2zM241 239h2v2h-2zM243 239h2v2h-2zM245 239h2v2h-2zM247 239h2v2h-2zM249 239h2v2h-2zM283 239h2v2h-2zM289 239h2v2h-2zM243 241h2v2h-2zM247 241h2v2h-2zM287 241h2v2h-2zM289 241h2v2h-2zM295 241h2v2h-2zM283 243h2v2h-2zM293 243h2v2h-2zM243 245h2v2h-2zM253 245h2v2h-2zM255 245h2v2h-2zM285 245h2v2h-2zM291 245h2v2h-2zM293 245h2v2h-2zM297 245h2v2h-2zM243 247h2v2h-2zM255 247h2v2h-2zM277 247h2v2h-2zM239 249h2v2h-2zM243 249h2v2h-2zM261 249h2v2h-2zM277 249h2v2h-2zM281 249h2v2h-2zM283 249h2v2h-2zM289 249h2v2h-2zM293 249h2v2h-2zM245 251h2v2h-2zM251 251h2v2h-2zM253 251h2v2h-2zM277 251h2v2h-2zM281 251h2v2h-2zM289 251h2v2h-2zM293 251h2v2h-2zM239 253h2v2h-2zM241 253h2v2h-2zM245 253h2v2h-2zM247 253h2v2h-2zM283 253h2v2h-2zM285 253h2v2h-2zM291 253h2v2h-2zM245 255h2v2h-2zM249 255h2v2h-2zM283 255h2v2h-2zM285 255h2v2h-2zM287 255h2v2h-2zM247 257h2v2h-2zM283 257h2v2h-2zM287 257h2v2h-2zM289 257h2v2h-2zM293 257h2v2h-2zM253 259h2v2h-2zM263 259h2v2h-2zM287 259h2v2h-2zM289 259h2v2h-2zM293 259h2v2h-2zM241 261h2v2h-2zM245 261h2v2h-2zM247 261h2v2h-2zM249 261h2v2h-2zM283 261h2v2h-2zM287 261h2v2h-2zM289 261h2v2h-2zM293 261h2v2h-2zM249 263h2v2h-2zM255 263h2v2h-2zM291 263h2v2h-2zM241 265h2v2h-2zM243 265h2v2h-2zM245 265h2v2h-2zM279 265h2v2h-2zM281 265h2v2h-2zM247 267h2v2h-2zM251 267h2v2h-2zM257 267h2v2h-2zM283 267h2v2h-2zM285 267h2v2h-2zM243 269h2v2h-2zM247 269h2v2h-2zM267 269h2v2h-2zM283 269h2v2h-2zM287 269h2v2h-2zM245 271h2v2h-2zM257 271h2v2h-2zM279 271h2v2h-2zM281 271h2v2h-2zM283 271h2v2h-2zM243 273h2v2h-2zM245 273h2v2h-2zM247 273h2v2h-2zM255 273h2v2h-2zM279 273h2v2h-2zM283 273h2v2h-2zM241 275h2v2h-2zM243 275h2v2h-2zM247 275h2v2h-2zM253 275h2v2h-2zM261 275h2v2h-2zM273 275h2v2h-2zM283 275h2v2h-2zM287 275h2v2h-2zM289 275h2v2h-2zM243 277h2v2h-2zM245 277h2v2h-2zM247 277h2v2h-2zM249 277h2v2h-2zM251 277h2v2h-2zM257 277h2v2h-2zM263 277h2v2h-2zM265 277h2v2h-2zM271 277h2v2h-2zM275 277h2v2h-2zM279 277h2v2h-2zM251 279h2v2h-2zM259 279h2v2h-2zM281 279h2v2h-2zM287 279h2v2h-2zM241 281h2v2h-2zM245 281h2v2h-2zM247 281h2v2h-2zM249 281h2v2h-2zM251 281h2v2h-2zM269 281h2v2h-2zM271 281h2v2h-2zM277 281h2v2h-2zM279 281h2v2h-2zM283 281h2v2h-2zM287 281h2v2h-2zM241 283h2v2h-2zM249 283h2v2h-2zM255 283h2v2h-2zM261 283h2v2h-2zM265 283h2v2h-2zM267 283h2v2h-2zM269 283h2v2h-2zM277 283h2v2h-2zM279 283h2v2h-2zM281 283h2v2h-2zM285 283h2v2h-2zM249 285h2v2h-2zM251 285h2v2h-2zM253 285h2v2h-2zM257 285h2v2h-2zM259 285h2v2h-2zM263 285h2v2h-2zM267 285h2v2h-2zM269 285h2v2h-2zM271 285h2v2h-2zM273 285h2v2h-2zM275 285h2v2h-2zM281 285h2v2h-2zM249 287h2v2h-2zM255 287h2v2h-2zM257 287h2v2h-2zM263 287h2v2h-2zM275 287h2v2h-2zM287 287h2v2h-2zM257 289h2v2h-2zM261 289h2v2h-2zM271 289h2v2h-2zM261 291h2v2h-2zM271 291h2v2h-2zM277 291h2v2h-2zM243 293h2v2h-2zM249 293h2v2h-2zM251 293h2v2h-2zM255 293h2v2h-2zM257 293h2v2h-2zM259 293h2v2h-2zM267 293h2v2h-2zM269 293h2v2h-2zM275 293h2v2h-2zM247 295h2v2h-2zM253 295h2v2h-2zM257 295h2v2h-2zM263 295h2v2h-2zM271 295h2v2h-2zM251 297h2v2h-2zM253 297h2v2h-2zM263 297h2v2h-2zM265 297h2v2h-2zM267 297h2v2h-2zM269 297h2v2h-2zM271 297h2v2h-2zM273 297h2v2h-2zM275 297h2v2h-2zM251 299h2v2h-2zM259 299h2v2h-2zM267 299h2v2h-2zM273 299h2v2h-2zM259 301h2v2h-2zM261 301h2v2h-2zM265 301h2v2h-2zM271 301h2v2h-2zM265 303h2v2h-2zM267 303h2v2h-2zM253 305h2v2h-2zM255 305h2v2h-2zM259 305h2v2h-2zM261 305h2v2h-2zM269 305h2v2h-2zM255 307h2v2h-2zM273 307h2v2h-2zM253 425h2v2h-2zM257 425h2v2h-2zM267 427h2v2h-2zM263 429h2v2h-2zM251 431h2v2h-2zM255 431h2v2h-2zM259 431h2v2h-2zM255 433h2v2h-2zM261 433h2v2h-2zM263 433h2v2h-2zM253 435h2v2h-2zM255 435h2v2h-2zM261 435h2v2h-2zM263 435h2v2h-2zM265 435h2v2h-2zM255 437h2v2h-2zM257 437h2v2h-2zM259 437h2v2h-2zM269 437h2v2h-2zM257 439h2v2h-2zM259 439h2v2h-2zM261 439h2v2h-2zM263 439h2v2h-2zM265 439h2v2h-2zM269 439h2v2h-2zM251 441h2v2h-2zM253 441h2v2h-2zM255 441h2v2h-2zM263 441h2v2h-2zM265 441h2v2h-2zM267 441h2v2h-2zM251 443h2v2h-2zM253 443h2v2h-2zM259 443h2v2h-2zM261 443h2v2h-2zM267 443h2v2h-2zM269 443h2v2h-2zM249 445h2v2h-2zM251 445h2v2h-2zM253 445h2v2h-2zM255 445h2v2h-2zM257 445h2v2h-2zM259 445h2v2h-2zM263 445h2v2h-2zM265 445h2v2h-2zM269 445h2v2h-2zM271 445h2v2h-2zM273 445h2v2h-2zM251 447h2v2h-2zM255 447h2v2h-2zM261 447h2v2h-2zM267 447h2v2h-2zM269 447h2v2h-2zM253 449h2v2h-2zM255 449h2v2h-2zM257 449h2v2h-2zM263 449h2v2h-2zM253 451h2v2h-2zM257 451h2v2h-2zM259 451h2v2h-2zM265 451h2v2h-2zM267 451h2v2h-2zM269 451h2v2h-2zM273 451h2v2h-2zM247 453h2v2h-2zM251 453h2v2h-2zM255 453h2v2h-2zM259 453h2v2h-2zM261 453h2v2h-2zM263 453h2v2h-2zM267 453h2v2h-2zM271 453h2v2h-2zM249 455h2v2h-2zM251 455h2v2h-2zM253 455h2v2h-2zM255 455h2v2h-2zM257 455h2v2h-2zM261 455h2v2h-2zM263 455h2v2h-2zM265 455h2v2h-2zM245 457h2v2h-2zM247 457h2v2h-2zM255 457h2v2h-2zM259 457h2v2h-2zM243 459h2v2h-2zM249 459h2v2h-2zM251 459h2v2h-2zM257 459h2v2h-2zM267 459h2v2h-2zM269 459h2v2h-2zM273 459h2v2h-2zM275 459h2v2h-2zM247 461h2v2h-2zM263 461h2v2h-2zM267 461h2v2h-2zM269 461h2v2h-2zM273 461h2v2h-2zM237 463h2v2h-2zM241 463h2v2h-2zM243 463h2v2h-2zM249 463h2v2h-2zM251 463h2v2h-2zM271 463h2v2h-2zM273 463h2v2h-2zM237 465h2v2h-2zM239 465h2v2h-2zM235 467h2v2h-2zM237 467h2v2h-2zM239 467h2v2h-2zM271 467h2v2h-2zM273 467h2v2h-2zM277 467h2v2h-2zM281 467h2v2h-2zM233 469h2v2h-2zM269 469h2v2h-2zM273 469h2v2h-2zM275 469h2v2h-2zM279 469h2v2h-2zM229 471h2v2h-2zM231 471h2v2h-2zM233 471h2v2h-2zM235 471h2v2h-2zM275 471h2v2h-2zM277 471h2v2h-2zM229 473h2v2h-2zM233 473h2v2h-2zM275 473h2v2h-2zM277 473h2v2h-2zM279 473h2v2h-2zM227 475h2v2h-2zM229 475h2v2h-2zM283 475h2v2h-2zM221 477h2v2h-2zM225 477h2v2h-2zM227 477h2v2h-2zM279 477h2v2h-2zM283 477h2v2h-2zM231 479h2v2h-2zM219 481h2v2h-2zM223 481h2v2h-2zM279 481h2v2h-2zM285 481h2v2h-2zM287 481h2v2h-2zM219 483h2v2h-2zM221 483h2v2h-2zM281 483h2v2h-2zM287 483h2v2h-2zM219 485h2v2h-2zM221 485h2v2h-2zM287 485h2v2h-2zM215 487h2v2h-2zM217 487h2v2h-2zM219 487h2v2h-2zM289 487h2v2h-2zM475 487h2v2h-2zM479 487h2v2h-2zM483 487h2v2h-2zM215 489h2v2h-2zM285 489h2v2h-2zM473 489h2v2h-2zM475 489h2v2h-2zM477 489h2v2h-2zM481 489h2v2h-2zM485 489h2v2h-2zM215 491h2v2h-2zM285 491h2v2h-2zM477 491h2v2h-2zM481 491h2v2h-2zM483 491h2v2h-2zM473 493h2v2h-2zM475 493h2v2h-2zM477 493h2v2h-2zM483 493h2v2h-2zM487 493h2v2h-2zM217 495h2v2h-2zM287 495h2v2h-2zM477 495h2v2h-2zM219 497h2v2h-2zM289 497h2v2h-2zM213 499h2v2h-2zM293 499h2v2h-2zM211 501h2v2h-2zM293 501h2v2h-2zM211 503h2v2h-2zM289 503h2v2h-2zM291 503h2v2h-2zM211 505h2v2h-2zM287 505h2v2h-2zM289 505h2v2h-2zM289 507h2v2h-2zM289 509h2v2h-2zM291 509h2v2h-2zM287 511h2v2h-2zM289 511h2v2h-2zM215 513h2v2h-2zM215 515h2v2h-2zM283 515h2v2h-2zM285 515h2v2h-2z"/>
<path fill="#30f0c0" d="M281 13h2v2h-2zM287 13h2v2h-2zM289 13h2v2h-2zM293 13h2v2h-2zM297 13h2v2h-2zM301 13h2v2h-2zM309 13h2v2h-2zM279 139h2v2h-2zM283 139h2v2h-2zM281 141h2v2h-2zM277 143h2v2h-2zM269 147h2v2h-2zM275 147h2v2h-2zM291 147h2v2h-2zM275 149h2v2h-2zM285 149h2v2h-2zM269 151h2v2h-2zM271 151h2v2h-2zM283 151h2v2h-2zM265 153h2v2h-2zM269 153h2v2h-2zM277 153h2v2h-2zM283 153h2v2h-2zM287 153h2v2h-2zM261 155h2v2h-2zM269 155h2v2h-2zM279 155h2v2h-2zM265 157h2v2h-2zM271 157h2v2h-2zM277 157h2v2h-2zM283 157h2v2h-2zM287 157h2v2h-2zM271 159h2v2h-2zM273 159h2v2h-2zM277 159h2v2h-2zM287 159h2v2h-2zM293 159h2v2h-2zM261 161h2v2h-2zM267 161h2v2h-2zM269 161h2v2h-2zM275 161h2v2h-2zM281 161h2v2h-2zM259 163h2v2h-2zM265 163h2v2h-2zM267 163h2v2h-2zM269 163h2v2h-2zM273 163h2v2h-2zM279 163h2v2h-2zM287 163h2v2h-2zM265 165h2v2h-2zM277 165h2v2h-2zM281 165h2v2h-2zM257 167h2v2h-2zM259 167h2v2h-2zM263 167h2v2h-2zM267 167h2v2h-2zM271 167h2v2h-2zM273 167h2v2h-2zM275 167h2v2h-2zM277 167h2v2h-2zM285 167h2v2h-2zM287 167h2v2h-2zM263 169h2v2h-2zM265 169h2v2h-2zM267 169h2v2h-2zM269 169h2v2h-2zM273 169h2v2h-2zM279 169h2v2h-2zM255 171h2v2h-2zM259 171h2v2h-2zM261 171h2v2h-2zM263 171h2v2h-2zM269 171h2v2h-2zM279 171h2v2h-2zM283 171h2v2h-2zM287 171h2v2h-2zM259 173h2v2h-2zM263 173h2v2h-2zM265 173h2v2h-2zM267 173h2v2h-2zM271 173h2v2h-2zM275 173h2v2h-2zM277 173h2v2h-2zM281 173h2v2h-2zM287 173h2v2h-2zM257 175h2v2h-2zM269 175h2v2h-2zM277 175h2v2h-2zM281 175h2v2h-2zM283 175h2v2h-2zM251 177h2v2h-2zM257 177h2v2h-2zM259 177h2v2h-2zM263 177h2v2h-2zM265 177h2v2h-2zM271 177h2v2h-2zM273 177h2v2h-2zM277 177h2v2h-2zM279 177h2v2h-2zM281 177h2v2h-2zM289 177h2v2h-2zM253 179h2v2h-2zM257 179h2v2h-2zM259 179h2v2h-2zM261 179h2v2h-2zM265 179h2v2h-2zM267 179h2v2h-2zM271 179h2v2h-2zM279 179h2v2h-2zM285 179h2v2h-2zM289 179h2v2h-2zM261 181h2v2h-2zM269 181h2v2h-2zM273 181h2v2h-2zM275 181h2v2h-2zM277 181h2v2h-2zM279 181h2v2h-2zM281 181h2v2h-2zM283 181h2v2h-2zM287 181h2v2h-2zM289 181h2v2h-2zM259 183h2v2h-2zM263 183h2v2h-2zM265 183h2v2h-2zM267 183h2v2h-2zM279 183h2v2h-2zM287 183h2v2h-2zM289 183h2v2h-2zM291 183h2v2h-2zM255 185h2v2h-2zM257 185h2v2h-2zM259 185h2v2h-2zM261 185h2v2h-2zM265 185h2v2h-2zM267 185h2v2h-2zM273 185h2v2h-2zM277 185h2v2h-2zM285 185h2v2h-2zM255 187h2v2h-2zM257 187h2v2h-2zM263 187h2v2h-2zM269 187h2v2h-2zM271 187h2v2h-2zM273 187h2v2h-2zM275 187h2v2h-2zM277 187h2v2h-2zM281 187h2v2h-2zM283 187h2v2h-2zM287 187h2v2h-2zM289 187h2v2h-2zM255 189h2v2h-2zM257 189h2v2h-2zM259 189h2v2h-2zM261 189h2v2h-2zM279 189h2v2h-2zM283 189h2v2h-2zM285 189h2v2h-2zM287 189h2v2h-2zM259 191h2v2h-2zM261 191h2v2h-2zM265 191h2v2h-2zM271 191h2v2h-2zM277 191h2v2h-2zM285 191h2v2h-2zM289 191h2v2h-2zM291 191h2v2h-2zM251 193h2v2h-2zM257 193h2v2h-2zM259 193h2v2h-2zM261 193h2v2h-2zM271 193h2v2h-2zM277 193h2v2h-2zM279 193h2v2h-2zM281 193h2v2h-2zM285 193h2v2h-2zM289 193h2v2h-2zM253 195h2v2h-2zM255 195h2v2h-2zM257 195h2v2h-2zM267 195h2v2h-2zM271 195h2v2h-2zM273 195h2v2h-2zM277 195h2v2h-2zM281 195h2v2h-2zM285 195h2v2h-2zM291 195h2v2h-2zM251 197h2v2h-2zM253 197h2v2h-2zM255 197h2v2h-2zM257 197h2v2h-2zM259 197h2v2h-2zM265 197h2v2h-2zM271 197h2v2h-2zM279 197h2v2h-2zM289 197h2v2h-2zM247 199h2v2h-2zM251 199h2v2h-2zM255 199h2v2h-2zM257 199h2v2h-2zM259 199h2v2h-2zM261 199h2v2h-2zM271 199h2v2h-2zM275 199h2v2h-2zM281 199h2v2h-2zM285 199h2v2h-2zM287 199h2v2h-2zM291 199h2v2h-2zM251 201h2v2h-2zM261 201h2v2h-2zM263 201h2v2h-2zM283 201h2v2h-2zM253 203h2v2h-2zM257 203h2v2h-2zM261 203h2v2h-2zM277 203h2v2h-2zM285 203h2v2h-2zM289 203h2v2h-2zM291 203h2v2h-2zM251 205h2v2h-2zM253 205h2v2h-2zM255 205h2v2h-2zM261 205h2v2h-2zM263 205h2v2h-2zM265 205h2v2h-2zM271 205h2v2h-2zM281 205h2v2h-2zM289 205h2v2h-2zM247 207h2v2h-2zM251 207h2v2h-2zM255 207h2v2h-2zM257 207h2v2h-2zM259 207h2v2h-2zM263 207h2v2h-2zM265 207h2v2h-2zM269 207h2v2h-2zM281 207h2v2h-2zM283 207h2v2h-2zM249 209h2v2h-2zM253 209h2v2h-2zM255 209h2v2h-2zM259 209h2v2h-2zM261 209h2v2h-2zM265 209h2v2h-2zM277 209h2v2h-2zM283 209h2v2h-2zM285 209h2v2h-2zM287 209h2v2h-2zM289 209h2v2h-2zM291 209h2v2h-2zM253 211h2v2h-2zM257 211h2v2h-2zM261 211h2v2h-2zM273 211h2v2h-2zM281 211h2v2h-2zM283 211h2v2h-2zM253 213h2v2h-2zM257 213h2v2h-2zM259 213h2v2h-2zM277 213h2v2h-2zM287 213h2v2h-2zM291 213h2v2h-2zM293 213h2v2h-2zM245 215h2v2h-2zM251 215h2v2h-2zM257 215h2v2h-2zM259 215h2v2h-2zM273 215h2v2h-2zM279 215h2v2h-2zM281 215h2v2h-2zM283 215h2v2h-2zM285 215h2v2h-2zM289 215h2v2h-2zM291 215h2v2h-2zM293 215h2v2h-2zM245 217h2v2h-2zM251 217h2v2h-2zM253 217h2v2h-2zM255 217h2v2h-2zM257 217h2v2h-2zM259 217h2v2h-2zM263 217h2v2h-2zM265 217h2v2h-2zM279 217h2v2h-2zM283 217h2v2h-2zM287 217h2v2h-2zM291 217h2v2h-2zM251 219h2v2h-2zM275 219h2v2h-2zM277 219h2v2h-2zM279 219h2v2h-2zM281 219h2v2h-2zM289 219h2v2h-2zM291 219h2v2h-2zM293 219h2v2h-2zM249 221h2v2h-2zM253 221h2v2h-2zM265 221h2v2h-2zM281 221h2v2h-2zM285 221h2v2h-2zM287 221h2v2h-2zM249 223h2v2h-2zM259 223h2v2h-2zM263 223h2v2h-2zM265 223h2v2h-2zM277 223h2v2h-2zM279 223h2v2h-2zM283 223h2v2h-2zM285 223h2v2h-2zM287 223h2v2h-2zM245 225h2v2h-2zM249 225h2v2h-2zM251 225h2v2h-2zM253 225h2v2h-2zM255 225h2v2h-2zM259 225h2v2h-2zM271 225h2v2h-2zM279 225h2v2h-2zM281 225h2v2h-2zM293 225h2v2h-2zM247 227h2v2h-2zM249 227h2v2h-2zM251 227h2v2h-2zM253 227h2v2h-2zM255 227h2v2h-2zM275 227h2v2h-2zM289 227h2v2h-2zM249 229h2v2h-2zM251 229h2v2h-2zM255 229h2v2h-2zM257 229h2v2h-2zM267 229h2v2h-2zM271 229h2v2h-2zM289 229h2v2h-2zM247 231h2v2h-2zM251 231h2v2h-2zM253 231h2v2h-2zM277 231h2v2h-2zM279 231h2v2h-2zM283 231h2v2h-2zM285 231h2v2h-2zM293 231h2v2h-2zM245 233h2v2h-2zM253 233h2v2h-2zM257 233h2v2h-2zM261 233h2v2h-2zM283 233h2v2h-2zM285 233h2v2h-2zM287 233h2v2h-2zM289 233h2v2h-2zM291 233h2v2h-2zM245 235h2v2h-2zM249 235h2v2h-2zM257 235h2v2h-2zM269 235h2v2h-2zM279 235h2v2h-2zM251 237h2v2h-2zM253 237h2v2h-2zM255 237h2v2h-2zM257 237h2v2h-2zM275 237h2v2h-2zM277 237h2v2h-2zM283 237h2v2h-2zM251 239h2v2h-2zM253 239h2v2h-2zM255 239h2v2h-2zM285 239h2v2h-2zM287 239h2v2h-2zM249 241h2v2h-2zM253 241h2v2h-2zM255 241h2v2h-2zM259 241h2v2h-2zM261 241h2v2h-2zM267 241h2v2h-2zM279 241h2v2h-2zM281 241h2v2h-2zM283 241h2v2h-2zM247 243h2v2h-2zM249 243h2v2h-2zM251 243h2v2h-2zM263 243h2v2h-2zM267 243h2v2h-2zM277 243h2v2h-2zM279 243h2v2h-2zM281 243h2v2h-2zM285 243h2v2h-2zM287 243h2v2h-2zM245 245h2v2h-2zM249 245h2v2h-2zM251 245h2v2h-2zM257 245h2v2h-2zM259 245h2v2h-2zM261 245h2v2h-2zM277 245h2v2h-2zM279 245h2v2h-2zM287 245h2v2h-2zM249 247h2v2h-2zM251 247h2v2h-2zM259 247h2v2h-2zM261 247h2v2h-2zM281 247h2v2h-2zM283 247h2v2h-2zM285 247h2v2h-2zM287 247h2v2h-2zM251 249h2v2h-2zM255 249h2v2h-2zM257 249h2v2h-2zM285 249h2v2h-2zM259 251h2v2h-2zM271 251h2v2h-2zM273 251h2v2h-2zM279 251h2v2h-2zM283 251h2v2h-2zM287 251h2v2h-2zM261 253h2v2h-2zM265 253h2v2h-2zM267 253h2v2h-2zM273 253h2v2h-2zM275 253h2v2h-2zM281 253h2v2h-2zM251 255h2v2h-2zM255 255h2v2h-2zM259 255h2v2h-2zM261 255h2v2h-2zM263 255h2v2h-2zM265 255h2v2h-2zM275 255h2v2h-2zM251 257h2v2h-2zM253 257h2v2h-2zM255 257h2v2h-2zM257 257h2v2h-2zM265 257h2v2h-2zM267 257h2v2h-2zM269 257h2v2h-2zM271 257h2v2h-2zM275 257h2v2h-2zM277 257h2v2h-2zM279 257h2v2h-2zM281 257h2v2h-2zM285 257h2v2h-2zM249 259h2v2h-2zM255 259h2v2h-2zM269 259h2v2h-2zM271 259h2v2h-2zM283 259h2v2h-2zM285 259h2v2h-2zM251 261h2v2h-2zM253 261h2v2h-2zM255 261h2v2h-2zM261 261h2v2h-2zM265 261h2v2h-2zM267 261h2v2h-2zM271 261h2v2h-2zM275 261h2v2h-2zM277 261h2v2h-2zM279 261h2v2h-2zM281 261h2v2h-2zM247 263h2v2h-2zM251 263h2v2h-2zM257 263h2v2h-2zM259 263h2v2h-2zM263 263h2v2h-2zM265 263h2v2h-2zM267 263h2v2h-2zM269 263h2v2h-2zM271 263h2v2h-2zM275 263h2v2h-2zM279 263h2v2h-2zM253 265h2v2h-2zM255 265h2v2h-2zM257 265h2v2h-2zM263 265h2v2h-2zM267 265h2v2h-2zM269 265h2v2h-2zM273 265h2v2h-2zM277 265h2v2h-2zM265 267h2v2h-2zM267 267h2v2h-2zM269 267h2v2h-2zM273 267h2v2h-2zM275 267h2v2h-2zM277 267h2v2h-2zM279 267h2v2h-2zM281 267h2v2h-2zM249 269h2v2h-2zM255 269h2v2h-2zM259 269h2v2h-2zM265 269h2v2h-2zM271 269h2v2h-2zM279 269h2v2h-2zM249 271h2v2h-2zM251 271h2v2h-2zM253 271h2v2h-2zM255 271h2v2h-2zM261 271h2v2h-2zM263 271h2v2h-2zM265 271h2v2h-2zM269 271h2v2h-2zM273 271h2v2h-2zM275 271h2v2h-2zM277 271h2v2h-2zM251 273h2v2h-2zM253 273h2v2h-2zM257 273h2v2h-2zM261 273h2v2h-2zM263 273h2v2h-2zM269 273h2v2h-2zM275 273h2v2h-2zM277 273h2v2h-2zM281 273h2v2h-2zM249 275h2v2h-2zM251 275h2v2h-2zM257 275h2v2h-2zM263 275h2v2h-2zM265 275h2v2h-2zM269 275h2v2h-2zM271 275h2v2h-2zM275 275h2v2h-2zM277 275h2v2h-2zM279 275h2v2h-2zM253 277h2v2h-2zM259 277h2v2h-2zM269 277h2v2h-2zM277 277h2v2h-2zM281 277h2v2h-2zM255 279h2v2h-2zM263 279h2v2h-2zM267 279h2v2h-2zM269 279h2v2h-2zM271 279h2v2h-2zM277 279h2v2h-2zM253 281h2v2h-2zM255 281h2v2h-2zM257 281h2v2h-2zM259 281h2v2h-2zM263 281h2v2h-2zM265 281h2v2h-2zM259 283h2v2h-2zM263 283h2v2h-2zM271 283h2v2h-2zM273 283h2v2h-2zM265 287h2v2h-2zM269 287h2v2h-2zM271 287h2v2h-2zM265 289h2v2h-2zM259 291h2v2h-2zM263 291h2v2h-2zM253 293h2v2h-2zM265 293h2v2h-2zM271 293h2v2h-2zM273 293h2v2h-2zM259 295h2v2h-2zM261 297h2v2h-2zM257 447h2v2h-2zM261 451h2v2h-2zM253 459h2v2h-2zM255 459h2v2h-2zM259 459h2v2h-2zM265 459h2v2h-2zM251 461h2v2h-2zM253 461h2v2h-2zM255 461h2v2h-2zM257 461h2v2h-2zM259 461h2v2h-2zM261 461h2v2h-2zM245 463h2v2h-2zM247 463h2v2h-2zM253 463h2v2h-2zM255 463h2v2h-2zM261 463h2v2h-2zM265 463h2v2h-2zM243 465h2v2h-2zM245 465h2v2h-2zM247 465h2v2h-2zM249 465h2v2h-2zM253 465h2v2h-2zM257 465h2v2h-2zM259 465h2v2h-2zM261 465h2v2h-2zM265 465h2v2h-2zM269 465h2v2h-2zM245 467h2v2h-2zM249 467h2v2h-2zM251 467h2v2h-2zM237 469h2v2h-2zM239 469h2v2h-2zM241 469h2v2h-2zM265 469h2v2h-2zM267 469h2v2h-2zM271 469h2v2h-2zM239 471h2v2h-2zM273 471h2v2h-2zM231 473h2v2h-2zM237 473h2v2h-2zM231 475h2v2h-2zM279 475h2v2h-2zM229 477h2v2h-2zM275 477h2v2h-2zM281 477h2v2h-2zM225 479h2v2h-2zM227 479h2v2h-2zM275 479h2v2h-2zM279 479h2v2h-2zM225 481h2v2h-2zM281 481h2v2h-2zM283 481h2v2h-2zM223 483h2v2h-2zM283 483h2v2h-2zM223 485h2v2h-2zM283 485h2v2h-2zM285 485h2v2h-2zM283 487h2v2h-2zM285 487h2v2h-2zM217 489h2v2h-2zM219 489h2v2h-2zM221 489h2v2h-2zM287 489h2v2h-2zM479 489h2v2h-2zM483 489h2v2h-2zM217 491h2v2h-2zM287 491h2v2h-2zM289 491h2v2h-2zM217 493h2v2h-2zM289 493h2v2h-2zM291 493h2v2h-2zM479 493h2v2h-2zM213 495h2v2h-2zM215 495h2v2h-2zM213 497h2v2h-2zM215 497h2v2h-2zM217 497h2v2h-2zM215 499h2v2h-2zM289 499h2v2h-2zM215 501h2v2h-2zM289 501h2v2h-2zM213 503h2v2h-2zM287 503h2v2h-2zM215 505h2v2h-2zM291 505h2v2h-2zM285 507h2v2h-2zM213 509h2v2h-2zM215 509h2v2h-2zM287 509h2v2h-2zM217 515h2v2h-2z"/>
<path fill="#40ff60" d="M273 157h2v2h-2zM275 165h2v2h-2zM281 169h2v2h-2zM267 171h2v2h-2zM269 173h2v2h-2zM273 173h2v2h-2zM279 173h2v2h-2zM271 175h2v2h-2zM273 175h2v2h-2zM275 175h2v2h-2zM275 177h2v2h-2zM267 181h2v2h-2zM271 181h2v2h-2zM269 183h2v2h-2zM271 183h2v2h-2zM273 183h2v2h-2zM277 183h2v2h-2zM281 183h2v2h-2zM271 185h2v2h-2zM283 185h2v2h-2zM265 187h2v2h-2zM267 187h2v2h-2zM263 189h2v2h-2zM265 189h2v2h-2zM267 189h2v2h-2zM269 189h2v2h-2zM271 189h2v2h-2zM273 189h2v2h-2zM267 191h2v2h-2zM273 191h2v2h-2zM283 191h2v2h-2zM267 193h2v2h-2zM269 193h2v2h-2zM273 193h2v2h-2zM275 193h2v2h-2zM263 195h2v2h-2zM265 195h2v2h-2zM269 195h2v2h-2zM275 195h2v2h-2zM279 195h2v2h-2zM261 197h2v2h-2zM267 197h2v2h-2zM269 197h2v2h-2zM273 197h2v2h-2zM283 197h2v2h-2zM285 197h2v2h-2zM263 199h2v2h-2zM265 199h2v2h-2zM269 199h2v2h-2zM273 199h2v2h-2zM277 199h2v2h-2zM279 199h2v2h-2zM283 199h2v2h-2zM255 201h2v2h-2zM259 201h2v2h-2zM267 201h2v2h-2zM269 201h2v2h-2zM273 201h2v2h-2zM275 201h2v2h-2zM277 201h2v2h-2zM279 201h2v2h-2zM281 201h2v2h-2zM285 201h2v2h-2zM263 203h2v2h-2zM265 203h2v2h-2zM269 203h2v2h-2zM271 203h2v2h-2zM281 203h2v2h-2zM283 203h2v2h-2zM287 203h2v2h-2zM259 205h2v2h-2zM269 205h2v2h-2zM273 205h2v2h-2zM275 205h2v2h-2zM277 205h2v2h-2zM261 207h2v2h-2zM271 207h2v2h-2zM273 207h2v2h-2zM275 207h2v2h-2zM277 207h2v2h-2zM267 209h2v2h-2zM269 209h2v2h-2zM271 209h2v2h-2zM279 209h2v2h-2zM281 209h2v2h-2zM259 211h2v2h-2zM263 211h2v2h-2zM265 211h2v2h-2zM267 211h2v2h-2zM269 211h2v2h-2zM271 211h2v2h-2zM277 211h2v2h-2zM279 211h2v2h-2zM255 213h2v2h-2zM261 213h2v2h-2zM263 213h2v2h-2zM265 213h2v2h-2zM267 213h2v2h-2zM273 213h2v2h-2zM281 213h2v2h-2zM283 213h2v2h-2zM255 215h2v2h-2zM261 215h2v2h-2zM267 215h2v2h-2zM269 215h2v2h-2zM271 215h2v2h-2zM277 215h2v2h-2zM287 215h2v2h-2zM269 217h2v2h-2zM271 217h2v2h-2zM275 217h2v2h-2zM277 217h2v2h-2zM257 219h2v2h-2zM259 219h2v2h-2zM261 219h2v2h-2zM263 219h2v2h-2zM265 219h2v2h-2zM271 219h2v2h-2zM273 219h2v2h-2zM285 219h2v2h-2zM251 221h2v2h-2zM257 221h2v2h-2zM259 221h2v2h-2zM261 221h2v2h-2zM269 221h2v2h-2zM271 221h2v2h-2zM273 221h2v2h-2zM277 221h2v2h-2zM279 221h2v2h-2zM283 221h2v2h-2zM253 223h2v2h-2zM257 223h2v2h-2zM261 223h2v2h-2zM269 223h2v2h-2zM271 223h2v2h-2zM273 223h2v2h-2zM275 223h2v2h-2zM257 225h2v2h-2zM261 225h2v2h-2zM265 225h2v2h-2zM267 225h2v2h-2zM269 225h2v2h-2zM273 225h2v2h-2zM275 225h2v2h-2zM277 225h2v2h-2zM259 227h2v2h-2zM261 227h2v2h-2zM265 227h2v2h-2zM267 227h2v2h-2zM269 227h2v2h-2zM271 227h2v2h-2zM273 227h2v2h-2zM281 227h2v2h-2zM283 227h2v2h-2zM263 229h2v2h-2zM265 229h2v2h-2zM273 229h2v2h-2zM275 229h2v2h-2zM279 229h2v2h-2zM281 229h2v2h-2zM259 231h2v2h-2zM261 231h2v2h-2zM265 231h2v2h-2zM267 231h2v2h-2zM269 231h2v2h-2zM271 231h2v2h-2zM273 231h2v2h-2zM275 231h2v2h-2zM281 231h2v2h-2zM255 233h2v2h-2zM259 233h2v2h-2zM267 233h2v2h-2zM269 233h2v2h-2zM273 233h2v2h-2zM275 233h2v2h-2zM277 233h2v2h-2zM279 233h2v2h-2zM263 235h2v2h-2zM265 235h2v2h-2zM267 235h2v2h-2zM275 235h2v2h-2zM277 235h2v2h-2zM283 235h2v2h-2zM261 237h2v2h-2zM267 237h2v2h-2zM269 237h2v2h-2zM271 237h2v2h-2zM273 237h2v2h-2zM279 237h2v2h-2zM281 237h2v2h-2zM257 239h2v2h-2zM259 239h2v2h-2zM267 239h2v2h-2zM269 239h2v2h-2zM271 239h2v2h-2zM273 239h2v2h-2zM275 239h2v2h-2zM279 239h2v2h-2zM281 239h2v2h-2zM251 241h2v2h-2zM257 241h2v2h-2zM265 241h2v2h-2zM269 241h2v2h-2zM271 241h2v2h-2zM275 241h2v2h-2zM277 241h2v2h-2zM255 243h2v2h-2zM257 243h2v2h-2zM259 243h2v2h-2zM265 243h2v2h-2zM269 243h2v2h-2zM271 243h2v2h-2zM273 243h2v2h-2zM275 243h2v2h-2zM263 245h2v2h-2zM265 245h2v2h-2zM269 245h2v2h-2zM271 245h2v2h-2zM273 245h2v2h-2zM283 245h2v2h-2zM257 247h2v2h-2zM263 247h2v2h-2zM267 247h2v2h-2zM271 247h2v2h-2zM275 247h2v2h-2zM259 249h2v2h-2zM263 249h2v2h-2zM265 249h2v2h-2zM269 249h2v2h-2zM273 249h2v2h-2zM255 251h2v2h-2zM257 251h2v2h-2zM261 251h2v2h-2zM263 251h2v2h-2zM265 251h2v2h-2zM267 251h2v2h-2zM269 251h2v2h-2zM257 253h2v2h-2zM259 253h2v2h-2zM269 253h2v2h-2zM279 253h2v2h-2zM267 255h2v2h-2zM269 255h2v2h-2zM259 257h2v2h-2zM261 257h2v2h-2zM273 257h2v2h-2zM257 259h2v2h-2zM261 259h2v2h-2zM265 259h2v2h-2zM273 259h2v2h-2zM277 259h2v2h-2zM257 261h2v2h-2zM269 261h2v2h-2zM273 261h2v2h-2zM261 263h2v2h-2zM263 267h2v2h-2zM271 267h2v2h-2zM269 269h2v2h-2zM259 271h2v2h-2zM267 271h2v2h-2zM255 275h2v2h-2zM259 275h2v2h-2zM267 281h2v2h-2zM257 463h2v2h-2zM259 463h2v2h-2zM263 463h2v2h-2zM251 465h2v2h-2zM263 465h2v2h-2zM241 467h2v2h-2zM243 467h2v2h-2zM253 467h2v2h-2zM255 467h2v2h-2zM257 467h2v2h-2zM259 467h2v2h-2zM261 467h2v2h-2zM263 467h2v2h-2zM265 467h2v2h-2zM267 467h2v2h-2zM269 467h2v2h-2zM245 469h2v2h-2zM247 469h2v2h-2zM249 469h2v2h-2zM253 469h2v2h-2zM255 469h2v2h-2zM257 469h2v2h-2zM259 469h2v2h-2zM261 469h2v2h-2zM263 469h2v2h-2zM237 471h2v2h-2zM243 471h2v2h-2zM245 471h2v2h-2zM247 471h2v2h-2zM251 471h2v2h-2zM259 471h2v2h-2zM261 471h2v2h-2zM263 471h2v2h-2zM265 471h2v2h-2zM267 471h2v2h-2zM269 471h2v2h-2zM239 473h2v2h-2zM241 473h2v2h-2zM255 473h2v2h-2zM261 473h2v2h-2zM265 473h2v2h-2zM267 473h2v2h-2zM269 473h2v2h-2zM271 473h2v2h-2zM273 473h2v2h-2zM233 475h2v2h-2zM235 475h2v2h-2zM249 475h2v2h-2zM255 475h2v2h-2zM271 475h2v2h-2zM273 475h2v2h-2zM275 475h2v2h-2zM231 477h2v2h-2zM233 477h2v2h-2zM235 477h2v2h-2zM237 477h2v2h-2zM241 477h2v2h-2zM273 477h2v2h-2zM229 479h2v2h-2zM233 479h2v2h-2zM271 479h2v2h-2zM277 479h2v2h-2zM227 481h2v2h-2zM229 481h2v2h-2zM231 481h2v2h-2zM233 481h2v2h-2zM273 481h2v2h-2zM275 481h2v2h-2zM277 481h2v2h-2zM225 483h2v2h-2zM227 483h2v2h-2zM229 483h2v2h-2zM275 483h2v2h-2zM277 483h2v2h-2zM279 483h2v2h-2zM225 485h2v2h-2zM227 485h2v2h-2zM229 485h2v2h-2zM277 485h2v2h-2zM281 485h2v2h-2zM221 487h2v2h-2zM223 487h2v2h-2zM225 487h2v2h-2zM227 487h2v2h-2zM223 489h2v2h-2zM225 489h2v2h-2zM227 489h2v2h-2zM279 489h2v2h-2zM283 489h2v2h-2zM219 491h2v2h-2zM221 491h2v2h-2zM223 491h2v2h-2zM281 491h2v2h-2zM283 491h2v2h-2zM219 493h2v2h-2zM223 493h2v2h-2zM281 493h2v2h-2zM283 493h2v2h-2zM285 493h2v2h-2zM287 493h2v2h-2zM219 495h2v2h-2zM221 495h2v2h-2zM223 495h2v2h-2zM281 495h2v2h-2zM283 495h2v2h-2zM285 495h2v2h-2zM289 495h2v2h-2zM283 497h2v2h-2zM285 497h2v2h-2zM217 499h2v2h-2zM283 499h2v2h-2zM285 499h2v2h-2zM287 499h2v2h-2zM217 501h2v2h-2zM219 501h2v2h-2zM285 501h2v2h-2zM287 501h2v2h-2zM215 503h2v2h-2zM285 503h2v2h-2zM217 505h2v2h-2zM283 505h2v2h-2zM285 505h2v2h-2zM215 507h2v2h-2zM217 507h2v2h-2zM283 507h2v2h-2zM217 509h2v2h-2zM219 509h2v2h-2zM281 509h2v2h-2zM283 509h2v2h-2zM285 509h2v2h-2zM217 511h2v2h-2zM219 511h2v2h-2zM279 511h2v2h-2zM283 511h2v2h-2zM285 511h2v2h-2zM217 513h2v2h-2zM219 513h2v2h-2zM221 513h2v2h-2zM281 513h2v2h-2zM283 513h2v2h-2zM219 515h2v2h-2zM221 515h2v2h-2zM225 515h2v2h-2zM279 515h2v2h-2zM281 515h2v2h-2z"/>
<path fill="#70ff40" d="M275 179h2v2h-2zM279 185h2v2h-2zM275 203h2v2h-2zM267 207h2v2h-2zM275 211h2v2h-2zM269 213h2v2h-2zM279 213h2v2h-2zM281 217h2v2h-2zM267 223h2v2h-2zM263 233h2v2h-2zM273 235h2v2h-2zM249 471h2v2h-2zM253 471h2v2h-2zM255 471h2v2h-2zM257 471h2v2h-2zM243 473h2v2h-2zM245 473h2v2h-2zM247 473h2v2h-2zM249 473h2v2h-2zM251 473h2v2h-2zM253 473h2v2h-2zM257 473h2v2h-2zM259 473h2v2h-2zM263 473h2v2h-2zM237 475h2v2h-2zM239 475h2v2h-2zM241 475h2v2h-2zM243 475h2v2h-2zM245 475h2v2h-2zM247 475h2v2h-2zM251 475h2v2h-2zM253 475h2v2h-2zM257 475h2v2h-2zM259 475h2v2h-2zM261 475h2v2h-2zM263 475h2v2h-2zM265 475h2v2h-2zM267 475h2v2h-2zM269 475h2v2h-2zM239 477h2v2h-2zM243 477h2v2h-2zM245 477h2v2h-2zM247 477h2v2h-2zM249 477h2v2h-2zM251 477h2v2h-2zM253 477h2v2h-2zM255 477h2v2h-2zM257 477h2v2h-2zM259 477h2v2h-2zM261 477h2v2h-2zM263 477h2v2h-2zM265 477h2v2h-2zM267 477h2v2h-2zM269 477h2v2h-2zM271 477h2v2h-2zM235 479h2v2h-2zM237 479h2v2h-2zM239 479h2v2h-2zM241 479h2v2h-2zM243 479h2v2h-2zM245 479h2v2h-2zM247 479h2v2h-2zM249 479h2v2h-2zM251 479h2v2h-2zM253 479h2v2h-2zM255 479h2v2h-2zM257 479h2v2h-2zM259 479h2v2h-2zM261 479h2v2h-2zM263 479h2v2h-2zM265 479h2v2h-2zM267 479h2v2h-2zM269 479h2v2h-2zM273 479h2v2h-2zM235 481h2v2h-2zM237 481h2v2h-2zM239 481h2v2h-2zM241 481h2v2h-2zM243 481h2v2h-2zM245 481h2v2h-2zM247 481h2v2h-2zM249 481h2v2h-2zM251 481h2v2h-2zM253 481h2v2h-2zM255 481h2v2h-2zM257 481h2v2h-2zM259 481h2v2h-2zM261 481h2v2h-2zM263 481h2v2h-2zM265 481h2v2h-2zM267 481h2v2h-2zM269 481h2v2h-2zM271 481h2v2h-2zM231 483h2v2h-2zM233 483h2v2h-2zM235 483h2v2h-2zM237 483h2v2h-2zM239 483h2v2h-2zM241 483h2v2h-2zM243 483h2v2h-2zM245 483h2v2h-2zM247 483h2v2h-2zM249 483h2v2h-2zM251 483h2v2h-2zM257 483h2v2h-2zM259 483h2v2h-2zM261 483h2v2h-2zM265 483h2v2h-2zM267 483h2v2h-2zM269 483h2v2h-2zM271 483h2v2h-2zM273 483h2v2h-2zM231 485h2v2h-2zM233 485h2v2h-2zM235 485h2v2h-2zM237 485h2v2h-2zM239 485h2v2h-2zM241 485h2v2h-2zM243 485h2v2h-2zM245 485h2v2h-2zM247 485h2v2h-2zM249 485h2v2h-2zM251 485h2v2h-2zM253 485h2v2h-2zM255 485h2v2h-2zM265 485h2v2h-2zM267 485h2v2h-2zM269 485h2v2h-2zM271 485h2v2h-2zM273 485h2v2h-2zM275 485h2v2h-2zM279 485h2v2h-2zM229 487h2v2h-2zM231 487h2v2h-2zM233 487h2v2h-2zM235 487h2v2h-2zM237 487h2v2h-2zM239 487h2v2h-2zM241 487h2v2h-2zM243 487h2v2h-2zM245 487h2v2h-2zM247 487h2v2h-2zM249 487h2v2h-2zM259 487h2v2h-2zM263 487h2v2h-2zM267 487h2v2h-2zM269 487h2v2h-2zM271 487h2v2h-2zM273 487h2v2h-2zM275 487h2v2h-2zM277 487h2v2h-2zM279 487h2v2h-2zM281 487h2v2h-2zM229 489h2v2h-2zM231 489h2v2h-2zM233 489h2v2h-2zM239 489h2v2h-2zM247 489h2v2h-2zM251 489h2v2h-2zM257 489h2v2h-2zM263 489h2v2h-2zM265 489h2v2h-2zM267 489h2v2h-2zM269 489h2v2h-2zM271 489h2v2h-2zM273 489h2v2h-2zM275 489h2v2h-2zM277 489h2v2h-2zM281 489h2v2h-2zM225 491h2v2h-2zM227 491h2v2h-2zM229 491h2v2h-2zM231 491h2v2h-2zM233 491h2v2h-2zM237 491h2v2h-2zM251 491h2v2h-2zM257 491h2v2h-2zM267 491h2v2h-2zM271 491h2v2h-2zM273 491h2v2h-2zM275 491h2v2h-2zM277 491h2v2h-2zM279 491h2v2h-2zM221 493h2v2h-2zM225 493h2v2h-2zM227 493h2v2h-2zM229 493h2v2h-2zM231 493h2v2h-2zM233 493h2v2h-2zM235 493h2v2h-2zM239 493h2v2h-2zM271 493h2v2h-2zM277 493h2v2h-2zM279 493h2v2h-2zM225 495h2v2h-2zM227 495h2v2h-2zM231 495h2v2h-2zM233 495h2v2h-2zM273 495h2v2h-2zM275 495h2v2h-2zM277 495h2v2h-2zM279 495h2v2h-2zM221 497h2v2h-2zM223 497h2v2h-2zM225 497h2v2h-2zM227 497h2v2h-2zM269 497h2v2h-2zM273 497h2v2h-2zM275 497h2v2h-2zM277 497h2v2h-2zM279 497h2v2h-2zM281 497h2v2h-2zM219 499h2v2h-2zM221 499h2v2h-2zM223 499h2v2h-2zM225 499h2v2h-2zM227 499h2v2h-2zM271 499h2v2h-2zM273 499h2v2h-2zM275 499h2v2h-2zM277 499h2v2h-2zM279 499h2v2h-2zM281 499h2v2h-2zM221 501h2v2h-2zM223 501h2v2h-2zM275 501h2v2h-2zM277 501h2v2h-2zM279 501h2v2h-2zM281 501h2v2h-2zM283 501h2v2h-2zM217 503h2v2h-2zM219 503h2v2h-2zM221 503h2v2h-2zM223 503h2v2h-2zM275 503h2v2h-2zM277 503h2v2h-2zM279 503h2v2h-2zM281 503h2v2h-2zM283 503h2v2h-2zM219 505h2v2h-2zM221 505h2v2h-2zM223 505h2v2h-2zM279 505h2v2h-2zM281 505h2v2h-2zM219 507h2v2h-2zM221 507h2v2h-2zM223 507h2v2h-2zM273 507h2v2h-2zM277 507h2v2h-2zM281 507h2v2h-2zM221 509h2v2h-2zM223 509h2v2h-2zM225 509h2v2h-2zM273 509h2v2h-2zM275 509h2v2h-2zM277 509h2v2h-2zM279 509h2v2h-2zM221 511h2v2h-2zM223 511h2v2h-2zM225 511h2v2h-2zM229 511h2v2h-2zM265 511h2v2h-2zM269 511h2v2h-2zM271 511h2v2h-2zM275 511h2v2h-2zM277 511h2v2h-2zM281 511h2v2h-2zM223 513h2v2h-2zM225 513h2v2h-2zM227 513h2v2h-2zM229 513h2v2h-2zM267 513h2v2h-2zM271 513h2v2h-2zM273 513h2v2h-2zM275 513h2v2h-2zM277 513h2v2h-2zM279 513h2v2h-2zM223 515h2v2h-2zM227 515h2v2h-2zM229 515h2v2h-2zM231 515h2v2h-2zM239 515h2v2h-2zM257 515h2v2h-2zM261 515h2v2h-2zM263 515h2v2h-2zM267 515h2v2h-2zM269 515h2v2h-2zM271 515h2v2h-2zM273 515h2v2h-2zM275 515h2v2h-2zM277 515h2v2h-2z"/>
<path fill="#e0ff00" d="M253 483h2v2h-2zM255 483h2v2h-2zM263 483h2v2h-2zM257 485h2v2h-2zM259 485h2v2h-2zM261 485h2v2h-2zM263 485h2v2h-2zM251 487h2v2h-2zM253 487h2v2h-2zM255 487h2v2h-2zM257 487h2v2h-2zM261 487h2v2h-2zM265 487h2v2h-2zM235 489h2v2h-2zM237 489h2v2h-2zM241 489h2v2h-2zM243 489h2v2h-2zM245 489h2v2h-2zM249 489h2v2h-2zM253 489h2v2h-2zM255 489h2v2h-2zM259 489h2v2h-2zM261 489h2v2h-2zM235 491h2v2h-2zM239 491h2v2h-2zM241 491h2v2h-2zM243 491h2v2h-2zM245 491h2v2h-2zM247 491h2v2h-2zM249 491h2v2h-2zM253 491h2v2h-2zM255 491h2v2h-2zM259 491h2v2h-2zM261 491h2v2h-2zM263 491h2v2h-2zM265 491h2v2h-2zM269 491h2v2h-2zM237 493h2v2h-2zM241 493h2v2h-2zM243 493h2v2h-2zM245 493h2v2h-2zM247 493h2v2h-2zM249 493h2v2h-2zM251 493h2v2h-2zM253 493h2v2h-2zM255 493h2v2h-2zM257 493h2v2h-2zM259 493h2v2h-2zM261 493h2v2h-2zM263 493h2v2h-2zM265 493h2v2h-2zM267 493h2v2h-2zM269 493h2v2h-2zM273 493h2v2h-2zM275 493h2v2h-2zM229 495h2v2h-2zM235 495h2v2h-2zM237 495h2v2h-2zM239 495h2v2h-2zM241 495h2v2h-2zM243 495h2v2h-2zM245 495h2v2h-2zM255 495h2v2h-2zM257 495h2v2h-2zM259 495h2v2h-2zM261 495h2v2h-2zM263 495h2v2h-2zM265 495h2v2h-2zM269 495h2v2h-2zM271 495h2v2h-2zM229 497h2v2h-2zM231 497h2v2h-2zM233 497h2v2h-2zM235 497h2v2h-2zM239 497h2v2h-2zM255 497h2v2h-2zM257 497h2v2h-2zM259 497h2v2h-2zM261 497h2v2h-2zM263 497h2v2h-2zM265 497h2v2h-2zM267 497h2v2h-2zM271 497h2v2h-2zM229 499h2v2h-2zM231 499h2v2h-2zM263 499h2v2h-2zM267 499h2v2h-2zM269 499h2v2h-2zM225 501h2v2h-2zM227 501h2v2h-2zM229 501h2v2h-2zM231 501h2v2h-2zM263 501h2v2h-2zM267 501h2v2h-2zM269 501h2v2h-2zM271 501h2v2h-2zM273 501h2v2h-2zM225 503h2v2h-2zM227 503h2v2h-2zM231 503h2v2h-2zM265 503h2v2h-2zM267 503h2v2h-2zM269 503h2v2h-2zM271 503h2v2h-2zM273 503h2v2h-2zM225 505h2v2h-2zM227 505h2v2h-2zM269 505h2v2h-2zM271 505h2v2h-2zM273 505h2v2h-2zM275 505h2v2h-2zM277 505h2v2h-2zM225 507h2v2h-2zM227 507h2v2h-2zM229 507h2v2h-2zM231 507h2v2h-2zM267 507h2v2h-2zM269 507h2v2h-2zM271 507h2v2h-2zM275 507h2v2h-2zM279 507h2v2h-2zM227 509h2v2h-2zM229 509h2v2h-2zM231 509h2v2h-2zM263 509h2v2h-2zM265 509h2v2h-2zM269 509h2v2h-2zM271 509h2v2h-2zM227 511h2v2h-2zM231 511h2v2h-2zM233 511h2v2h-2zM235 511h2v2h-2zM263 511h2v2h-2zM267 511h2v2h-2zM273 511h2v2h-2zM231 513h2v2h-2zM233 513h2v2h-2zM235 513h2v2h-2zM239 513h2v2h-2zM247 513h2v2h-2zM249 513h2v2h-2zM253 513h2v2h-2zM261 513h2v2h-2zM263 513h2v2h-2zM265 513h2v2h-2zM269 513h2v2h-2zM233 515h2v2h-2zM235 515h2v2h-2zM237 515h2v2h-2zM241 515h2v2h-2zM243 515h2v2h-2zM245 515h2v2h-2zM247 515h2v2h-2zM249 515h2v2h-2zM251 515h2v2h-2zM253 515h2v2h-2zM255 515h2v2h-2zM259 515h2v2h-2zM265 515h2v2h-2z"/>
<path fill="#ff9000" d="M247 495h2v2h-2zM249 495h2v2h-2zM251 495h2v2h-2zM253 495h2v2h-2zM267 495h2v2h-2zM237 497h2v2h-2zM241 497h2v2h-2zM243 497h2v2h-2zM245 497h2v2h-2zM247 497h2v2h-2zM249 497h2v2h-2zM251 497h2v2h-2zM253 497h2v2h-2zM233 499h2v2h-2zM235 499h2v2h-2zM237 499h2v2h-2zM239 499h2v2h-2zM241 499h2v2h-2zM245 499h2v2h-2zM249 499h2v2h-2zM253 499h2v2h-2zM255 499h2v2h-2zM259 499h2v2h-2zM261 499h2v2h-2zM265 499h2v2h-2zM233 501h2v2h-2zM235 501h2v2h-2zM251 501h2v2h-2zM257 501h2v2h-2zM259 501h2v2h-2zM261 501h2v2h-2zM265 501h2v2h-2zM229 503h2v2h-2zM233 503h2v2h-2zM235 503h2v2h-2zM257 503h2v2h-2zM259 503h2v2h-2zM263 503h2v2h-2zM229 505h2v2h-2zM231 505h2v2h-2zM233 505h2v2h-2zM235 505h2v2h-2zM237 505h2v2h-2zM239 505h2v2h-2zM259 505h2v2h-2zM265 505h2v2h-2zM267 505h2v2h-2zM233 507h2v2h-2zM235 507h2v2h-2zM253 507h2v2h-2zM259 507h2v2h-2zM261 507h2v2h-2zM263 507h2v2h-2zM265 507h2v2h-2zM233 509h2v2h-2zM235 509h2v2h-2zM237 509h2v2h-2zM239 509h2v2h-2zM251 509h2v2h-2zM253 509h2v2h-2zM257 509h2v2h-2zM259 509h2v2h-2zM261 509h2v2h-2zM267 509h2v2h-2zM237 511h2v2h-2zM241 511h2v2h-2zM243 511h2v2h-2zM245 511h2v2h-2zM249 511h2v2h-2zM251 511h2v2h-2zM253 511h2v2h-2zM255 511h2v2h-2zM257 511h2v2h-2zM259 511h2v2h-2zM261 511h2v2h-2zM237 513h2v2h-2zM241 513h2v2h-2zM243 513h2v2h-2zM245 513h2v2h-2zM251 513h2v2h-2zM255 513h2v2h-2zM257 513h2v2h-2zM259 513h2v2h-2z"/>
<path fill="#ff3000" d="M243 499h2v2h-2zM247 499h2v2h-2zM251 499h2v2h-2zM257 499h2v2h-2zM237 501h2v2h-2zM239 501h2v2h-2zM241 501h2v2h-2zM243 501h2v2h-2zM245 501h2v2h-2zM247 501h2v2h-2zM249 501h2v2h-2zM253 501h2v2h-2zM255 501h2v2h-2zM237 503h2v2h-2zM239 503h2v2h-2zM241 503h2v2h-2zM243 503h2v2h-2zM245 503h2v2h-2zM247 503h2v2h-2zM249 503h2v2h-2zM251 503h2v2h-2zM253 503h2v2h-2zM255 503h2v2h-2zM261 503h2v2h-2zM241 505h2v2h-2zM243 505h2v2h-2zM245 505h2v2h-2zM247 505h2v2h-2zM249 505h2v2h-2zM251 505h2v2h-2zM253 505h2v2h-2zM255 505h2v2h-2zM257 505h2v2h-2zM261 505h2v2h-2zM263 505h2v2h-2zM237 507h2v2h-2zM239 507h2v2h-2zM241 507h2v2h-2zM243 507h2v2h-2zM245 507h2v2h-2zM247 507h2v2h-2zM249 507h2v2h-2zM251 507h2v2h-2zM255 507h2v2h-2zM257 507h2v2h-2zM241 509h2v2h-2zM243 509h2v2h-2zM245 509h2v2h-2zM247 509h2v2h-2zM249 509h2v2h-2zM255 509h2v2h-2zM239 511h2v2h-2zM247 511h2v2h-2z"/>
</g>
<g shape-rendering="crispEdges" fill="#000">
<rect x="192" y="11" width="509" height="509" fill="none" stroke="#000" stroke-width="2"/>
<rect x="179" y="519.1" width="13" height="2"/>
<rect x="187" y="488.0" width="5" height="2"/>
<rect x="187" y="456.9" width="5" height="2"/>
<rect x="187" y="425.9" width="5" height="2"/>
<rect x="179" y="394.8" width="13" height="2"/>
<rect x="187" y="363.7" width="5" height="2"/>
<rect x="187" y="332.6" width="5" height="2"/>
<rect x="187" y="301.5" width="5" height="2"/>
<rect x="179" y="270.4" width="13" height="2"/>
<rect x="187" y="239.4" width="5" height="2"/>
<rect x="187" y="208.3" width="5" height="2"/>
<rect x="187" y="177.2" width="5" height="2"/>
<rect x="179" y="146.1" width="13" height="2"/>
<rect x="187" y="115.0" width="5" height="2"/>
<rect x="187" y="83.9" width="5" height="2"/>
<rect x="187" y="52.9" width="5" height="2"/>
<rect x="179" y="21.8" width="13" height="2"/>
<rect x="194.9" y="520" width="2" height="14"/>
<rect x="198.6" y="520" width="2" height="6.5"/>
<rect x="202.4" y="520" width="2" height="6.5"/>
<rect x="208.4" y="520" width="2" height="6.5"/>
<rect x="212.4" y="520" width="2" height="6.5"/>
<rect x="218.1" y="520" width="2" height="10"/>
<rect x="224.1" y="520" width="2" height="6.5"/>
<rect x="229.9" y="520" width="2" height="6.5"/>
<rect x="233.9" y="520" width="2" height="6.5"/>
<rect x="239.8" y="520" width="2" height="14"/>
<rect x="242.0" y="520" width="2" height="6.5"/>
<rect x="243.8" y="520" width="2" height="6.5"/>
<rect x="245.5" y="520" width="2" height="14"/>
<rect x="263.8" y="520" width="2" height="6.5"/>
<rect x="269.5" y="520" width="2" height="6.5"/>
<rect x="273.6" y="520" width="2" height="10"/>
<rect x="279.3" y="520" width="2" height="6.5"/>
<rect x="285.4" y="520" width="2" height="6.5"/>
<rect x="289.4" y="520" width="2" height="6.5"/>
<rect x="293.1" y="520" width="2" height="6.5"/>
<rect x="299.2" y="520" width="2" height="14"/>
<rect x="332.8" y="520" width="2" height="6.5"/>
<rect x="356.4" y="520" width="2" height="6.5"/>
<rect x="372.5" y="520" width="2" height="6.5"/>
<rect x="384.0" y="520" width="2" height="10"/>
<rect x="394.0" y="520" width="2" height="6.5"/>
<rect x="403.6" y="520" width="2" height="6.5"/>
<rect x="409.8" y="520" width="2" height="6.5"/>
<rect x="415.4" y="520" width="2" height="6.5"/>
<rect x="421.5" y="520" width="2" height="14"/>
<rect x="459.1" y="520" width="2" height="6.5"/>
<rect x="478.8" y="520" width="2" height="6.5"/>
<rect x="492.8" y="520" width="2" height="6.5"/>
<rect x="504.1" y="520" width="2" height="10"/>
<rect x="514.3" y="520" width="2" height="6.5"/>
<rect x="522.5" y="520" width="2" height="6.5"/>
<rect x="528.6" y="520" width="2" height="6.5"/>
<rect x="534.4" y="520" width="2" height="6.5"/>
<rect x="540.0" y="520" width="2" height="14"/>
<rect x="573.3" y="520" width="2" height="6.5"/>
<rect x="593.0" y="520" width="2" height="6.5"/>
<rect x="607.3" y="520" width="2" height="6.5"/>
<rect x="619.0" y="520" width="2" height="10"/>
<rect x="629.0" y="520" width="2" height="6.5"/>
<rect x="635.4" y="520" width="2" height="6.5"/>
<rect x="643.0" y="520" width="2" height="6.5"/>
<rect x="648.8" y="520" width="2" height="6.5"/>
<rect x="652.4" y="520" width="2" height="14"/>
<rect x="688.0" y="520" width="2" height="6.5"/>

</g>

<g font-family="Liberation Sans, sans-serif" font-size="25" fill="#000" stroke="#000" stroke-width="0.3">
<text x="170" y="32" text-anchor="end" textLength="46" lengthAdjust="spacingAndGlyphs">4000</text>
<text x="170" y="156" text-anchor="end" textLength="46" lengthAdjust="spacingAndGlyphs">3000</text>
<text x="170" y="281" text-anchor="end" textLength="46" lengthAdjust="spacingAndGlyphs">2000</text>
<text x="170" y="405" text-anchor="end" textLength="46" lengthAdjust="spacingAndGlyphs">1000</text>
<text x="170" y="529" text-anchor="end" textLength="12.5" lengthAdjust="spacingAndGlyphs">0</text>
<text x="0" y="0" transform="translate(115.5,264) rotate(-90)" text-anchor="middle" textLength="43" lengthAdjust="spacingAndGlyphs">SSC</text>
<text x="245" y="569" text-anchor="middle" textLength="11" lengthAdjust="spacingAndGlyphs">0</text>
<text x="285" y="569" textLength="20" lengthAdjust="spacingAndGlyphs">10</text>
<text x="407" y="569" textLength="19" lengthAdjust="spacingAndGlyphs">10</text>
<text x="525" y="569" textLength="20" lengthAdjust="spacingAndGlyphs">10</text>
<text x="638" y="569" textLength="21" lengthAdjust="spacingAndGlyphs">10</text>
<text x="392" y="597" textLength="108" lengthAdjust="spacingAndGlyphs">CD19 APC</text>
</g>
<g font-family="Liberation Sans, sans-serif" font-size="17.5" fill="#000" stroke="#000" stroke-width="0.4">
<text x="306.5" y="556.5">2</text>
<text x="428" y="556.5">3</text>
<text x="546.5" y="556.5">4</text>
<text x="660.5" y="556.5">5</text>
</g>

</svg></body></html>
